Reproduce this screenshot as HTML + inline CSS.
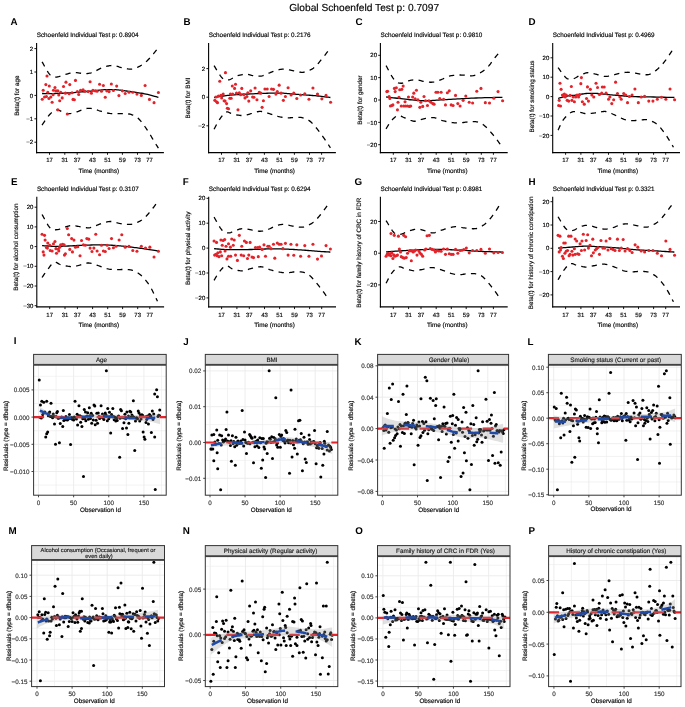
<!DOCTYPE html>
<html><head><meta charset="utf-8"><style>
html,body{margin:0;padding:0;background:#fff;}
svg{display:block;will-change:transform;}
text{font-family:"Liberation Sans", sans-serif;text-rendering:geometricPrecision;}
</style></head><body>
<svg width="685" height="707" viewBox="0 0 685 707">
<rect width="685" height="707" fill="#fff"/>
<text x="364.1" y="11" font-size="10.2" text-anchor="middle" stroke="#000" stroke-width="0.15">Global Schoenfeld Test p: 0.7097</text>
<text x="10.5" y="24.5" font-size="9.8" font-weight="bold">A</text>
<text x="183.5" y="24.5" font-size="9.8" font-weight="bold">B</text>
<text x="355.6" y="24.5" font-size="9.8" font-weight="bold">C</text>
<text x="528.5" y="24.5" font-size="9.8" font-weight="bold">D</text>
<text x="11" y="184.7" font-size="9.8" font-weight="bold">E</text>
<text x="182.8" y="184.7" font-size="9.8" font-weight="bold">F</text>
<text x="354.6" y="184.7" font-size="9.8" font-weight="bold">G</text>
<text x="528.5" y="184.7" font-size="9.8" font-weight="bold">H</text>
<text x="13.7" y="344.4" font-size="9.8" font-weight="bold">I</text>
<text x="183.2" y="344.5" font-size="9.8" font-weight="bold">J</text>
<text x="354.6" y="344.5" font-size="9.8" font-weight="bold">K</text>
<text x="527.6" y="344.5" font-size="9.8" font-weight="bold">L</text>
<text x="8.4" y="533.5" font-size="9.8" font-weight="bold">M</text>
<text x="182.8" y="533.5" font-size="9.8" font-weight="bold">N</text>
<text x="355.3" y="533.5" font-size="9.8" font-weight="bold">O</text>
<text x="528.6" y="533.5" font-size="9.8" font-weight="bold">P</text>
<text x="36.7" y="36.8" font-size="6.35" stroke="#000" stroke-width="0.15">Schoenfeld Individual Test p: 0.8904</text>
<path d="M42.07 61.82 L42.71 62.93 L43.57 64.48 L44.6 66.33 L45.74 68.35 L46.93 70.38 L48.11 72.28 L49.23 73.9 L50.23 75.11 L51.13 75.92 L51.98 76.48 L52.79 76.84 L53.59 77.03 L54.38 77.1 L55.18 77.09 L56.01 77.05 L56.88 77.01 L57.77 76.92 L58.66 76.73 L59.57 76.45 L60.49 76.12 L61.44 75.75 L62.41 75.38 L63.42 75.03 L64.47 74.73 L65.55 74.44 L66.66 74.12 L67.8 73.8 L68.97 73.48 L70.18 73.19 L71.41 72.95 L72.67 72.76 L73.96 72.64 L75.31 72.63 L76.76 72.72 L78.25 72.88 L79.77 73.07 L81.27 73.27 L82.72 73.44 L84.09 73.56 L85.34 73.59 L86.47 73.55 L87.51 73.48 L88.47 73.37 L89.38 73.22 L90.25 73.04 L91.13 72.82 L92.01 72.56 L92.93 72.26 L93.88 71.9 L94.83 71.46 L95.78 70.96 L96.73 70.44 L97.68 69.9 L98.63 69.38 L99.58 68.89 L100.53 68.47 L101.49 68.08 L102.47 67.71 L103.46 67.35 L104.44 67.02 L105.41 66.71 L106.35 66.44 L107.26 66.2 L108.12 66 L108.91 65.84 L109.63 65.7 L110.31 65.6 L110.96 65.54 L111.62 65.5 L112.3 65.51 L113.02 65.54 L113.81 65.62 L114.67 65.75 L115.57 65.94 L116.52 66.18 L117.49 66.45 L118.47 66.73 L119.46 67.02 L120.44 67.28 L121.4 67.52 L122.36 67.74 L123.34 67.97 L124.33 68.21 L125.32 68.43 L126.28 68.64 L127.23 68.81 L128.13 68.95 L128.99 69.04 L129.78 69.09 L130.51 69.12 L131.18 69.12 L131.84 69.08 L132.5 69.01 L133.17 68.89 L133.9 68.71 L134.69 68.47 L135.54 68.17 L136.45 67.81 L137.39 67.41 L138.36 66.95 L139.35 66.45 L140.34 65.9 L141.32 65.3 L142.28 64.67 L143.22 64 L144.15 63.3 L145.08 62.56 L146.01 61.77 L146.95 60.92 L147.9 60.02 L148.87 59.06 L149.87 58.03 L150.95 56.83 L152.14 55.44 L153.38 53.93 L154.61 52.4 L155.79 50.91 L156.85 49.56 L157.74 48.42 L158.41 47.59" fill="none" stroke="#000" stroke-width="1.3" stroke-dasharray="5.3 5.3"/>
<path d="M42.07 125.02 L42.63 124.21 L43.36 123.1 L44.23 121.77 L45.2 120.31 L46.24 118.82 L47.29 117.37 L48.32 116.05 L49.28 114.96 L50.2 114.03 L51.11 113.13 L52.02 112.29 L52.94 111.54 L53.87 110.89 L54.84 110.38 L55.83 110.02 L56.88 109.84 L57.97 109.92 L59.11 110.29 L60.3 110.84 L61.5 111.51 L62.72 112.21 L63.95 112.85 L65.17 113.35 L66.36 113.64 L67.55 113.71 L68.74 113.67 L69.92 113.54 L71.11 113.33 L72.3 113.06 L73.48 112.75 L74.67 112.43 L75.85 112.12 L77.05 111.76 L78.27 111.32 L79.5 110.82 L80.72 110.31 L81.92 109.81 L83.1 109.36 L84.25 108.98 L85.34 108.7 L86.38 108.52 L87.37 108.4 L88.33 108.34 L89.26 108.33 L90.17 108.37 L91.08 108.45 L92 108.56 L92.93 108.7 L93.87 108.89 L94.79 109.15 L95.7 109.45 L96.61 109.79 L97.54 110.15 L98.49 110.51 L99.49 110.85 L100.53 111.17 L101.62 111.48 L102.76 111.8 L103.94 112.13 L105.15 112.45 L106.37 112.75 L107.6 113.03 L108.82 113.26 L110.01 113.45 L111.21 113.57 L112.43 113.64 L113.66 113.68 L114.88 113.68 L116.08 113.67 L117.26 113.65 L118.41 113.63 L119.5 113.64 L120.54 113.63 L121.53 113.6 L122.49 113.55 L123.42 113.5 L124.33 113.48 L125.24 113.48 L126.16 113.53 L127.09 113.64 L128.06 113.79 L129.04 113.99 L130.03 114.21 L131.01 114.48 L131.98 114.78 L132.92 115.12 L133.83 115.49 L134.69 115.91 L135.48 116.35 L136.2 116.79 L136.88 117.26 L137.53 117.77 L138.19 118.35 L138.87 119.01 L139.59 119.77 L140.38 120.66 L141.25 121.7 L142.19 122.89 L143.17 124.2 L144.18 125.58 L145.18 127 L146.16 128.42 L147.1 129.8 L147.97 131.09 L148.78 132.34 L149.55 133.58 L150.29 134.81 L151 136.02 L151.68 137.21 L152.35 138.37 L153.01 139.5 L153.66 140.58 L154.34 141.68 L155.03 142.79 L155.72 143.9 L156.39 144.97 L157.02 145.97 L157.58 146.86 L158.05 147.6 L158.41 148.18" fill="none" stroke="#000" stroke-width="1.3" stroke-dasharray="5.3 5.3"/>
<path d="M42.07 93.52 L43.03 93.52 L44.25 93.54 L45.7 93.56 L47.34 93.58 L49.13 93.59 L51.02 93.58 L52.99 93.56 L54.98 93.52 L57.06 93.45 L59.3 93.37 L61.65 93.27 L64.09 93.15 L66.57 93.02 L69.07 92.88 L71.54 92.73 L73.96 92.57 L76.38 92.39 L78.88 92.18 L81.41 91.96 L83.92 91.73 L86.37 91.49 L88.72 91.27 L90.93 91.05 L92.93 90.86 L94.72 90.68 L96.31 90.51 L97.76 90.34 L99.1 90.19 L100.38 90.04 L101.65 89.91 L102.95 89.81 L104.32 89.72 L105.76 89.66 L107.21 89.62 L108.67 89.59 L110.13 89.58 L111.58 89.59 L112.99 89.62 L114.38 89.66 L115.71 89.72 L116.98 89.81 L118.21 89.92 L119.41 90.06 L120.57 90.21 L121.72 90.37 L122.87 90.54 L124.02 90.7 L125.2 90.86 L126.37 91.01 L127.52 91.17 L128.67 91.32 L129.82 91.48 L130.99 91.64 L132.18 91.81 L133.41 92 L134.69 92.19 L136.01 92.39 L137.38 92.59 L138.78 92.8 L140.2 93.02 L141.65 93.25 L143.12 93.51 L144.59 93.78 L146.07 94.09 L147.65 94.45 L149.38 94.88 L151.17 95.34 L152.95 95.82 L154.64 96.28 L156.17 96.7 L157.45 97.06 L158.41 97.31" fill="none" stroke="#000" stroke-width="1.3"/>
<circle cx="47.01" cy="76.06" r="1.55" fill="#E3232A"/>
<circle cx="75.47" cy="80.42" r="1.55" fill="#E3232A"/>
<circle cx="90.09" cy="81.75" r="1.55" fill="#E3232A"/>
<circle cx="65.99" cy="82.13" r="1.55" fill="#E3232A"/>
<circle cx="99.58" cy="84.22" r="1.55" fill="#E3232A"/>
<circle cx="103.37" cy="85.55" r="1.55" fill="#E3232A"/>
<circle cx="111.34" cy="84.03" r="1.55" fill="#E3232A"/>
<circle cx="116.66" cy="86.12" r="1.55" fill="#E3232A"/>
<circle cx="145.12" cy="85.55" r="1.55" fill="#E3232A"/>
<circle cx="45.87" cy="84.6" r="1.55" fill="#E3232A"/>
<circle cx="49.28" cy="85.93" r="1.55" fill="#E3232A"/>
<circle cx="54.98" cy="87.45" r="1.55" fill="#E3232A"/>
<circle cx="63.52" cy="86.5" r="1.55" fill="#E3232A"/>
<circle cx="69.78" cy="84.6" r="1.55" fill="#E3232A"/>
<circle cx="43.21" cy="90.29" r="1.55" fill="#E3232A"/>
<circle cx="47.77" cy="92.19" r="1.55" fill="#E3232A"/>
<circle cx="53.46" cy="90.29" r="1.55" fill="#E3232A"/>
<circle cx="55.93" cy="90.86" r="1.55" fill="#E3232A"/>
<circle cx="57.82" cy="90.86" r="1.55" fill="#E3232A"/>
<circle cx="60.67" cy="92.19" r="1.55" fill="#E3232A"/>
<circle cx="65.42" cy="93.14" r="1.55" fill="#E3232A"/>
<circle cx="69.21" cy="93.71" r="1.55" fill="#E3232A"/>
<circle cx="72.06" cy="92.76" r="1.55" fill="#E3232A"/>
<circle cx="77.37" cy="91.62" r="1.55" fill="#E3232A"/>
<circle cx="78.7" cy="94.47" r="1.55" fill="#E3232A"/>
<circle cx="80.6" cy="90.29" r="1.55" fill="#E3232A"/>
<circle cx="83.07" cy="89.72" r="1.55" fill="#E3232A"/>
<circle cx="84.96" cy="91.24" r="1.55" fill="#E3232A"/>
<circle cx="88.19" cy="91.62" r="1.55" fill="#E3232A"/>
<circle cx="91.42" cy="93.14" r="1.55" fill="#E3232A"/>
<circle cx="92.93" cy="90.29" r="1.55" fill="#E3232A"/>
<circle cx="95.21" cy="90.86" r="1.55" fill="#E3232A"/>
<circle cx="97.11" cy="91.24" r="1.55" fill="#E3232A"/>
<circle cx="101.47" cy="91.24" r="1.55" fill="#E3232A"/>
<circle cx="106.79" cy="90.86" r="1.55" fill="#E3232A"/>
<circle cx="109.07" cy="91.62" r="1.55" fill="#E3232A"/>
<circle cx="113.43" cy="90.48" r="1.55" fill="#E3232A"/>
<circle cx="122.35" cy="90.86" r="1.55" fill="#E3232A"/>
<circle cx="125.2" cy="93.52" r="1.55" fill="#E3232A"/>
<circle cx="128.99" cy="92.19" r="1.55" fill="#E3232A"/>
<circle cx="132.79" cy="92.19" r="1.55" fill="#E3232A"/>
<circle cx="136.96" cy="94.09" r="1.55" fill="#E3232A"/>
<circle cx="141.33" cy="95.42" r="1.55" fill="#E3232A"/>
<circle cx="158.41" cy="92.57" r="1.55" fill="#E3232A"/>
<circle cx="42.26" cy="99.21" r="1.55" fill="#E3232A"/>
<circle cx="44.54" cy="96.93" r="1.55" fill="#E3232A"/>
<circle cx="46.44" cy="96.55" r="1.55" fill="#E3232A"/>
<circle cx="48.91" cy="98.45" r="1.55" fill="#E3232A"/>
<circle cx="50.8" cy="96.93" r="1.55" fill="#E3232A"/>
<circle cx="52.13" cy="102.25" r="1.55" fill="#E3232A"/>
<circle cx="53.08" cy="94.66" r="1.55" fill="#E3232A"/>
<circle cx="59.72" cy="100.73" r="1.55" fill="#E3232A"/>
<circle cx="62.19" cy="97.88" r="1.55" fill="#E3232A"/>
<circle cx="58.77" cy="95.04" r="1.55" fill="#E3232A"/>
<circle cx="73.01" cy="99.4" r="1.55" fill="#E3232A"/>
<circle cx="74.34" cy="99.78" r="1.55" fill="#E3232A"/>
<circle cx="105.27" cy="97.31" r="1.55" fill="#E3232A"/>
<circle cx="118.93" cy="95.61" r="1.55" fill="#E3232A"/>
<circle cx="149.49" cy="99.4" r="1.55" fill="#E3232A"/>
<circle cx="154.04" cy="102.63" r="1.55" fill="#E3232A"/>
<circle cx="57.82" cy="109.84" r="1.55" fill="#E3232A"/>
<circle cx="67.31" cy="114.01" r="1.55" fill="#E3232A"/>
<line x1="36.6" y1="43" x2="36.6" y2="153.15" stroke="#000" stroke-width="1.1"/>
<line x1="36.05" y1="152.6" x2="163.9" y2="152.6" stroke="#000" stroke-width="1.1"/>
<line x1="49.5" y1="152.6" x2="49.5" y2="154.8" stroke="#000" stroke-width="0.9"/>
<text x="49.5" y="162.4" font-size="6" text-anchor="middle" stroke="#000" stroke-width="0.15">17</text>
<line x1="64.8" y1="152.6" x2="64.8" y2="154.8" stroke="#000" stroke-width="0.9"/>
<text x="64.8" y="162.4" font-size="6" text-anchor="middle" stroke="#000" stroke-width="0.15">31</text>
<line x1="77.2" y1="152.6" x2="77.2" y2="154.8" stroke="#000" stroke-width="0.9"/>
<text x="77.2" y="162.4" font-size="6" text-anchor="middle" stroke="#000" stroke-width="0.15">37</text>
<line x1="92.4" y1="152.6" x2="92.4" y2="154.8" stroke="#000" stroke-width="0.9"/>
<text x="92.4" y="162.4" font-size="6" text-anchor="middle" stroke="#000" stroke-width="0.15">43</text>
<line x1="107.5" y1="152.6" x2="107.5" y2="154.8" stroke="#000" stroke-width="0.9"/>
<text x="107.5" y="162.4" font-size="6" text-anchor="middle" stroke="#000" stroke-width="0.15">51</text>
<line x1="122.4" y1="152.6" x2="122.4" y2="154.8" stroke="#000" stroke-width="0.9"/>
<text x="122.4" y="162.4" font-size="6" text-anchor="middle" stroke="#000" stroke-width="0.15">59</text>
<line x1="137.5" y1="152.6" x2="137.5" y2="154.8" stroke="#000" stroke-width="0.9"/>
<text x="137.5" y="162.4" font-size="6" text-anchor="middle" stroke="#000" stroke-width="0.15">73</text>
<line x1="149.6" y1="152.6" x2="149.6" y2="154.8" stroke="#000" stroke-width="0.9"/>
<text x="149.6" y="162.4" font-size="6" text-anchor="middle" stroke="#000" stroke-width="0.15">77</text>
<text x="98.85" y="172.9" font-size="6.35" text-anchor="middle" stroke="#000" stroke-width="0.15">Time (months)</text>
<line x1="34.4" y1="142.2" x2="36.6" y2="142.2" stroke="#000" stroke-width="0.9"/>
<text x="33.2" y="144.35" font-size="6" text-anchor="end" stroke="#000" stroke-width="0.15">−2</text>
<line x1="34.4" y1="118.8" x2="36.6" y2="118.8" stroke="#000" stroke-width="0.9"/>
<text x="33.2" y="120.95" font-size="6" text-anchor="end" stroke="#000" stroke-width="0.15">−1</text>
<line x1="34.4" y1="95.4" x2="36.6" y2="95.4" stroke="#000" stroke-width="0.9"/>
<text x="33.2" y="97.55" font-size="6" text-anchor="end" stroke="#000" stroke-width="0.15">0</text>
<line x1="34.4" y1="72" x2="36.6" y2="72" stroke="#000" stroke-width="0.9"/>
<text x="33.2" y="74.15" font-size="6" text-anchor="end" stroke="#000" stroke-width="0.15">1</text>
<line x1="34.4" y1="48.6" x2="36.6" y2="48.6" stroke="#000" stroke-width="0.9"/>
<text x="33.2" y="50.75" font-size="6" text-anchor="end" stroke="#000" stroke-width="0.15">2</text>
<text x="18.6" y="95.7" font-size="6.3" text-anchor="middle" transform="rotate(-90 18.6 95.7)" stroke="#000" stroke-width="0.15">Beta(t) for age</text>
<text x="208.7" y="36.8" font-size="6.35" stroke="#000" stroke-width="0.15">Schoenfeld Individual Test p: 0.2176</text>
<path d="M214.07 65.62 L214.71 66.64 L215.57 68.08 L216.6 69.8 L217.74 71.67 L218.93 73.55 L220.11 75.32 L221.23 76.83 L222.23 77.96 L223.13 78.73 L223.98 79.3 L224.79 79.68 L225.59 79.91 L226.38 80.02 L227.18 80.02 L228.01 79.96 L228.88 79.85 L229.77 79.64 L230.66 79.26 L231.57 78.76 L232.49 78.19 L233.44 77.59 L234.41 77.01 L235.42 76.48 L236.47 76.06 L237.58 75.71 L238.75 75.37 L239.97 75.06 L241.21 74.78 L242.45 74.54 L243.67 74.35 L244.85 74.22 L245.96 74.16 L247 74.19 L247.99 74.33 L248.94 74.53 L249.87 74.78 L250.78 75.04 L251.69 75.3 L252.61 75.52 L253.55 75.68 L254.5 75.8 L255.45 75.93 L256.39 76.05 L257.34 76.14 L258.29 76.2 L259.24 76.22 L260.19 76.17 L261.14 76.06 L262.09 75.86 L263.04 75.57 L263.99 75.23 L264.93 74.84 L265.88 74.42 L266.83 74 L267.78 73.59 L268.73 73.21 L269.68 72.85 L270.63 72.46 L271.58 72.08 L272.53 71.69 L273.47 71.32 L274.42 70.97 L275.37 70.65 L276.32 70.36 L277.27 70.11 L278.22 69.86 L279.17 69.64 L280.12 69.44 L281.07 69.27 L282.01 69.15 L282.96 69.07 L283.91 69.04 L284.85 69.07 L285.77 69.17 L286.68 69.32 L287.59 69.5 L288.52 69.71 L289.47 69.93 L290.46 70.15 L291.5 70.36 L292.62 70.59 L293.83 70.87 L295.09 71.16 L296.37 71.46 L297.63 71.73 L298.84 71.98 L299.98 72.16 L300.99 72.26 L301.87 72.3 L302.64 72.29 L303.32 72.24 L303.96 72.14 L304.58 72 L305.22 71.82 L305.91 71.59 L306.69 71.31 L307.54 71.01 L308.45 70.68 L309.39 70.31 L310.36 69.89 L311.35 69.41 L312.34 68.87 L313.32 68.24 L314.28 67.52 L315.22 66.69 L316.15 65.77 L317.08 64.77 L318.01 63.7 L318.95 62.57 L319.9 61.4 L320.87 60.2 L321.87 58.98 L322.95 57.65 L324.14 56.14 L325.38 54.55 L326.61 52.94 L327.79 51.4 L328.85 50.01 L329.74 48.84 L330.41 47.97" fill="none" stroke="#000" stroke-width="1.3" stroke-dasharray="5.3 5.3"/>
<path d="M214.07 129.2 L214.47 128.45 L215 127.45 L215.62 126.25 L216.31 124.93 L217.06 123.54 L217.84 122.17 L218.62 120.87 L219.39 119.71 L220.15 118.6 L220.95 117.45 L221.78 116.31 L222.62 115.2 L223.48 114.19 L224.34 113.3 L225.19 112.6 L226.03 112.12 L226.84 111.9 L227.62 111.93 L228.39 112.15 L229.17 112.5 L229.97 112.91 L230.81 113.34 L231.71 113.73 L232.67 114.01 L233.73 114.24 L234.89 114.49 L236.1 114.75 L237.36 114.99 L238.62 115.2 L239.86 115.38 L241.05 115.49 L242.16 115.53 L243.2 115.49 L244.19 115.38 L245.15 115.22 L246.07 115.01 L246.99 114.77 L247.9 114.52 L248.82 114.26 L249.75 114.01 L250.71 113.75 L251.69 113.45 L252.68 113.12 L253.67 112.78 L254.64 112.46 L255.58 112.16 L256.48 111.92 L257.34 111.74 L258.13 111.61 L258.86 111.52 L259.53 111.47 L260.19 111.45 L260.85 111.47 L261.52 111.52 L262.25 111.61 L263.04 111.74 L263.88 111.91 L264.76 112.13 L265.66 112.4 L266.59 112.7 L267.56 113.02 L268.55 113.35 L269.58 113.69 L270.63 114.01 L271.74 114.36 L272.91 114.73 L274.13 115.12 L275.37 115.52 L276.61 115.91 L277.83 116.27 L279.01 116.59 L280.12 116.86 L281.16 117.08 L282.15 117.26 L283.1 117.41 L284.03 117.54 L284.94 117.64 L285.85 117.71 L286.77 117.77 L287.71 117.81 L288.66 117.82 L289.61 117.79 L290.55 117.73 L291.5 117.66 L292.45 117.58 L293.4 117.5 L294.35 117.45 L295.3 117.43 L296.25 117.42 L297.2 117.39 L298.15 117.37 L299.09 117.36 L300.04 117.38 L300.99 117.46 L301.94 117.59 L302.89 117.81 L303.84 118.09 L304.79 118.41 L305.74 118.77 L306.69 119.2 L307.64 119.68 L308.58 120.24 L309.53 120.88 L310.48 121.61 L311.43 122.43 L312.38 123.36 L313.33 124.38 L314.28 125.46 L315.23 126.6 L316.18 127.77 L317.12 128.96 L318.07 130.15 L319.04 131.38 L320.04 132.7 L321.04 134.06 L322.05 135.45 L323.03 136.82 L323.97 138.16 L324.85 139.42 L325.66 140.58 L326.43 141.69 L327.16 142.78 L327.86 143.84 L328.51 144.84 L329.1 145.76 L329.62 146.58 L330.06 147.26 L330.41 147.8" fill="none" stroke="#000" stroke-width="1.3" stroke-dasharray="5.3 5.3"/>
<path d="M214.07 97.5 L214.75 97.39 L215.61 97.23 L216.64 97.04 L217.8 96.83 L219.06 96.61 L220.4 96.39 L221.78 96.18 L223.18 95.99 L224.6 95.81 L226.08 95.63 L227.61 95.46 L229.21 95.29 L230.88 95.12 L232.65 94.96 L234.51 94.8 L236.47 94.66 L238.59 94.52 L240.9 94.38 L243.33 94.26 L245.84 94.14 L248.36 94.02 L250.83 93.91 L253.22 93.81 L255.45 93.71 L257.55 93.61 L259.6 93.53 L261.58 93.44 L263.51 93.36 L265.38 93.29 L267.19 93.23 L268.94 93.18 L270.63 93.14 L272.23 93.1 L273.74 93.08 L275.18 93.06 L276.56 93.04 L277.91 93.04 L279.26 93.06 L280.62 93.09 L282.01 93.14 L283.42 93.21 L284.82 93.31 L286.2 93.43 L287.59 93.55 L288.99 93.69 L290.42 93.83 L291.89 93.96 L293.4 94.09 L294.98 94.21 L296.63 94.32 L298.33 94.44 L300.04 94.56 L301.76 94.68 L303.45 94.8 L305.1 94.92 L306.69 95.04 L308.19 95.15 L309.64 95.26 L311.05 95.37 L312.44 95.48 L313.82 95.59 L315.2 95.71 L316.62 95.84 L318.07 95.99 L319.65 96.16 L321.38 96.36 L323.17 96.58 L324.95 96.8 L326.64 97.02 L328.17 97.22 L329.45 97.38 L330.41 97.5" fill="none" stroke="#000" stroke-width="1.3"/>
<circle cx="225.46" cy="72.64" r="1.55" fill="#E3232A"/>
<circle cx="219.77" cy="81.18" r="1.55" fill="#E3232A"/>
<circle cx="232.29" cy="85.93" r="1.55" fill="#E3232A"/>
<circle cx="235.52" cy="84.22" r="1.55" fill="#E3232A"/>
<circle cx="234.57" cy="88.39" r="1.55" fill="#E3232A"/>
<circle cx="241.78" cy="88.39" r="1.55" fill="#E3232A"/>
<circle cx="255.07" cy="88.01" r="1.55" fill="#E3232A"/>
<circle cx="264.93" cy="88.96" r="1.55" fill="#E3232A"/>
<circle cx="267.21" cy="88.96" r="1.55" fill="#E3232A"/>
<circle cx="271.58" cy="88.96" r="1.55" fill="#E3232A"/>
<circle cx="273.47" cy="89.34" r="1.55" fill="#E3232A"/>
<circle cx="279.17" cy="85.17" r="1.55" fill="#E3232A"/>
<circle cx="288.09" cy="87.82" r="1.55" fill="#E3232A"/>
<circle cx="312.95" cy="88.01" r="1.55" fill="#E3232A"/>
<circle cx="214.83" cy="100.35" r="1.55" fill="#E3232A"/>
<circle cx="216.54" cy="101.68" r="1.55" fill="#E3232A"/>
<circle cx="217.49" cy="102.63" r="1.55" fill="#E3232A"/>
<circle cx="215.97" cy="96.93" r="1.55" fill="#E3232A"/>
<circle cx="218.44" cy="95.99" r="1.55" fill="#E3232A"/>
<circle cx="220.91" cy="95.42" r="1.55" fill="#E3232A"/>
<circle cx="223.18" cy="94.09" r="1.55" fill="#E3232A"/>
<circle cx="221.66" cy="97.88" r="1.55" fill="#E3232A"/>
<circle cx="225.08" cy="101.11" r="1.55" fill="#E3232A"/>
<circle cx="226.6" cy="103.58" r="1.55" fill="#E3232A"/>
<circle cx="224.13" cy="100.73" r="1.55" fill="#E3232A"/>
<circle cx="227.36" cy="108.32" r="1.55" fill="#E3232A"/>
<circle cx="228.5" cy="108.7" r="1.55" fill="#E3232A"/>
<circle cx="229.82" cy="98.26" r="1.55" fill="#E3232A"/>
<circle cx="231.15" cy="98.26" r="1.55" fill="#E3232A"/>
<circle cx="230.39" cy="94.09" r="1.55" fill="#E3232A"/>
<circle cx="232.67" cy="94.09" r="1.55" fill="#E3232A"/>
<circle cx="236.47" cy="93.14" r="1.55" fill="#E3232A"/>
<circle cx="239.31" cy="92.76" r="1.55" fill="#E3232A"/>
<circle cx="240.64" cy="94.66" r="1.55" fill="#E3232A"/>
<circle cx="243.68" cy="94.66" r="1.55" fill="#E3232A"/>
<circle cx="245.01" cy="97.88" r="1.55" fill="#E3232A"/>
<circle cx="246.91" cy="96.55" r="1.55" fill="#E3232A"/>
<circle cx="247.85" cy="92.76" r="1.55" fill="#E3232A"/>
<circle cx="250.7" cy="90.86" r="1.55" fill="#E3232A"/>
<circle cx="252.6" cy="96.93" r="1.55" fill="#E3232A"/>
<circle cx="253.93" cy="97.31" r="1.55" fill="#E3232A"/>
<circle cx="256.96" cy="99.78" r="1.55" fill="#E3232A"/>
<circle cx="259.24" cy="92.19" r="1.55" fill="#E3232A"/>
<circle cx="260.76" cy="93.14" r="1.55" fill="#E3232A"/>
<circle cx="248.8" cy="101.11" r="1.55" fill="#E3232A"/>
<circle cx="263.42" cy="100.73" r="1.55" fill="#E3232A"/>
<circle cx="269.11" cy="96.55" r="1.55" fill="#E3232A"/>
<circle cx="275.94" cy="94.09" r="1.55" fill="#E3232A"/>
<circle cx="277.27" cy="91.62" r="1.55" fill="#E3232A"/>
<circle cx="281.07" cy="93.14" r="1.55" fill="#E3232A"/>
<circle cx="283.34" cy="100.35" r="1.55" fill="#E3232A"/>
<circle cx="285.43" cy="96.55" r="1.55" fill="#E3232A"/>
<circle cx="291.12" cy="95.04" r="1.55" fill="#E3232A"/>
<circle cx="293.78" cy="93.14" r="1.55" fill="#E3232A"/>
<circle cx="296.82" cy="98.45" r="1.55" fill="#E3232A"/>
<circle cx="300.61" cy="95.04" r="1.55" fill="#E3232A"/>
<circle cx="304.79" cy="93.71" r="1.55" fill="#E3232A"/>
<circle cx="308.96" cy="99.21" r="1.55" fill="#E3232A"/>
<circle cx="317.5" cy="94.09" r="1.55" fill="#E3232A"/>
<circle cx="321.87" cy="98.83" r="1.55" fill="#E3232A"/>
<circle cx="326.04" cy="95.42" r="1.55" fill="#E3232A"/>
<circle cx="330.6" cy="102.25" r="1.55" fill="#E3232A"/>
<circle cx="237.99" cy="109.84" r="1.55" fill="#E3232A"/>
<circle cx="262.09" cy="107.37" r="1.55" fill="#E3232A"/>
<line x1="208.6" y1="43" x2="208.6" y2="153.15" stroke="#000" stroke-width="1.1"/>
<line x1="208.05" y1="152.6" x2="335.9" y2="152.6" stroke="#000" stroke-width="1.1"/>
<line x1="221.5" y1="152.6" x2="221.5" y2="154.8" stroke="#000" stroke-width="0.9"/>
<text x="221.5" y="162.4" font-size="6" text-anchor="middle" stroke="#000" stroke-width="0.15">17</text>
<line x1="236.8" y1="152.6" x2="236.8" y2="154.8" stroke="#000" stroke-width="0.9"/>
<text x="236.8" y="162.4" font-size="6" text-anchor="middle" stroke="#000" stroke-width="0.15">31</text>
<line x1="249.2" y1="152.6" x2="249.2" y2="154.8" stroke="#000" stroke-width="0.9"/>
<text x="249.2" y="162.4" font-size="6" text-anchor="middle" stroke="#000" stroke-width="0.15">37</text>
<line x1="264.4" y1="152.6" x2="264.4" y2="154.8" stroke="#000" stroke-width="0.9"/>
<text x="264.4" y="162.4" font-size="6" text-anchor="middle" stroke="#000" stroke-width="0.15">43</text>
<line x1="279.5" y1="152.6" x2="279.5" y2="154.8" stroke="#000" stroke-width="0.9"/>
<text x="279.5" y="162.4" font-size="6" text-anchor="middle" stroke="#000" stroke-width="0.15">51</text>
<line x1="294.4" y1="152.6" x2="294.4" y2="154.8" stroke="#000" stroke-width="0.9"/>
<text x="294.4" y="162.4" font-size="6" text-anchor="middle" stroke="#000" stroke-width="0.15">59</text>
<line x1="309.5" y1="152.6" x2="309.5" y2="154.8" stroke="#000" stroke-width="0.9"/>
<text x="309.5" y="162.4" font-size="6" text-anchor="middle" stroke="#000" stroke-width="0.15">73</text>
<line x1="321.6" y1="152.6" x2="321.6" y2="154.8" stroke="#000" stroke-width="0.9"/>
<text x="321.6" y="162.4" font-size="6" text-anchor="middle" stroke="#000" stroke-width="0.15">77</text>
<text x="274.6" y="172.9" font-size="6.35" text-anchor="middle" stroke="#000" stroke-width="0.15">Time (months)</text>
<line x1="206.4" y1="125.8" x2="208.6" y2="125.8" stroke="#000" stroke-width="0.9"/>
<text x="205.2" y="127.95" font-size="6" text-anchor="end" stroke="#000" stroke-width="0.15">−2</text>
<line x1="206.4" y1="97.2" x2="208.6" y2="97.2" stroke="#000" stroke-width="0.9"/>
<text x="205.2" y="99.35" font-size="6" text-anchor="end" stroke="#000" stroke-width="0.15">0</text>
<line x1="206.4" y1="68.6" x2="208.6" y2="68.6" stroke="#000" stroke-width="0.9"/>
<text x="205.2" y="70.75" font-size="6" text-anchor="end" stroke="#000" stroke-width="0.15">2</text>
<text x="189.6" y="98.05" font-size="6.3" text-anchor="middle" transform="rotate(-90 189.6 98.05)" stroke="#000" stroke-width="0.15">Beta(t) for BMI</text>
<text x="380.5" y="36.8" font-size="6.35" stroke="#000" stroke-width="0.15">Schoenfeld Individual Test p: 0.9810</text>
<path d="M386.07 65.62 L386.71 66.79 L387.57 68.43 L388.6 70.39 L389.74 72.52 L390.93 74.68 L392.11 76.72 L393.23 78.5 L394.23 79.85 L395.13 80.84 L395.98 81.61 L396.79 82.19 L397.59 82.61 L398.38 82.9 L399.18 83.08 L400.01 83.2 L400.88 83.27 L401.78 83.23 L402.71 83.03 L403.65 82.71 L404.61 82.31 L405.58 81.88 L406.55 81.45 L407.51 81.08 L408.47 80.8 L409.4 80.59 L410.32 80.39 L411.23 80.21 L412.14 80.06 L413.07 79.93 L414.03 79.86 L415.02 79.83 L416.06 79.85 L417.17 79.97 L418.34 80.16 L419.56 80.42 L420.8 80.72 L422.04 81.03 L423.26 81.32 L424.44 81.57 L425.55 81.75 L426.59 81.89 L427.58 82.02 L428.53 82.12 L429.46 82.2 L430.38 82.25 L431.29 82.26 L432.2 82.22 L433.14 82.13 L434.09 81.98 L435.04 81.78 L435.99 81.52 L436.93 81.23 L437.88 80.91 L438.83 80.57 L439.78 80.21 L440.73 79.85 L441.68 79.47 L442.63 79.03 L443.58 78.56 L444.53 78.09 L445.47 77.62 L446.42 77.17 L447.37 76.77 L448.32 76.44 L449.27 76.16 L450.22 75.93 L451.17 75.73 L452.12 75.56 L453.07 75.42 L454.01 75.3 L454.96 75.2 L455.91 75.11 L456.85 75.04 L457.77 75 L458.68 74.99 L459.59 74.99 L460.52 75.01 L461.47 75.04 L462.46 75.07 L463.5 75.11 L464.61 75.18 L465.79 75.3 L467.01 75.44 L468.25 75.58 L469.49 75.7 L470.71 75.78 L471.88 75.78 L472.99 75.68 L474.03 75.49 L475.02 75.24 L475.98 74.94 L476.91 74.58 L477.82 74.16 L478.73 73.7 L479.65 73.19 L480.58 72.64 L481.55 72.04 L482.53 71.37 L483.51 70.65 L484.5 69.89 L485.47 69.09 L486.41 68.27 L487.32 67.42 L488.18 66.57 L488.98 65.69 L489.72 64.77 L490.43 63.82 L491.12 62.84 L491.79 61.86 L492.46 60.88 L493.15 59.92 L493.87 58.98 L494.65 58.01 L495.5 56.98 L496.39 55.93 L497.26 54.9 L498.09 53.93 L498.84 53.05 L499.47 52.32 L499.94 51.77" fill="none" stroke="#000" stroke-width="1.3" stroke-dasharray="5.3 5.3"/>
<path d="M386.07 128.82 L386.47 128.17 L387 127.28 L387.62 126.22 L388.31 125.06 L389.06 123.85 L389.84 122.67 L390.62 121.59 L391.39 120.66 L392.15 119.82 L392.95 118.99 L393.78 118.19 L394.62 117.44 L395.48 116.78 L396.34 116.22 L397.19 115.8 L398.03 115.53 L398.84 115.46 L399.62 115.56 L400.39 115.79 L401.17 116.14 L401.97 116.55 L402.81 116.99 L403.71 117.42 L404.67 117.81 L405.73 118.22 L406.89 118.71 L408.1 119.24 L409.36 119.78 L410.62 120.28 L411.86 120.72 L413.05 121.05 L414.16 121.23 L415.2 121.24 L416.19 121.12 L417.15 120.89 L418.07 120.59 L418.99 120.25 L419.9 119.9 L420.82 119.58 L421.75 119.33 L422.71 119.11 L423.69 118.89 L424.68 118.66 L425.67 118.45 L426.64 118.25 L427.58 118.07 L428.48 117.92 L429.34 117.81 L430.13 117.72 L430.86 117.64 L431.53 117.57 L432.19 117.54 L432.85 117.53 L433.52 117.57 L434.25 117.66 L435.04 117.81 L435.88 118.04 L436.76 118.34 L437.66 118.71 L438.59 119.11 L439.56 119.53 L440.55 119.95 L441.58 120.33 L442.63 120.66 L443.74 120.95 L444.91 121.23 L446.13 121.5 L447.37 121.76 L448.61 122 L449.83 122.21 L451.01 122.4 L452.12 122.55 L453.16 122.68 L454.15 122.79 L455.1 122.87 L456.03 122.92 L456.94 122.96 L457.85 122.97 L458.77 122.96 L459.71 122.93 L460.66 122.88 L461.61 122.78 L462.55 122.65 L463.5 122.51 L464.45 122.36 L465.4 122.21 L466.35 122.09 L467.3 121.99 L468.26 121.9 L469.24 121.81 L470.23 121.72 L471.21 121.64 L472.18 121.58 L473.13 121.55 L474.03 121.56 L474.89 121.61 L475.69 121.69 L476.45 121.79 L477.16 121.92 L477.86 122.08 L478.53 122.28 L479.21 122.51 L479.89 122.79 L480.58 123.12 L481.28 123.49 L481.96 123.88 L482.64 124.3 L483.31 124.77 L484 125.3 L484.72 125.89 L485.47 126.55 L486.28 127.3 L487.14 128.15 L488.04 129.09 L488.99 130.12 L489.95 131.2 L490.94 132.33 L491.93 133.5 L492.91 134.67 L493.87 135.84 L494.87 137.09 L495.94 138.48 L497.05 139.94 L498.14 141.4 L499.17 142.8 L500.1 144.05 L500.87 145.11 L501.46 145.9" fill="none" stroke="#000" stroke-width="1.3" stroke-dasharray="5.3 5.3"/>
<path d="M386.07 96.93 L387.04 97.05 L388.29 97.2 L389.78 97.38 L391.46 97.57 L393.27 97.79 L395.16 98.01 L397.08 98.23 L398.98 98.45 L400.95 98.68 L403.09 98.94 L405.33 99.2 L407.61 99.47 L409.89 99.73 L412.09 99.97 L414.17 100.18 L416.06 100.35 L417.73 100.48 L419.22 100.58 L420.58 100.66 L421.87 100.72 L423.15 100.75 L424.47 100.76 L425.88 100.76 L427.45 100.73 L429.15 100.67 L430.93 100.59 L432.78 100.47 L434.68 100.34 L436.63 100.2 L438.61 100.05 L440.61 99.91 L442.63 99.78 L444.66 99.66 L446.72 99.54 L448.81 99.43 L450.93 99.31 L453.08 99.19 L455.26 99.07 L457.47 98.95 L459.71 98.83 L461.96 98.71 L464.21 98.59 L466.48 98.46 L468.78 98.33 L471.14 98.21 L473.56 98.09 L476.07 97.98 L478.69 97.88 L481.59 97.79 L484.84 97.7 L488.28 97.62 L491.73 97.54 L495.04 97.47 L498.03 97.41 L500.55 97.36 L502.41 97.31" fill="none" stroke="#000" stroke-width="1.3"/>
<circle cx="386.83" cy="91.62" r="1.55" fill="#E3232A"/>
<circle cx="387.59" cy="91.24" r="1.55" fill="#E3232A"/>
<circle cx="389.11" cy="96.55" r="1.55" fill="#E3232A"/>
<circle cx="389.87" cy="98.45" r="1.55" fill="#E3232A"/>
<circle cx="394.42" cy="88.39" r="1.55" fill="#E3232A"/>
<circle cx="396.32" cy="87.82" r="1.55" fill="#E3232A"/>
<circle cx="395.18" cy="91.62" r="1.55" fill="#E3232A"/>
<circle cx="399.74" cy="89.72" r="1.55" fill="#E3232A"/>
<circle cx="401.82" cy="89.34" r="1.55" fill="#E3232A"/>
<circle cx="403.15" cy="86.12" r="1.55" fill="#E3232A"/>
<circle cx="398.98" cy="97.31" r="1.55" fill="#E3232A"/>
<circle cx="398.03" cy="102.25" r="1.55" fill="#E3232A"/>
<circle cx="390.44" cy="106.04" r="1.55" fill="#E3232A"/>
<circle cx="391.77" cy="105.47" r="1.55" fill="#E3232A"/>
<circle cx="392.91" cy="104.91" r="1.55" fill="#E3232A"/>
<circle cx="397.46" cy="109.84" r="1.55" fill="#E3232A"/>
<circle cx="401.26" cy="106.04" r="1.55" fill="#E3232A"/>
<circle cx="403.72" cy="106.04" r="1.55" fill="#E3232A"/>
<circle cx="405.62" cy="106.04" r="1.55" fill="#E3232A"/>
<circle cx="407.52" cy="106.04" r="1.55" fill="#E3232A"/>
<circle cx="409.42" cy="106.42" r="1.55" fill="#E3232A"/>
<circle cx="410.74" cy="106.04" r="1.55" fill="#E3232A"/>
<circle cx="405.05" cy="101.68" r="1.55" fill="#E3232A"/>
<circle cx="408.47" cy="96.93" r="1.55" fill="#E3232A"/>
<circle cx="412.64" cy="96.93" r="1.55" fill="#E3232A"/>
<circle cx="413.78" cy="93.14" r="1.55" fill="#E3232A"/>
<circle cx="416.44" cy="90.29" r="1.55" fill="#E3232A"/>
<circle cx="415.11" cy="98.83" r="1.55" fill="#E3232A"/>
<circle cx="417.96" cy="99.78" r="1.55" fill="#E3232A"/>
<circle cx="420.8" cy="102.25" r="1.55" fill="#E3232A"/>
<circle cx="419.85" cy="107.37" r="1.55" fill="#E3232A"/>
<circle cx="422.7" cy="106.42" r="1.55" fill="#E3232A"/>
<circle cx="424.03" cy="96.55" r="1.55" fill="#E3232A"/>
<circle cx="425.55" cy="100.73" r="1.55" fill="#E3232A"/>
<circle cx="427.45" cy="105.47" r="1.55" fill="#E3232A"/>
<circle cx="428.96" cy="100.73" r="1.55" fill="#E3232A"/>
<circle cx="430.86" cy="102.25" r="1.55" fill="#E3232A"/>
<circle cx="432.76" cy="103.58" r="1.55" fill="#E3232A"/>
<circle cx="434.09" cy="104.15" r="1.55" fill="#E3232A"/>
<circle cx="435.99" cy="92.19" r="1.55" fill="#E3232A"/>
<circle cx="437.88" cy="92.19" r="1.55" fill="#E3232A"/>
<circle cx="441.11" cy="92.19" r="1.55" fill="#E3232A"/>
<circle cx="439.78" cy="98.45" r="1.55" fill="#E3232A"/>
<circle cx="443.58" cy="99.21" r="1.55" fill="#E3232A"/>
<circle cx="447.37" cy="92.76" r="1.55" fill="#E3232A"/>
<circle cx="449.27" cy="90.86" r="1.55" fill="#E3232A"/>
<circle cx="445.47" cy="104.91" r="1.55" fill="#E3232A"/>
<circle cx="451.17" cy="104.91" r="1.55" fill="#E3232A"/>
<circle cx="453.07" cy="105.47" r="1.55" fill="#E3232A"/>
<circle cx="455.53" cy="95.42" r="1.55" fill="#E3232A"/>
<circle cx="457.81" cy="103.58" r="1.55" fill="#E3232A"/>
<circle cx="460.09" cy="106.04" r="1.55" fill="#E3232A"/>
<circle cx="463.12" cy="100.35" r="1.55" fill="#E3232A"/>
<circle cx="465.78" cy="95.99" r="1.55" fill="#E3232A"/>
<circle cx="469.2" cy="102.25" r="1.55" fill="#E3232A"/>
<circle cx="472.61" cy="103.01" r="1.55" fill="#E3232A"/>
<circle cx="476.79" cy="91.24" r="1.55" fill="#E3232A"/>
<circle cx="480.96" cy="88.39" r="1.55" fill="#E3232A"/>
<circle cx="485.33" cy="102.63" r="1.55" fill="#E3232A"/>
<circle cx="489.5" cy="103.01" r="1.55" fill="#E3232A"/>
<circle cx="493.87" cy="98.26" r="1.55" fill="#E3232A"/>
<circle cx="498.04" cy="91.62" r="1.55" fill="#E3232A"/>
<circle cx="502.6" cy="100.73" r="1.55" fill="#E3232A"/>
<line x1="380.4" y1="43" x2="380.4" y2="153.15" stroke="#000" stroke-width="1.1"/>
<line x1="379.85" y1="152.6" x2="507.7" y2="152.6" stroke="#000" stroke-width="1.1"/>
<line x1="393.3" y1="152.6" x2="393.3" y2="154.8" stroke="#000" stroke-width="0.9"/>
<text x="393.3" y="162.4" font-size="6" text-anchor="middle" stroke="#000" stroke-width="0.15">17</text>
<line x1="408.6" y1="152.6" x2="408.6" y2="154.8" stroke="#000" stroke-width="0.9"/>
<text x="408.6" y="162.4" font-size="6" text-anchor="middle" stroke="#000" stroke-width="0.15">31</text>
<line x1="421" y1="152.6" x2="421" y2="154.8" stroke="#000" stroke-width="0.9"/>
<text x="421" y="162.4" font-size="6" text-anchor="middle" stroke="#000" stroke-width="0.15">37</text>
<line x1="436.2" y1="152.6" x2="436.2" y2="154.8" stroke="#000" stroke-width="0.9"/>
<text x="436.2" y="162.4" font-size="6" text-anchor="middle" stroke="#000" stroke-width="0.15">43</text>
<line x1="451.3" y1="152.6" x2="451.3" y2="154.8" stroke="#000" stroke-width="0.9"/>
<text x="451.3" y="162.4" font-size="6" text-anchor="middle" stroke="#000" stroke-width="0.15">51</text>
<line x1="466.2" y1="152.6" x2="466.2" y2="154.8" stroke="#000" stroke-width="0.9"/>
<text x="466.2" y="162.4" font-size="6" text-anchor="middle" stroke="#000" stroke-width="0.15">59</text>
<line x1="481.3" y1="152.6" x2="481.3" y2="154.8" stroke="#000" stroke-width="0.9"/>
<text x="481.3" y="162.4" font-size="6" text-anchor="middle" stroke="#000" stroke-width="0.15">73</text>
<line x1="493.4" y1="152.6" x2="493.4" y2="154.8" stroke="#000" stroke-width="0.9"/>
<text x="493.4" y="162.4" font-size="6" text-anchor="middle" stroke="#000" stroke-width="0.15">77</text>
<text x="447.3" y="172.9" font-size="6.35" text-anchor="middle" stroke="#000" stroke-width="0.15">Time (months)</text>
<line x1="378.2" y1="144.7" x2="380.4" y2="144.7" stroke="#000" stroke-width="0.9"/>
<text x="377" y="146.85" font-size="6" text-anchor="end" stroke="#000" stroke-width="0.15">−20</text>
<line x1="378.2" y1="122.35" x2="380.4" y2="122.35" stroke="#000" stroke-width="0.9"/>
<text x="377" y="124.5" font-size="6" text-anchor="end" stroke="#000" stroke-width="0.15">−10</text>
<line x1="378.2" y1="100" x2="380.4" y2="100" stroke="#000" stroke-width="0.9"/>
<text x="377" y="102.15" font-size="6" text-anchor="end" stroke="#000" stroke-width="0.15">0</text>
<line x1="378.2" y1="77.65" x2="380.4" y2="77.65" stroke="#000" stroke-width="0.9"/>
<text x="377" y="79.8" font-size="6" text-anchor="end" stroke="#000" stroke-width="0.15">10</text>
<line x1="378.2" y1="55.3" x2="380.4" y2="55.3" stroke="#000" stroke-width="0.9"/>
<text x="377" y="57.45" font-size="6" text-anchor="end" stroke="#000" stroke-width="0.15">20</text>
<text x="362" y="100" font-size="6.3" text-anchor="middle" transform="rotate(-90 362 100)" stroke="#000" stroke-width="0.15">Beta(t) for gender</text>
<text x="552.8" y="36.8" font-size="6.35" stroke="#000" stroke-width="0.15">Schoenfeld Individual Test p: 0.4969</text>
<path d="M558.07 67.52 L558.71 68.39 L559.57 69.62 L560.6 71.08 L561.74 72.68 L562.93 74.28 L564.11 75.77 L565.23 77.03 L566.23 77.96 L567.13 78.56 L567.98 78.97 L568.79 79.22 L569.59 79.32 L570.38 79.31 L571.18 79.22 L572.01 79.08 L572.88 78.91 L573.78 78.65 L574.71 78.26 L575.65 77.77 L576.61 77.22 L577.58 76.64 L578.55 76.08 L579.51 75.55 L580.47 75.11 L581.42 74.71 L582.36 74.31 L583.31 73.91 L584.26 73.54 L585.21 73.22 L586.16 72.95 L587.11 72.75 L588.06 72.64 L588.99 72.64 L589.91 72.72 L590.82 72.89 L591.74 73.1 L592.66 73.36 L593.62 73.63 L594.61 73.91 L595.65 74.16 L596.76 74.43 L597.93 74.76 L599.15 75.12 L600.39 75.48 L601.64 75.81 L602.86 76.1 L604.03 76.32 L605.14 76.44 L606.18 76.45 L607.17 76.37 L608.12 76.23 L609.05 76.03 L609.97 75.81 L610.88 75.57 L611.79 75.33 L612.73 75.11 L613.68 74.89 L614.63 74.65 L615.58 74.4 L616.53 74.14 L617.47 73.88 L618.42 73.63 L619.37 73.41 L620.32 73.21 L621.27 73.03 L622.22 72.86 L623.17 72.7 L624.12 72.56 L625.07 72.44 L626.01 72.34 L626.96 72.28 L627.91 72.26 L628.85 72.29 L629.77 72.35 L630.68 72.45 L631.59 72.58 L632.52 72.73 L633.47 72.89 L634.46 73.05 L635.5 73.21 L636.62 73.39 L637.83 73.61 L639.09 73.85 L640.37 74.09 L641.63 74.32 L642.84 74.51 L643.98 74.65 L644.99 74.73 L645.87 74.76 L646.64 74.77 L647.32 74.75 L647.96 74.68 L648.58 74.56 L649.22 74.38 L649.91 74.13 L650.69 73.78 L651.54 73.35 L652.45 72.84 L653.39 72.25 L654.36 71.6 L655.35 70.89 L656.34 70.12 L657.32 69.32 L658.28 68.47 L659.23 67.57 L660.18 66.63 L661.12 65.63 L662.07 64.58 L663.02 63.48 L663.97 62.34 L664.92 61.15 L665.87 59.93 L666.87 58.56 L667.94 57.01 L669.05 55.37 L670.14 53.7 L671.17 52.1 L672.1 50.65 L672.87 49.44 L673.46 48.54" fill="none" stroke="#000" stroke-width="1.3" stroke-dasharray="5.3 5.3"/>
<path d="M558.07 130.15 L558.47 129.32 L558.97 128.19 L559.58 126.85 L560.26 125.38 L560.99 123.84 L561.77 122.34 L562.58 120.93 L563.39 119.71 L564.24 118.61 L565.17 117.53 L566.15 116.48 L567.16 115.5 L568.17 114.59 L569.16 113.77 L570.1 113.07 L570.98 112.5 L571.75 112.07 L572.45 111.79 L573.09 111.62 L573.71 111.55 L574.34 111.54 L575.03 111.59 L575.79 111.66 L576.67 111.74 L577.69 111.86 L578.82 112.08 L580.04 112.36 L581.3 112.67 L582.57 112.99 L583.83 113.27 L585.04 113.5 L586.16 113.64 L587.2 113.69 L588.19 113.68 L589.15 113.64 L590.07 113.55 L590.99 113.44 L591.9 113.32 L592.82 113.19 L593.75 113.07 L594.71 112.93 L595.69 112.76 L596.68 112.56 L597.67 112.37 L598.64 112.17 L599.58 111.99 L600.48 111.84 L601.34 111.74 L602.13 111.65 L602.86 111.57 L603.53 111.5 L604.19 111.45 L604.85 111.44 L605.52 111.48 L606.25 111.57 L607.04 111.74 L607.88 111.98 L608.76 112.29 L609.66 112.66 L610.59 113.08 L611.56 113.53 L612.55 114 L613.58 114.48 L614.63 114.96 L615.74 115.48 L616.91 116.05 L618.13 116.65 L619.37 117.26 L620.61 117.86 L621.83 118.42 L623.01 118.92 L624.12 119.33 L625.16 119.65 L626.15 119.92 L627.1 120.13 L628.03 120.3 L628.94 120.43 L629.85 120.53 L630.77 120.6 L631.71 120.66 L632.66 120.68 L633.61 120.64 L634.55 120.57 L635.5 120.48 L636.45 120.37 L637.4 120.26 L638.35 120.16 L639.3 120.09 L640.26 120.02 L641.24 119.93 L642.23 119.83 L643.21 119.74 L644.18 119.68 L645.13 119.64 L646.03 119.65 L646.89 119.71 L647.69 119.82 L648.45 119.98 L649.16 120.17 L649.86 120.4 L650.53 120.66 L651.21 120.94 L651.89 121.26 L652.58 121.61 L653.28 121.95 L653.96 122.29 L654.64 122.64 L655.31 123.03 L656 123.48 L656.72 124.01 L657.47 124.64 L658.28 125.4 L659.14 126.3 L660.04 127.31 L660.99 128.42 L661.95 129.61 L662.94 130.87 L663.93 132.18 L664.91 133.53 L665.87 134.89 L666.87 136.38 L667.94 138.06 L669.05 139.85 L670.14 141.65 L671.17 143.38 L672.1 144.94 L672.87 146.26 L673.46 147.23" fill="none" stroke="#000" stroke-width="1.3" stroke-dasharray="5.3 5.3"/>
<path d="M558.07 98.45 L558.77 98.25 L559.7 97.97 L560.81 97.64 L562.03 97.28 L563.34 96.91 L564.66 96.55 L565.96 96.24 L567.18 95.99 L568.35 95.8 L569.53 95.65 L570.71 95.54 L571.9 95.45 L573.1 95.37 L574.29 95.28 L575.48 95.17 L576.67 95.04 L577.84 94.86 L579 94.66 L580.15 94.44 L581.3 94.22 L582.46 94 L583.65 93.8 L584.88 93.64 L586.16 93.52 L587.49 93.44 L588.87 93.38 L590.29 93.36 L591.74 93.35 L593.19 93.37 L594.66 93.4 L596.11 93.45 L597.55 93.52 L598.97 93.61 L600.39 93.73 L601.82 93.87 L603.24 94.03 L604.66 94.19 L606.09 94.36 L607.51 94.52 L608.93 94.66 L610.36 94.78 L611.78 94.91 L613.2 95.03 L614.63 95.14 L616.05 95.26 L617.47 95.37 L618.9 95.49 L620.32 95.61 L621.69 95.73 L622.99 95.86 L624.26 95.99 L625.54 96.12 L626.88 96.24 L628.33 96.36 L629.92 96.46 L631.71 96.55 L633.68 96.63 L635.81 96.69 L638.06 96.73 L640.43 96.77 L642.89 96.8 L645.43 96.84 L648.03 96.88 L650.69 96.93 L653.59 97 L656.84 97.08 L660.28 97.16 L663.73 97.24 L667.04 97.32 L670.03 97.4 L672.55 97.46 L674.41 97.5" fill="none" stroke="#000" stroke-width="1.3"/>
<circle cx="559.97" cy="83.27" r="1.55" fill="#E3232A"/>
<circle cx="561.11" cy="89.34" r="1.55" fill="#E3232A"/>
<circle cx="571.36" cy="86.5" r="1.55" fill="#E3232A"/>
<circle cx="581.42" cy="77.58" r="1.55" fill="#E3232A"/>
<circle cx="580.85" cy="83.65" r="1.55" fill="#E3232A"/>
<circle cx="587.49" cy="86.88" r="1.55" fill="#E3232A"/>
<circle cx="590.34" cy="89.34" r="1.55" fill="#E3232A"/>
<circle cx="596.03" cy="83.27" r="1.55" fill="#E3232A"/>
<circle cx="597.55" cy="87.45" r="1.55" fill="#E3232A"/>
<circle cx="602.29" cy="87.07" r="1.55" fill="#E3232A"/>
<circle cx="604.19" cy="87.07" r="1.55" fill="#E3232A"/>
<circle cx="615.58" cy="82.13" r="1.55" fill="#E3232A"/>
<circle cx="634.93" cy="88.96" r="1.55" fill="#E3232A"/>
<circle cx="670.04" cy="88.96" r="1.55" fill="#E3232A"/>
<circle cx="562.44" cy="95.04" r="1.55" fill="#E3232A"/>
<circle cx="563.39" cy="95.99" r="1.55" fill="#E3232A"/>
<circle cx="564.34" cy="94.09" r="1.55" fill="#E3232A"/>
<circle cx="565.28" cy="96.93" r="1.55" fill="#E3232A"/>
<circle cx="566.23" cy="95.04" r="1.55" fill="#E3232A"/>
<circle cx="567.18" cy="100.35" r="1.55" fill="#E3232A"/>
<circle cx="568.7" cy="101.11" r="1.55" fill="#E3232A"/>
<circle cx="570.03" cy="95.42" r="1.55" fill="#E3232A"/>
<circle cx="571.93" cy="100.35" r="1.55" fill="#E3232A"/>
<circle cx="573.26" cy="96.93" r="1.55" fill="#E3232A"/>
<circle cx="574.39" cy="101.68" r="1.55" fill="#E3232A"/>
<circle cx="575.72" cy="96.93" r="1.55" fill="#E3232A"/>
<circle cx="577.05" cy="95.04" r="1.55" fill="#E3232A"/>
<circle cx="578.57" cy="96.93" r="1.55" fill="#E3232A"/>
<circle cx="579.52" cy="94.66" r="1.55" fill="#E3232A"/>
<circle cx="582.36" cy="101.68" r="1.55" fill="#E3232A"/>
<circle cx="584.26" cy="104.15" r="1.55" fill="#E3232A"/>
<circle cx="586.54" cy="98.45" r="1.55" fill="#E3232A"/>
<circle cx="588.44" cy="101.11" r="1.55" fill="#E3232A"/>
<circle cx="591.85" cy="95.04" r="1.55" fill="#E3232A"/>
<circle cx="593.75" cy="96.93" r="1.55" fill="#E3232A"/>
<circle cx="599.45" cy="94.47" r="1.55" fill="#E3232A"/>
<circle cx="601.72" cy="93.14" r="1.55" fill="#E3232A"/>
<circle cx="606.09" cy="93.14" r="1.55" fill="#E3232A"/>
<circle cx="608.55" cy="99.21" r="1.55" fill="#E3232A"/>
<circle cx="609.88" cy="96.93" r="1.55" fill="#E3232A"/>
<circle cx="611.78" cy="103.58" r="1.55" fill="#E3232A"/>
<circle cx="613.68" cy="99.78" r="1.55" fill="#E3232A"/>
<circle cx="617.47" cy="93.52" r="1.55" fill="#E3232A"/>
<circle cx="619.94" cy="96.93" r="1.55" fill="#E3232A"/>
<circle cx="621.27" cy="99.21" r="1.55" fill="#E3232A"/>
<circle cx="623.74" cy="93.52" r="1.55" fill="#E3232A"/>
<circle cx="625.64" cy="95.04" r="1.55" fill="#E3232A"/>
<circle cx="627.53" cy="102.63" r="1.55" fill="#E3232A"/>
<circle cx="629.43" cy="96.55" r="1.55" fill="#E3232A"/>
<circle cx="632.09" cy="95.04" r="1.55" fill="#E3232A"/>
<circle cx="638.35" cy="102.63" r="1.55" fill="#E3232A"/>
<circle cx="641.2" cy="96.93" r="1.55" fill="#E3232A"/>
<circle cx="644.61" cy="96.36" r="1.55" fill="#E3232A"/>
<circle cx="648.79" cy="101.11" r="1.55" fill="#E3232A"/>
<circle cx="652.96" cy="101.11" r="1.55" fill="#E3232A"/>
<circle cx="657.33" cy="99.21" r="1.55" fill="#E3232A"/>
<circle cx="661.5" cy="97.31" r="1.55" fill="#E3232A"/>
<circle cx="665.87" cy="99.21" r="1.55" fill="#E3232A"/>
<circle cx="674.6" cy="99.78" r="1.55" fill="#E3232A"/>
<circle cx="558.64" cy="105.47" r="1.55" fill="#E3232A"/>
<circle cx="560.54" cy="106.04" r="1.55" fill="#E3232A"/>
<circle cx="559.21" cy="100.35" r="1.55" fill="#E3232A"/>
<line x1="552.7" y1="43" x2="552.7" y2="153.15" stroke="#000" stroke-width="1.1"/>
<line x1="552.15" y1="152.6" x2="680" y2="152.6" stroke="#000" stroke-width="1.1"/>
<line x1="565.6" y1="152.6" x2="565.6" y2="154.8" stroke="#000" stroke-width="0.9"/>
<text x="565.6" y="162.4" font-size="6" text-anchor="middle" stroke="#000" stroke-width="0.15">17</text>
<line x1="580.9" y1="152.6" x2="580.9" y2="154.8" stroke="#000" stroke-width="0.9"/>
<text x="580.9" y="162.4" font-size="6" text-anchor="middle" stroke="#000" stroke-width="0.15">31</text>
<line x1="593.3" y1="152.6" x2="593.3" y2="154.8" stroke="#000" stroke-width="0.9"/>
<text x="593.3" y="162.4" font-size="6" text-anchor="middle" stroke="#000" stroke-width="0.15">37</text>
<line x1="608.5" y1="152.6" x2="608.5" y2="154.8" stroke="#000" stroke-width="0.9"/>
<text x="608.5" y="162.4" font-size="6" text-anchor="middle" stroke="#000" stroke-width="0.15">43</text>
<line x1="623.6" y1="152.6" x2="623.6" y2="154.8" stroke="#000" stroke-width="0.9"/>
<text x="623.6" y="162.4" font-size="6" text-anchor="middle" stroke="#000" stroke-width="0.15">51</text>
<line x1="638.5" y1="152.6" x2="638.5" y2="154.8" stroke="#000" stroke-width="0.9"/>
<text x="638.5" y="162.4" font-size="6" text-anchor="middle" stroke="#000" stroke-width="0.15">59</text>
<line x1="653.6" y1="152.6" x2="653.6" y2="154.8" stroke="#000" stroke-width="0.9"/>
<text x="653.6" y="162.4" font-size="6" text-anchor="middle" stroke="#000" stroke-width="0.15">73</text>
<line x1="665.7" y1="152.6" x2="665.7" y2="154.8" stroke="#000" stroke-width="0.9"/>
<text x="665.7" y="162.4" font-size="6" text-anchor="middle" stroke="#000" stroke-width="0.15">77</text>
<text x="617.75" y="172.9" font-size="6.35" text-anchor="middle" stroke="#000" stroke-width="0.15">Time (months)</text>
<line x1="550.5" y1="135.4" x2="552.7" y2="135.4" stroke="#000" stroke-width="0.9"/>
<text x="549.3" y="137.55" font-size="6" text-anchor="end" stroke="#000" stroke-width="0.15">−20</text>
<line x1="550.5" y1="116" x2="552.7" y2="116" stroke="#000" stroke-width="0.9"/>
<text x="549.3" y="118.15" font-size="6" text-anchor="end" stroke="#000" stroke-width="0.15">−10</text>
<line x1="550.5" y1="96.6" x2="552.7" y2="96.6" stroke="#000" stroke-width="0.9"/>
<text x="549.3" y="98.75" font-size="6" text-anchor="end" stroke="#000" stroke-width="0.15">0</text>
<line x1="550.5" y1="77.2" x2="552.7" y2="77.2" stroke="#000" stroke-width="0.9"/>
<text x="549.3" y="79.35" font-size="6" text-anchor="end" stroke="#000" stroke-width="0.15">10</text>
<line x1="550.5" y1="57.8" x2="552.7" y2="57.8" stroke="#000" stroke-width="0.9"/>
<text x="549.3" y="59.95" font-size="6" text-anchor="end" stroke="#000" stroke-width="0.15">20</text>
<text x="534.4" y="96.5" font-size="6.3" text-anchor="middle" transform="rotate(-90 534.4 96.5)" stroke="#000" stroke-width="0.15">Beta(t) for smoking status</text>
<text x="36.9" y="190.6" font-size="6.35" stroke="#000" stroke-width="0.15">Schoenfeld Individual Test p: 0.3107</text>
<path d="M42.07 214.5 L42.71 215.63 L43.57 217.24 L44.6 219.15 L45.74 221.23 L46.93 223.33 L48.11 225.28 L49.23 226.94 L50.23 228.16 L51.13 228.96 L51.98 229.49 L52.79 229.79 L53.59 229.93 L54.38 229.94 L55.18 229.86 L56.01 229.76 L56.88 229.68 L57.78 229.56 L58.71 229.33 L59.65 229.02 L60.61 228.66 L61.58 228.27 L62.55 227.88 L63.51 227.52 L64.47 227.21 L65.42 226.93 L66.36 226.62 L67.31 226.32 L68.26 226.03 L69.21 225.76 L70.16 225.55 L71.11 225.39 L72.06 225.31 L72.99 225.33 L73.91 225.42 L74.82 225.58 L75.74 225.79 L76.66 226.02 L77.62 226.25 L78.61 226.46 L79.65 226.64 L80.76 226.82 L81.93 227.02 L83.15 227.24 L84.39 227.45 L85.64 227.63 L86.86 227.75 L88.03 227.81 L89.14 227.78 L90.18 227.65 L91.17 227.43 L92.12 227.14 L93.05 226.8 L93.97 226.43 L94.88 226.04 L95.79 225.67 L96.73 225.31 L97.68 224.96 L98.63 224.58 L99.58 224.19 L100.53 223.8 L101.47 223.41 L102.42 223.05 L103.37 222.73 L104.32 222.47 L105.27 222.24 L106.22 222.03 L107.17 221.85 L108.12 221.7 L109.07 221.58 L110.01 221.51 L110.96 221.49 L111.91 221.52 L112.85 221.63 L113.77 221.81 L114.68 222.06 L115.59 222.35 L116.52 222.65 L117.47 222.94 L118.46 223.2 L119.5 223.42 L120.62 223.59 L121.83 223.76 L123.09 223.92 L124.37 224.07 L125.63 224.19 L126.84 224.28 L127.98 224.34 L128.99 224.36 L129.87 224.36 L130.64 224.33 L131.32 224.27 L131.96 224.19 L132.58 224.06 L133.22 223.9 L133.91 223.68 L134.69 223.42 L135.54 223.1 L136.45 222.76 L137.39 222.37 L138.36 221.93 L139.35 221.45 L140.34 220.9 L141.32 220.3 L142.28 219.62 L143.23 218.87 L144.18 218.05 L145.12 217.16 L146.07 216.22 L147.02 215.22 L147.97 214.19 L148.92 213.12 L149.87 212.03 L150.87 210.82 L151.94 209.45 L153.05 208 L154.14 206.53 L155.17 205.11 L156.1 203.84 L156.87 202.76 L157.46 201.97" fill="none" stroke="#000" stroke-width="1.3" stroke-dasharray="5.3 5.3"/>
<path d="M42.07 277.5 L42.47 276.92 L43 276.14 L43.62 275.21 L44.31 274.18 L45.06 273.09 L45.84 271.99 L46.62 270.91 L47.39 269.91 L48.15 268.9 L48.95 267.78 L49.78 266.63 L50.62 265.5 L51.48 264.45 L52.34 263.53 L53.19 262.8 L54.03 262.32 L54.84 262.14 L55.62 262.21 L56.39 262.47 L57.17 262.87 L57.97 263.34 L58.81 263.82 L59.71 264.26 L60.67 264.6 L61.73 264.87 L62.89 265.16 L64.1 265.45 L65.36 265.74 L66.62 266 L67.86 266.22 L69.05 266.39 L70.16 266.5 L71.2 266.54 L72.19 266.53 L73.15 266.48 L74.07 266.39 L74.99 266.26 L75.9 266.11 L76.82 265.93 L77.75 265.74 L78.71 265.49 L79.69 265.18 L80.68 264.83 L81.67 264.46 L82.64 264.09 L83.58 263.75 L84.48 263.47 L85.34 263.27 L86.13 263.14 L86.86 263.04 L87.53 262.98 L88.19 262.96 L88.85 262.98 L89.52 263.04 L90.25 263.14 L91.04 263.27 L91.88 263.46 L92.76 263.7 L93.66 263.98 L94.59 264.3 L95.56 264.65 L96.55 265.01 L97.58 265.38 L98.63 265.74 L99.74 266.12 L100.91 266.55 L102.13 267.01 L103.37 267.47 L104.61 267.91 L105.83 268.33 L107.01 268.68 L108.12 268.96 L109.16 269.17 L110.15 269.31 L111.1 269.4 L112.03 269.45 L112.94 269.48 L113.85 269.49 L114.77 269.51 L115.71 269.53 L116.66 269.56 L117.61 269.56 L118.55 269.56 L119.5 269.54 L120.45 269.53 L121.4 269.52 L122.35 269.52 L123.3 269.53 L124.26 269.55 L125.24 269.56 L126.23 269.56 L127.21 269.58 L128.18 269.61 L129.13 269.68 L130.03 269.77 L130.89 269.91 L131.69 270.09 L132.45 270.3 L133.16 270.54 L133.86 270.8 L134.53 271.1 L135.21 271.43 L135.89 271.79 L136.58 272.19 L137.28 272.6 L137.96 273.01 L138.64 273.45 L139.31 273.92 L140 274.45 L140.72 275.05 L141.47 275.75 L142.28 276.55 L143.14 277.46 L144.04 278.43 L144.99 279.49 L145.95 280.62 L146.94 281.84 L147.93 283.15 L148.91 284.55 L149.87 286.04 L150.87 287.77 L151.94 289.79 L153.05 291.99 L154.14 294.23 L155.17 296.39 L156.1 298.36 L156.87 300.02 L157.46 301.23" fill="none" stroke="#000" stroke-width="1.3" stroke-dasharray="5.3 5.3"/>
<path d="M42.07 245.62 L43.07 245.69 L44.38 245.78 L45.95 245.9 L47.7 246.02 L49.54 246.14 L51.42 246.25 L53.26 246.33 L54.98 246.38 L56.61 246.39 L58.23 246.37 L59.85 246.34 L61.48 246.28 L63.13 246.22 L64.8 246.15 L66.51 246.07 L68.26 246 L70.07 245.92 L71.92 245.83 L73.82 245.73 L75.74 245.62 L77.67 245.51 L79.61 245.41 L81.53 245.32 L83.45 245.24 L85.36 245.17 L87.29 245.1 L89.22 245.04 L91.16 244.98 L93.07 244.93 L94.97 244.89 L96.82 244.87 L98.63 244.86 L100.39 244.87 L102.13 244.89 L103.83 244.92 L105.51 244.97 L107.15 245.02 L108.77 245.09 L110.36 245.16 L111.91 245.24 L113.43 245.33 L114.89 245.43 L116.32 245.54 L117.72 245.66 L119.11 245.78 L120.5 245.91 L121.89 246.05 L123.3 246.19 L124.72 246.34 L126.15 246.49 L127.57 246.65 L128.99 246.82 L130.42 246.99 L131.84 247.16 L133.26 247.34 L134.69 247.52 L136.1 247.7 L137.51 247.88 L138.91 248.06 L140.32 248.24 L141.73 248.43 L143.16 248.63 L144.6 248.83 L146.07 249.04 L147.65 249.27 L149.38 249.53 L151.17 249.8 L152.95 250.08 L154.64 250.34 L156.17 250.58 L157.45 250.79 L158.41 250.93" fill="none" stroke="#000" stroke-width="1.3"/>
<circle cx="42.07" cy="234.23" r="1.55" fill="#E3232A"/>
<circle cx="44.54" cy="235.37" r="1.55" fill="#E3232A"/>
<circle cx="45.11" cy="240.12" r="1.55" fill="#E3232A"/>
<circle cx="47.77" cy="242.96" r="1.55" fill="#E3232A"/>
<circle cx="49.66" cy="245.24" r="1.55" fill="#E3232A"/>
<circle cx="46.44" cy="247.52" r="1.55" fill="#E3232A"/>
<circle cx="47.39" cy="248.09" r="1.55" fill="#E3232A"/>
<circle cx="43.21" cy="251.88" r="1.55" fill="#E3232A"/>
<circle cx="43.97" cy="255.11" r="1.55" fill="#E3232A"/>
<circle cx="50.23" cy="250.55" r="1.55" fill="#E3232A"/>
<circle cx="52.13" cy="250.93" r="1.55" fill="#E3232A"/>
<circle cx="53.46" cy="243.72" r="1.55" fill="#E3232A"/>
<circle cx="54.98" cy="241.45" r="1.55" fill="#E3232A"/>
<circle cx="55.93" cy="248.66" r="1.55" fill="#E3232A"/>
<circle cx="56.5" cy="253.21" r="1.55" fill="#E3232A"/>
<circle cx="58.39" cy="249.04" r="1.55" fill="#E3232A"/>
<circle cx="59.72" cy="247.14" r="1.55" fill="#E3232A"/>
<circle cx="60.67" cy="244.86" r="1.55" fill="#E3232A"/>
<circle cx="62.57" cy="244.29" r="1.55" fill="#E3232A"/>
<circle cx="64.09" cy="244.86" r="1.55" fill="#E3232A"/>
<circle cx="58.77" cy="250.93" r="1.55" fill="#E3232A"/>
<circle cx="64.47" cy="255.11" r="1.55" fill="#E3232A"/>
<circle cx="65.42" cy="253.78" r="1.55" fill="#E3232A"/>
<circle cx="67.31" cy="228.54" r="1.55" fill="#E3232A"/>
<circle cx="68.64" cy="234.8" r="1.55" fill="#E3232A"/>
<circle cx="71.68" cy="238.6" r="1.55" fill="#E3232A"/>
<circle cx="73.96" cy="240.12" r="1.55" fill="#E3232A"/>
<circle cx="69.78" cy="249.42" r="1.55" fill="#E3232A"/>
<circle cx="72.44" cy="251.88" r="1.55" fill="#E3232A"/>
<circle cx="75.47" cy="247.14" r="1.55" fill="#E3232A"/>
<circle cx="77.75" cy="246.76" r="1.55" fill="#E3232A"/>
<circle cx="80.03" cy="255.68" r="1.55" fill="#E3232A"/>
<circle cx="81.55" cy="240.5" r="1.55" fill="#E3232A"/>
<circle cx="83.45" cy="244.86" r="1.55" fill="#E3232A"/>
<circle cx="85.34" cy="245.24" r="1.55" fill="#E3232A"/>
<circle cx="86.86" cy="238.6" r="1.55" fill="#E3232A"/>
<circle cx="88.76" cy="239.17" r="1.55" fill="#E3232A"/>
<circle cx="90.09" cy="248.09" r="1.55" fill="#E3232A"/>
<circle cx="91.99" cy="251.5" r="1.55" fill="#E3232A"/>
<circle cx="93.88" cy="248.09" r="1.55" fill="#E3232A"/>
<circle cx="95.78" cy="234.23" r="1.55" fill="#E3232A"/>
<circle cx="97.11" cy="250.93" r="1.55" fill="#E3232A"/>
<circle cx="99.58" cy="254.73" r="1.55" fill="#E3232A"/>
<circle cx="101.47" cy="245.24" r="1.55" fill="#E3232A"/>
<circle cx="103.37" cy="250.93" r="1.55" fill="#E3232A"/>
<circle cx="105.27" cy="251.5" r="1.55" fill="#E3232A"/>
<circle cx="107.17" cy="245.24" r="1.55" fill="#E3232A"/>
<circle cx="109.07" cy="248.47" r="1.55" fill="#E3232A"/>
<circle cx="111.53" cy="238.6" r="1.55" fill="#E3232A"/>
<circle cx="113.43" cy="247.71" r="1.55" fill="#E3232A"/>
<circle cx="116.09" cy="246.19" r="1.55" fill="#E3232A"/>
<circle cx="119.12" cy="239.93" r="1.55" fill="#E3232A"/>
<circle cx="121.78" cy="234.8" r="1.55" fill="#E3232A"/>
<circle cx="125.2" cy="247.14" r="1.55" fill="#E3232A"/>
<circle cx="128.99" cy="246.19" r="1.55" fill="#E3232A"/>
<circle cx="132.79" cy="250.55" r="1.55" fill="#E3232A"/>
<circle cx="136.96" cy="251.31" r="1.55" fill="#E3232A"/>
<circle cx="141.33" cy="246.19" r="1.55" fill="#E3232A"/>
<circle cx="145.5" cy="248.09" r="1.55" fill="#E3232A"/>
<circle cx="149.87" cy="247.14" r="1.55" fill="#E3232A"/>
<circle cx="154.04" cy="257.01" r="1.55" fill="#E3232A"/>
<circle cx="158.41" cy="251.31" r="1.55" fill="#E3232A"/>
<line x1="36.8" y1="196.8" x2="36.8" y2="307.45" stroke="#000" stroke-width="1.1"/>
<line x1="36.25" y1="306.9" x2="164.1" y2="306.9" stroke="#000" stroke-width="1.1"/>
<line x1="49.7" y1="306.9" x2="49.7" y2="309.1" stroke="#000" stroke-width="0.9"/>
<text x="49.7" y="316.7" font-size="6" text-anchor="middle" stroke="#000" stroke-width="0.15">17</text>
<line x1="65" y1="306.9" x2="65" y2="309.1" stroke="#000" stroke-width="0.9"/>
<text x="65" y="316.7" font-size="6" text-anchor="middle" stroke="#000" stroke-width="0.15">31</text>
<line x1="77.4" y1="306.9" x2="77.4" y2="309.1" stroke="#000" stroke-width="0.9"/>
<text x="77.4" y="316.7" font-size="6" text-anchor="middle" stroke="#000" stroke-width="0.15">37</text>
<line x1="92.6" y1="306.9" x2="92.6" y2="309.1" stroke="#000" stroke-width="0.9"/>
<text x="92.6" y="316.7" font-size="6" text-anchor="middle" stroke="#000" stroke-width="0.15">43</text>
<line x1="107.7" y1="306.9" x2="107.7" y2="309.1" stroke="#000" stroke-width="0.9"/>
<text x="107.7" y="316.7" font-size="6" text-anchor="middle" stroke="#000" stroke-width="0.15">51</text>
<line x1="122.6" y1="306.9" x2="122.6" y2="309.1" stroke="#000" stroke-width="0.9"/>
<text x="122.6" y="316.7" font-size="6" text-anchor="middle" stroke="#000" stroke-width="0.15">59</text>
<line x1="137.7" y1="306.9" x2="137.7" y2="309.1" stroke="#000" stroke-width="0.9"/>
<text x="137.7" y="316.7" font-size="6" text-anchor="middle" stroke="#000" stroke-width="0.15">73</text>
<line x1="149.8" y1="306.9" x2="149.8" y2="309.1" stroke="#000" stroke-width="0.9"/>
<text x="149.8" y="316.7" font-size="6" text-anchor="middle" stroke="#000" stroke-width="0.15">77</text>
<text x="98.85" y="327.2" font-size="6.35" text-anchor="middle" stroke="#000" stroke-width="0.15">Time (months)</text>
<line x1="34.6" y1="305.7" x2="36.8" y2="305.7" stroke="#000" stroke-width="0.9"/>
<text x="33.4" y="307.85" font-size="6" text-anchor="end" stroke="#000" stroke-width="0.15">−30</text>
<line x1="34.6" y1="286" x2="36.8" y2="286" stroke="#000" stroke-width="0.9"/>
<text x="33.4" y="288.15" font-size="6" text-anchor="end" stroke="#000" stroke-width="0.15">−20</text>
<line x1="34.6" y1="266.3" x2="36.8" y2="266.3" stroke="#000" stroke-width="0.9"/>
<text x="33.4" y="268.45" font-size="6" text-anchor="end" stroke="#000" stroke-width="0.15">−10</text>
<line x1="34.6" y1="246.6" x2="36.8" y2="246.6" stroke="#000" stroke-width="0.9"/>
<text x="33.4" y="248.75" font-size="6" text-anchor="end" stroke="#000" stroke-width="0.15">0</text>
<line x1="34.6" y1="226.9" x2="36.8" y2="226.9" stroke="#000" stroke-width="0.9"/>
<text x="33.4" y="229.05" font-size="6" text-anchor="end" stroke="#000" stroke-width="0.15">10</text>
<line x1="34.6" y1="207.2" x2="36.8" y2="207.2" stroke="#000" stroke-width="0.9"/>
<text x="33.4" y="209.35" font-size="6" text-anchor="end" stroke="#000" stroke-width="0.15">20</text>
<text x="17.6" y="247.2" font-size="6.3" text-anchor="middle" transform="rotate(-90 17.6 247.2)" stroke="#000" stroke-width="0.15">Beta(t) for alcohol consumption</text>
<text x="208.8" y="190.6" font-size="6.35" stroke="#000" stroke-width="0.15">Schoenfeld Individual Test p: 0.6294</text>
<path d="M214.07 217.15 L214.71 218.25 L215.57 219.79 L216.6 221.64 L217.74 223.64 L218.93 225.66 L220.11 227.57 L221.23 229.2 L222.23 230.44 L223.13 231.3 L223.98 231.94 L224.79 232.39 L225.59 232.68 L226.38 232.84 L227.18 232.92 L228.01 232.92 L228.88 232.91 L229.78 232.79 L230.71 232.54 L231.65 232.17 L232.61 231.73 L233.58 231.26 L234.55 230.8 L235.51 230.39 L236.47 230.06 L237.4 229.78 L238.32 229.51 L239.23 229.24 L240.14 229 L241.07 228.8 L242.03 228.65 L243.02 228.56 L244.06 228.54 L245.17 228.62 L246.34 228.8 L247.56 229.05 L248.8 229.35 L250.04 229.66 L251.26 229.96 L252.44 230.23 L253.55 230.44 L254.59 230.61 L255.58 230.77 L256.53 230.93 L257.46 231.07 L258.38 231.17 L259.29 231.23 L260.2 231.25 L261.14 231.2 L262.09 231.08 L263.04 230.91 L263.99 230.68 L264.93 230.41 L265.88 230.11 L266.83 229.79 L267.78 229.45 L268.73 229.11 L269.68 228.73 L270.63 228.3 L271.58 227.83 L272.53 227.35 L273.47 226.88 L274.42 226.43 L275.37 226.03 L276.32 225.69 L277.27 225.41 L278.22 225.15 L279.17 224.92 L280.12 224.72 L281.07 224.56 L282.01 224.45 L282.96 224.38 L283.91 224.36 L284.85 224.42 L285.77 224.55 L286.68 224.73 L287.59 224.96 L288.52 225.2 L289.47 225.45 L290.46 225.68 L291.5 225.88 L292.62 226.08 L293.83 226.29 L295.09 226.51 L296.37 226.73 L297.63 226.92 L298.84 227.07 L299.98 227.17 L300.99 227.21 L301.87 227.19 L302.64 227.14 L303.32 227.04 L303.96 226.9 L304.58 226.72 L305.22 226.49 L305.91 226.21 L306.69 225.88 L307.54 225.51 L308.45 225.1 L309.39 224.65 L310.36 224.15 L311.35 223.59 L312.34 222.97 L313.32 222.28 L314.28 221.52 L315.23 220.65 L316.2 219.69 L317.17 218.65 L318.13 217.54 L319.09 216.41 L320.04 215.25 L320.97 214.1 L321.87 212.98 L322.79 211.8 L323.75 210.53 L324.72 209.2 L325.66 207.89 L326.55 206.64 L327.34 205.52 L328 204.58 L328.51 203.87" fill="none" stroke="#000" stroke-width="1.3" stroke-dasharray="5.3 5.3"/>
<path d="M214.07 280.35 L214.47 279.67 L215 278.76 L215.62 277.66 L216.31 276.46 L217.06 275.21 L217.84 273.97 L218.62 272.82 L219.39 271.81 L220.15 270.87 L220.95 269.9 L221.78 268.94 L222.62 268.04 L223.48 267.23 L224.34 266.54 L225.19 266.03 L226.03 265.74 L226.84 265.7 L227.62 265.92 L228.39 266.32 L229.17 266.85 L229.97 267.44 L230.81 268.03 L231.71 268.56 L232.67 268.96 L233.73 269.29 L234.89 269.62 L236.1 269.94 L237.36 270.23 L238.62 270.49 L239.86 270.68 L241.05 270.81 L242.16 270.86 L243.2 270.81 L244.19 270.65 L245.15 270.43 L246.07 270.15 L246.99 269.84 L247.9 269.53 L248.82 269.23 L249.75 268.96 L250.71 268.71 L251.69 268.44 L252.68 268.17 L253.67 267.9 L254.64 267.64 L255.58 267.41 L256.48 267.21 L257.34 267.07 L258.13 266.96 L258.86 266.87 L259.53 266.8 L260.19 266.77 L260.85 266.77 L261.52 266.82 L262.25 266.92 L263.04 267.07 L263.88 267.29 L264.76 267.59 L265.66 267.95 L266.59 268.35 L267.56 268.76 L268.55 269.17 L269.58 269.56 L270.63 269.91 L271.74 270.24 L272.91 270.56 L274.13 270.88 L275.37 271.19 L276.61 271.49 L277.83 271.75 L279.01 271.99 L280.12 272.19 L281.16 272.35 L282.15 272.49 L283.1 272.6 L284.03 272.68 L284.94 272.73 L285.85 272.76 L286.77 272.77 L287.71 272.76 L288.66 272.7 L289.61 272.6 L290.55 272.46 L291.5 272.3 L292.45 272.14 L293.4 271.99 L294.35 271.88 L295.3 271.81 L296.26 271.78 L297.24 271.76 L298.23 271.76 L299.21 271.79 L300.18 271.84 L301.13 271.92 L302.03 272.03 L302.89 272.19 L303.69 272.38 L304.45 272.58 L305.16 272.82 L305.86 273.09 L306.53 273.4 L307.21 273.76 L307.89 274.18 L308.58 274.66 L309.28 275.19 L309.96 275.76 L310.64 276.39 L311.31 277.06 L312 277.8 L312.72 278.58 L313.47 279.44 L314.28 280.35 L315.15 281.36 L316.08 282.48 L317.05 283.67 L318.05 284.92 L319.05 286.18 L320.03 287.44 L320.98 288.67 L321.87 289.84 L322.74 291.01 L323.64 292.24 L324.52 293.49 L325.38 294.7 L326.18 295.84 L326.89 296.87 L327.48 297.73 L327.94 298.38" fill="none" stroke="#000" stroke-width="1.3" stroke-dasharray="5.3 5.3"/>
<path d="M214.07 248.66 L215.07 248.74 L216.38 248.85 L217.95 248.98 L219.7 249.13 L221.54 249.28 L223.42 249.41 L225.26 249.53 L226.98 249.61 L228.61 249.65 L230.23 249.68 L231.85 249.68 L233.48 249.68 L235.13 249.66 L236.8 249.64 L238.51 249.62 L240.26 249.61 L242.07 249.59 L243.92 249.58 L245.82 249.57 L247.74 249.55 L249.67 249.52 L251.61 249.49 L253.53 249.46 L255.45 249.42 L257.36 249.36 L259.29 249.28 L261.22 249.2 L263.16 249.11 L265.07 249.02 L266.97 248.94 L268.82 248.88 L270.63 248.85 L272.39 248.83 L274.13 248.83 L275.83 248.85 L277.51 248.87 L279.15 248.9 L280.77 248.94 L282.36 248.99 L283.91 249.04 L285.43 249.09 L286.89 249.15 L288.32 249.21 L289.72 249.29 L291.11 249.36 L292.5 249.44 L293.89 249.52 L295.3 249.61 L296.72 249.69 L298.15 249.78 L299.57 249.87 L300.99 249.96 L302.42 250.06 L303.84 250.16 L305.26 250.26 L306.69 250.36 L308.1 250.48 L309.51 250.59 L310.91 250.72 L312.32 250.84 L313.73 250.96 L315.16 251.09 L316.6 251.2 L318.07 251.31 L319.65 251.42 L321.38 251.53 L323.17 251.65 L324.95 251.75 L326.64 251.85 L328.17 251.94 L329.45 252.02 L330.41 252.07" fill="none" stroke="#000" stroke-width="1.3"/>
<circle cx="214.07" cy="241.07" r="1.55" fill="#E3232A"/>
<circle cx="216.54" cy="242.39" r="1.55" fill="#E3232A"/>
<circle cx="220.91" cy="239.93" r="1.55" fill="#E3232A"/>
<circle cx="223.18" cy="240.5" r="1.55" fill="#E3232A"/>
<circle cx="224.7" cy="239.55" r="1.55" fill="#E3232A"/>
<circle cx="222.23" cy="245.24" r="1.55" fill="#E3232A"/>
<circle cx="226.03" cy="246.19" r="1.55" fill="#E3232A"/>
<circle cx="228.5" cy="243.72" r="1.55" fill="#E3232A"/>
<circle cx="230.39" cy="247.14" r="1.55" fill="#E3232A"/>
<circle cx="231.72" cy="238.98" r="1.55" fill="#E3232A"/>
<circle cx="234.19" cy="239.93" r="1.55" fill="#E3232A"/>
<circle cx="233.24" cy="245.24" r="1.55" fill="#E3232A"/>
<circle cx="239.31" cy="235.37" r="1.55" fill="#E3232A"/>
<circle cx="241.78" cy="246.19" r="1.55" fill="#E3232A"/>
<circle cx="244.44" cy="241.07" r="1.55" fill="#E3232A"/>
<circle cx="246.34" cy="242.39" r="1.55" fill="#E3232A"/>
<circle cx="250.13" cy="242.39" r="1.55" fill="#E3232A"/>
<circle cx="255.45" cy="247.52" r="1.55" fill="#E3232A"/>
<circle cx="257.72" cy="247.52" r="1.55" fill="#E3232A"/>
<circle cx="259.62" cy="247.14" r="1.55" fill="#E3232A"/>
<circle cx="262.09" cy="249.42" r="1.55" fill="#E3232A"/>
<circle cx="263.99" cy="244.86" r="1.55" fill="#E3232A"/>
<circle cx="267.78" cy="246.19" r="1.55" fill="#E3232A"/>
<circle cx="269.11" cy="246.19" r="1.55" fill="#E3232A"/>
<circle cx="271.01" cy="248.66" r="1.55" fill="#E3232A"/>
<circle cx="273.47" cy="244.29" r="1.55" fill="#E3232A"/>
<circle cx="277.27" cy="242.96" r="1.55" fill="#E3232A"/>
<circle cx="279.17" cy="244.29" r="1.55" fill="#E3232A"/>
<circle cx="281.07" cy="244.29" r="1.55" fill="#E3232A"/>
<circle cx="282.96" cy="248.66" r="1.55" fill="#E3232A"/>
<circle cx="285.43" cy="243.34" r="1.55" fill="#E3232A"/>
<circle cx="290.93" cy="244.29" r="1.55" fill="#E3232A"/>
<circle cx="296.82" cy="244.86" r="1.55" fill="#E3232A"/>
<circle cx="304.79" cy="245.62" r="1.55" fill="#E3232A"/>
<circle cx="312.95" cy="244.29" r="1.55" fill="#E3232A"/>
<circle cx="326.04" cy="245.62" r="1.55" fill="#E3232A"/>
<circle cx="330.41" cy="249.04" r="1.55" fill="#E3232A"/>
<circle cx="214.64" cy="255.11" r="1.55" fill="#E3232A"/>
<circle cx="215.97" cy="254.35" r="1.55" fill="#E3232A"/>
<circle cx="217.11" cy="255.68" r="1.55" fill="#E3232A"/>
<circle cx="217.87" cy="252.83" r="1.55" fill="#E3232A"/>
<circle cx="219.01" cy="256.63" r="1.55" fill="#E3232A"/>
<circle cx="220.34" cy="251.88" r="1.55" fill="#E3232A"/>
<circle cx="221.66" cy="255.68" r="1.55" fill="#E3232A"/>
<circle cx="225.08" cy="250.93" r="1.55" fill="#E3232A"/>
<circle cx="226.98" cy="258.91" r="1.55" fill="#E3232A"/>
<circle cx="228.5" cy="256.25" r="1.55" fill="#E3232A"/>
<circle cx="230.77" cy="256.25" r="1.55" fill="#E3232A"/>
<circle cx="235.52" cy="255.11" r="1.55" fill="#E3232A"/>
<circle cx="237.42" cy="260.42" r="1.55" fill="#E3232A"/>
<circle cx="241.21" cy="255.11" r="1.55" fill="#E3232A"/>
<circle cx="243.68" cy="255.68" r="1.55" fill="#E3232A"/>
<circle cx="247.47" cy="258.53" r="1.55" fill="#E3232A"/>
<circle cx="248.8" cy="255.11" r="1.55" fill="#E3232A"/>
<circle cx="252.03" cy="257.01" r="1.55" fill="#E3232A"/>
<circle cx="253.55" cy="257.58" r="1.55" fill="#E3232A"/>
<circle cx="258.29" cy="256.63" r="1.55" fill="#E3232A"/>
<circle cx="265.5" cy="256.25" r="1.55" fill="#E3232A"/>
<circle cx="274.8" cy="258.15" r="1.55" fill="#E3232A"/>
<circle cx="288.09" cy="255.11" r="1.55" fill="#E3232A"/>
<circle cx="293.78" cy="255.3" r="1.55" fill="#E3232A"/>
<circle cx="300.61" cy="256.25" r="1.55" fill="#E3232A"/>
<circle cx="308.96" cy="256.25" r="1.55" fill="#E3232A"/>
<circle cx="317.5" cy="259.09" r="1.55" fill="#E3232A"/>
<circle cx="321.49" cy="256.06" r="1.55" fill="#E3232A"/>
<line x1="208.7" y1="196.8" x2="208.7" y2="307.45" stroke="#000" stroke-width="1.1"/>
<line x1="208.15" y1="306.9" x2="336" y2="306.9" stroke="#000" stroke-width="1.1"/>
<line x1="221.6" y1="306.9" x2="221.6" y2="309.1" stroke="#000" stroke-width="0.9"/>
<text x="221.6" y="316.7" font-size="6" text-anchor="middle" stroke="#000" stroke-width="0.15">17</text>
<line x1="236.9" y1="306.9" x2="236.9" y2="309.1" stroke="#000" stroke-width="0.9"/>
<text x="236.9" y="316.7" font-size="6" text-anchor="middle" stroke="#000" stroke-width="0.15">31</text>
<line x1="249.3" y1="306.9" x2="249.3" y2="309.1" stroke="#000" stroke-width="0.9"/>
<text x="249.3" y="316.7" font-size="6" text-anchor="middle" stroke="#000" stroke-width="0.15">37</text>
<line x1="264.5" y1="306.9" x2="264.5" y2="309.1" stroke="#000" stroke-width="0.9"/>
<text x="264.5" y="316.7" font-size="6" text-anchor="middle" stroke="#000" stroke-width="0.15">43</text>
<line x1="279.6" y1="306.9" x2="279.6" y2="309.1" stroke="#000" stroke-width="0.9"/>
<text x="279.6" y="316.7" font-size="6" text-anchor="middle" stroke="#000" stroke-width="0.15">51</text>
<line x1="294.5" y1="306.9" x2="294.5" y2="309.1" stroke="#000" stroke-width="0.9"/>
<text x="294.5" y="316.7" font-size="6" text-anchor="middle" stroke="#000" stroke-width="0.15">59</text>
<line x1="309.6" y1="306.9" x2="309.6" y2="309.1" stroke="#000" stroke-width="0.9"/>
<text x="309.6" y="316.7" font-size="6" text-anchor="middle" stroke="#000" stroke-width="0.15">73</text>
<line x1="321.7" y1="306.9" x2="321.7" y2="309.1" stroke="#000" stroke-width="0.9"/>
<text x="321.7" y="316.7" font-size="6" text-anchor="middle" stroke="#000" stroke-width="0.15">77</text>
<text x="274.5" y="327.2" font-size="6.35" text-anchor="middle" stroke="#000" stroke-width="0.15">Time (months)</text>
<line x1="206.5" y1="297.9" x2="208.7" y2="297.9" stroke="#000" stroke-width="0.9"/>
<text x="205.3" y="300.05" font-size="6" text-anchor="end" stroke="#000" stroke-width="0.15">−20</text>
<line x1="206.5" y1="273" x2="208.7" y2="273" stroke="#000" stroke-width="0.9"/>
<text x="205.3" y="275.15" font-size="6" text-anchor="end" stroke="#000" stroke-width="0.15">−10</text>
<line x1="206.5" y1="248.1" x2="208.7" y2="248.1" stroke="#000" stroke-width="0.9"/>
<text x="205.3" y="250.25" font-size="6" text-anchor="end" stroke="#000" stroke-width="0.15">0</text>
<line x1="206.5" y1="223.2" x2="208.7" y2="223.2" stroke="#000" stroke-width="0.9"/>
<text x="205.3" y="225.35" font-size="6" text-anchor="end" stroke="#000" stroke-width="0.15">10</text>
<line x1="206.5" y1="198.3" x2="208.7" y2="198.3" stroke="#000" stroke-width="0.9"/>
<text x="205.3" y="200.45" font-size="6" text-anchor="end" stroke="#000" stroke-width="0.15">20</text>
<text x="190.4" y="248.3" font-size="6.3" text-anchor="middle" transform="rotate(-90 190.4 248.3)" stroke="#000" stroke-width="0.15">Beta(t) for physical activity</text>
<text x="380.5" y="190.6" font-size="6.35" stroke="#000" stroke-width="0.15">Schoenfeld Individual Test p: 0.8981</text>
<path d="M386.07 220.57 L386.71 221.6 L387.57 223.04 L388.6 224.78 L389.74 226.65 L390.93 228.54 L392.11 230.31 L393.23 231.81 L394.23 232.91 L395.13 233.63 L395.98 234.12 L396.79 234.41 L397.59 234.54 L398.38 234.55 L399.18 234.48 L400.01 234.36 L400.88 234.23 L401.77 234.04 L402.66 233.72 L403.57 233.3 L404.49 232.82 L405.44 232.32 L406.41 231.83 L407.42 231.38 L408.47 231.01 L409.58 230.68 L410.75 230.35 L411.97 230.03 L413.21 229.74 L414.45 229.48 L415.67 229.29 L416.85 229.16 L417.96 229.11 L419 229.17 L419.99 229.32 L420.94 229.54 L421.87 229.82 L422.78 230.13 L423.69 230.44 L424.61 230.74 L425.55 231.01 L426.5 231.27 L427.45 231.58 L428.39 231.91 L429.34 232.23 L430.29 232.51 L431.24 232.74 L432.19 232.88 L433.14 232.91 L434.09 232.8 L435.04 232.59 L435.99 232.29 L436.93 231.93 L437.88 231.54 L438.83 231.14 L439.78 230.77 L440.73 230.44 L441.68 230.14 L442.63 229.84 L443.58 229.54 L444.53 229.24 L445.47 228.95 L446.42 228.67 L447.37 228.41 L448.32 228.16 L449.27 227.92 L450.22 227.67 L451.17 227.42 L452.12 227.19 L453.07 226.98 L454.01 226.82 L454.96 226.7 L455.91 226.64 L456.85 226.66 L457.77 226.74 L458.68 226.88 L459.59 227.06 L460.52 227.25 L461.47 227.45 L462.46 227.63 L463.5 227.78 L464.62 227.92 L465.83 228.08 L467.09 228.23 L468.37 228.39 L469.63 228.52 L470.84 228.63 L471.98 228.7 L472.99 228.73 L473.87 228.73 L474.64 228.72 L475.32 228.69 L475.96 228.62 L476.58 228.51 L477.22 228.34 L477.91 228.1 L478.69 227.78 L479.54 227.38 L480.45 226.92 L481.39 226.4 L482.36 225.81 L483.35 225.16 L484.34 224.45 L485.32 223.68 L486.28 222.85 L487.23 221.93 L488.2 220.93 L489.17 219.86 L490.13 218.73 L491.09 217.56 L492.04 216.36 L492.97 215.14 L493.87 213.93 L494.79 212.62 L495.75 211.18 L496.72 209.67 L497.66 208.15 L498.55 206.71 L499.34 205.4 L500 204.3 L500.51 203.49" fill="none" stroke="#000" stroke-width="1.3" stroke-dasharray="5.3 5.3"/>
<path d="M386.07 283.2 L386.47 282.45 L387 281.43 L387.62 280.21 L388.31 278.87 L389.06 277.47 L389.84 276.1 L390.62 274.82 L391.39 273.71 L392.15 272.69 L392.95 271.66 L393.78 270.66 L394.62 269.71 L395.48 268.85 L396.34 268.1 L397.19 267.5 L398.03 267.07 L398.84 266.84 L399.62 266.81 L400.39 266.93 L401.17 267.16 L401.97 267.46 L402.81 267.8 L403.71 268.12 L404.67 268.39 L405.73 268.67 L406.89 269.02 L408.1 269.4 L409.36 269.79 L410.62 270.16 L411.86 270.48 L413.05 270.73 L414.16 270.86 L415.2 270.88 L416.19 270.81 L417.15 270.67 L418.07 270.47 L418.99 270.24 L419.9 269.99 L420.82 269.75 L421.75 269.53 L422.71 269.31 L423.69 269.05 L424.68 268.76 L425.67 268.48 L426.64 268.2 L427.58 267.96 L428.48 267.77 L429.34 267.64 L430.13 267.56 L430.86 267.53 L431.53 267.53 L432.19 267.56 L432.85 267.63 L433.52 267.73 L434.25 267.86 L435.04 268.01 L435.88 268.2 L436.76 268.42 L437.66 268.68 L438.59 268.96 L439.56 269.27 L440.55 269.6 L441.58 269.94 L442.63 270.29 L443.74 270.68 L444.91 271.12 L446.13 271.6 L447.37 272.08 L448.61 272.56 L449.83 273 L451.01 273.39 L452.12 273.71 L453.16 273.96 L454.15 274.16 L455.1 274.33 L456.03 274.46 L456.94 274.55 L457.85 274.61 L458.77 274.65 L459.71 274.66 L460.66 274.62 L461.61 274.53 L462.55 274.4 L463.5 274.24 L464.45 274.08 L465.4 273.92 L466.35 273.79 L467.3 273.71 L468.26 273.65 L469.24 273.61 L470.23 273.57 L471.21 273.55 L472.18 273.56 L473.13 273.58 L474.03 273.63 L474.89 273.71 L475.69 273.8 L476.45 273.9 L477.16 274.01 L477.86 274.15 L478.53 274.33 L479.21 274.56 L479.89 274.85 L480.58 275.23 L481.28 275.66 L481.96 276.15 L482.64 276.69 L483.31 277.29 L484 277.95 L484.72 278.68 L485.47 279.48 L486.28 280.35 L487.15 281.33 L488.08 282.44 L489.05 283.63 L490.05 284.88 L491.05 286.16 L492.03 287.43 L492.98 288.67 L493.87 289.84 L494.74 291.01 L495.64 292.24 L496.52 293.49 L497.38 294.7 L498.18 295.84 L498.89 296.87 L499.48 297.73 L499.94 298.38" fill="none" stroke="#000" stroke-width="1.3" stroke-dasharray="5.3 5.3"/>
<path d="M386.07 251.88 L387.07 251.81 L388.38 251.71 L389.95 251.59 L391.7 251.46 L393.54 251.32 L395.42 251.18 L397.26 251.05 L398.98 250.93 L400.61 250.83 L402.23 250.73 L403.85 250.64 L405.48 250.54 L407.13 250.45 L408.8 250.36 L410.51 250.27 L412.26 250.18 L414.07 250.08 L415.92 249.97 L417.82 249.86 L419.74 249.75 L421.67 249.65 L423.61 249.55 L425.53 249.47 L427.45 249.42 L429.36 249.38 L431.29 249.35 L433.22 249.34 L435.16 249.33 L437.07 249.34 L438.97 249.36 L440.82 249.38 L442.63 249.42 L444.39 249.46 L446.13 249.52 L447.83 249.59 L449.51 249.67 L451.15 249.75 L452.77 249.83 L454.36 249.91 L455.91 249.99 L457.43 250.06 L458.89 250.12 L460.32 250.19 L461.72 250.26 L463.11 250.33 L464.5 250.4 L465.89 250.47 L467.3 250.55 L468.72 250.64 L470.15 250.74 L471.57 250.84 L472.99 250.95 L474.42 251.05 L475.84 251.15 L477.26 251.24 L478.69 251.31 L480.1 251.38 L481.51 251.44 L482.91 251.48 L484.32 251.53 L485.73 251.57 L487.16 251.61 L488.6 251.65 L490.07 251.69 L491.65 251.74 L493.38 251.8 L495.17 251.85 L496.95 251.91 L498.64 251.96 L500.17 252 L501.45 252.04 L502.41 252.07" fill="none" stroke="#000" stroke-width="1.3"/>
<circle cx="391.01" cy="233.47" r="1.55" fill="#E3232A"/>
<circle cx="394.23" cy="235.37" r="1.55" fill="#E3232A"/>
<circle cx="398.41" cy="236.13" r="1.55" fill="#E3232A"/>
<circle cx="403.72" cy="235.37" r="1.55" fill="#E3232A"/>
<circle cx="405.62" cy="236.7" r="1.55" fill="#E3232A"/>
<circle cx="427.07" cy="235.75" r="1.55" fill="#E3232A"/>
<circle cx="429.34" cy="235.37" r="1.55" fill="#E3232A"/>
<circle cx="386.07" cy="256.25" r="1.55" fill="#E3232A"/>
<circle cx="387.21" cy="254.35" r="1.55" fill="#E3232A"/>
<circle cx="387.97" cy="253.21" r="1.55" fill="#E3232A"/>
<circle cx="389.11" cy="255.11" r="1.55" fill="#E3232A"/>
<circle cx="389.87" cy="253.78" r="1.55" fill="#E3232A"/>
<circle cx="391.01" cy="255.68" r="1.55" fill="#E3232A"/>
<circle cx="391.77" cy="252.83" r="1.55" fill="#E3232A"/>
<circle cx="392.91" cy="258.53" r="1.55" fill="#E3232A"/>
<circle cx="393.66" cy="254.73" r="1.55" fill="#E3232A"/>
<circle cx="394.8" cy="256.25" r="1.55" fill="#E3232A"/>
<circle cx="396.13" cy="255.68" r="1.55" fill="#E3232A"/>
<circle cx="397.46" cy="255.11" r="1.55" fill="#E3232A"/>
<circle cx="399.36" cy="249.04" r="1.55" fill="#E3232A"/>
<circle cx="400.5" cy="251.88" r="1.55" fill="#E3232A"/>
<circle cx="401.26" cy="256.63" r="1.55" fill="#E3232A"/>
<circle cx="402.77" cy="257.58" r="1.55" fill="#E3232A"/>
<circle cx="404.29" cy="258.15" r="1.55" fill="#E3232A"/>
<circle cx="406.19" cy="257.58" r="1.55" fill="#E3232A"/>
<circle cx="407.52" cy="253.21" r="1.55" fill="#E3232A"/>
<circle cx="409.42" cy="250.93" r="1.55" fill="#E3232A"/>
<circle cx="410.36" cy="250.55" r="1.55" fill="#E3232A"/>
<circle cx="411.88" cy="250.93" r="1.55" fill="#E3232A"/>
<circle cx="411.31" cy="260.8" r="1.55" fill="#E3232A"/>
<circle cx="413.21" cy="251.88" r="1.55" fill="#E3232A"/>
<circle cx="414.54" cy="250.93" r="1.55" fill="#E3232A"/>
<circle cx="415.68" cy="249.99" r="1.55" fill="#E3232A"/>
<circle cx="417.01" cy="255.11" r="1.55" fill="#E3232A"/>
<circle cx="418.91" cy="250.93" r="1.55" fill="#E3232A"/>
<circle cx="419.85" cy="252.83" r="1.55" fill="#E3232A"/>
<circle cx="421.37" cy="254.35" r="1.55" fill="#E3232A"/>
<circle cx="422.7" cy="256.25" r="1.55" fill="#E3232A"/>
<circle cx="424.6" cy="249.99" r="1.55" fill="#E3232A"/>
<circle cx="425.93" cy="249.04" r="1.55" fill="#E3232A"/>
<circle cx="430.29" cy="248.66" r="1.55" fill="#E3232A"/>
<circle cx="432.19" cy="249.42" r="1.55" fill="#E3232A"/>
<circle cx="434.09" cy="249.99" r="1.55" fill="#E3232A"/>
<circle cx="435.42" cy="251.88" r="1.55" fill="#E3232A"/>
<circle cx="436.93" cy="250.55" r="1.55" fill="#E3232A"/>
<circle cx="438.83" cy="250.93" r="1.55" fill="#E3232A"/>
<circle cx="441.11" cy="251.31" r="1.55" fill="#E3232A"/>
<circle cx="443.58" cy="249.04" r="1.55" fill="#E3232A"/>
<circle cx="445.47" cy="254.35" r="1.55" fill="#E3232A"/>
<circle cx="447.37" cy="249.04" r="1.55" fill="#E3232A"/>
<circle cx="449.27" cy="253.78" r="1.55" fill="#E3232A"/>
<circle cx="451.17" cy="254.35" r="1.55" fill="#E3232A"/>
<circle cx="453.07" cy="254.35" r="1.55" fill="#E3232A"/>
<circle cx="455.53" cy="249.42" r="1.55" fill="#E3232A"/>
<circle cx="457.81" cy="253.21" r="1.55" fill="#E3232A"/>
<circle cx="460.09" cy="250.55" r="1.55" fill="#E3232A"/>
<circle cx="461.99" cy="250.18" r="1.55" fill="#E3232A"/>
<circle cx="463.88" cy="249.61" r="1.55" fill="#E3232A"/>
<circle cx="466.35" cy="248.09" r="1.55" fill="#E3232A"/>
<circle cx="469.2" cy="252.83" r="1.55" fill="#E3232A"/>
<circle cx="472.61" cy="250.55" r="1.55" fill="#E3232A"/>
<circle cx="476.79" cy="250.55" r="1.55" fill="#E3232A"/>
<circle cx="480.96" cy="249.42" r="1.55" fill="#E3232A"/>
<circle cx="485.33" cy="253.21" r="1.55" fill="#E3232A"/>
<circle cx="489.5" cy="249.04" r="1.55" fill="#E3232A"/>
<circle cx="493.87" cy="252.83" r="1.55" fill="#E3232A"/>
<circle cx="498.04" cy="252.45" r="1.55" fill="#E3232A"/>
<circle cx="502.41" cy="252.45" r="1.55" fill="#E3232A"/>
<line x1="380.4" y1="196.8" x2="380.4" y2="307.45" stroke="#000" stroke-width="1.1"/>
<line x1="379.85" y1="306.9" x2="507.7" y2="306.9" stroke="#000" stroke-width="1.1"/>
<line x1="393.3" y1="306.9" x2="393.3" y2="309.1" stroke="#000" stroke-width="0.9"/>
<text x="393.3" y="316.7" font-size="6" text-anchor="middle" stroke="#000" stroke-width="0.15">17</text>
<line x1="408.6" y1="306.9" x2="408.6" y2="309.1" stroke="#000" stroke-width="0.9"/>
<text x="408.6" y="316.7" font-size="6" text-anchor="middle" stroke="#000" stroke-width="0.15">31</text>
<line x1="421" y1="306.9" x2="421" y2="309.1" stroke="#000" stroke-width="0.9"/>
<text x="421" y="316.7" font-size="6" text-anchor="middle" stroke="#000" stroke-width="0.15">37</text>
<line x1="436.2" y1="306.9" x2="436.2" y2="309.1" stroke="#000" stroke-width="0.9"/>
<text x="436.2" y="316.7" font-size="6" text-anchor="middle" stroke="#000" stroke-width="0.15">43</text>
<line x1="451.3" y1="306.9" x2="451.3" y2="309.1" stroke="#000" stroke-width="0.9"/>
<text x="451.3" y="316.7" font-size="6" text-anchor="middle" stroke="#000" stroke-width="0.15">51</text>
<line x1="466.2" y1="306.9" x2="466.2" y2="309.1" stroke="#000" stroke-width="0.9"/>
<text x="466.2" y="316.7" font-size="6" text-anchor="middle" stroke="#000" stroke-width="0.15">59</text>
<line x1="481.3" y1="306.9" x2="481.3" y2="309.1" stroke="#000" stroke-width="0.9"/>
<text x="481.3" y="316.7" font-size="6" text-anchor="middle" stroke="#000" stroke-width="0.15">73</text>
<line x1="493.4" y1="306.9" x2="493.4" y2="309.1" stroke="#000" stroke-width="0.9"/>
<text x="493.4" y="316.7" font-size="6" text-anchor="middle" stroke="#000" stroke-width="0.15">77</text>
<text x="447.3" y="327.2" font-size="6.35" text-anchor="middle" stroke="#000" stroke-width="0.15">Time (months)</text>
<line x1="378.2" y1="284.9" x2="380.4" y2="284.9" stroke="#000" stroke-width="0.9"/>
<text x="377" y="287.05" font-size="6" text-anchor="end" stroke="#000" stroke-width="0.15">−20</text>
<line x1="378.2" y1="253.2" x2="380.4" y2="253.2" stroke="#000" stroke-width="0.9"/>
<text x="377" y="255.35" font-size="6" text-anchor="end" stroke="#000" stroke-width="0.15">0</text>
<line x1="378.2" y1="221.5" x2="380.4" y2="221.5" stroke="#000" stroke-width="0.9"/>
<text x="377" y="223.65" font-size="6" text-anchor="end" stroke="#000" stroke-width="0.15">20</text>
<text x="361.5" y="252.7" font-size="6.3" text-anchor="middle" transform="rotate(-90 361.5 252.7)" stroke="#000" stroke-width="0.15">Beta(t) for family history of CRC in FDR</text>
<text x="552.8" y="190.6" font-size="6.35" stroke="#000" stroke-width="0.15">Schoenfeld Individual Test p: 0.3321</text>
<path d="M558.07 216.77 L558.71 217.8 L559.57 219.25 L560.6 220.98 L561.74 222.86 L562.93 224.75 L564.11 226.51 L565.23 228.01 L566.23 229.11 L567.13 229.84 L567.98 230.34 L568.79 230.64 L569.59 230.78 L570.38 230.8 L571.18 230.72 L572.01 230.59 L572.88 230.44 L573.78 230.19 L574.71 229.79 L575.65 229.28 L576.61 228.71 L577.58 228.11 L578.55 227.54 L579.51 227.03 L580.47 226.64 L581.4 226.33 L582.32 226.05 L583.23 225.8 L584.14 225.59 L585.07 225.43 L586.03 225.32 L587.02 225.28 L588.06 225.31 L589.17 225.45 L590.34 225.69 L591.56 226.01 L592.8 226.38 L594.04 226.77 L595.26 227.16 L596.44 227.5 L597.55 227.78 L598.59 228.02 L599.58 228.26 L600.53 228.48 L601.46 228.68 L602.38 228.86 L603.29 228.99 L604.2 229.08 L605.14 229.11 L606.09 229.08 L607.04 229 L607.99 228.88 L608.93 228.72 L609.88 228.52 L610.83 228.3 L611.78 228.05 L612.73 227.78 L613.68 227.47 L614.63 227.09 L615.58 226.68 L616.53 226.24 L617.47 225.81 L618.42 225.4 L619.37 225.04 L620.32 224.74 L621.27 224.51 L622.22 224.3 L623.17 224.13 L624.12 223.99 L625.07 223.88 L626.01 223.81 L626.96 223.78 L627.91 223.8 L628.85 223.86 L629.77 223.99 L630.68 224.17 L631.59 224.38 L632.52 224.61 L633.47 224.85 L634.46 225.09 L635.5 225.31 L636.62 225.55 L637.83 225.84 L639.09 226.14 L640.37 226.44 L641.63 226.72 L642.84 226.96 L643.98 227.13 L644.99 227.21 L645.87 227.22 L646.64 227.18 L647.32 227.08 L647.96 226.94 L648.58 226.75 L649.22 226.5 L649.91 226.22 L650.69 225.88 L651.54 225.51 L652.45 225.1 L653.39 224.65 L654.36 224.15 L655.35 223.59 L656.34 222.97 L657.32 222.28 L658.28 221.52 L659.23 220.66 L660.18 219.72 L661.12 218.7 L662.07 217.63 L663.02 216.5 L663.97 215.34 L664.92 214.16 L665.87 212.98 L666.87 211.69 L667.94 210.26 L669.05 208.74 L670.14 207.23 L671.17 205.77 L672.1 204.46 L672.87 203.36 L673.46 202.54" fill="none" stroke="#000" stroke-width="1.3" stroke-dasharray="5.3 5.3"/>
<path d="M558.07 279.78 L558.47 279.08 L559 278.13 L559.62 277.01 L560.31 275.76 L561.06 274.46 L561.84 273.17 L562.62 271.95 L563.39 270.86 L564.15 269.84 L564.95 268.78 L565.78 267.72 L566.62 266.71 L567.48 265.78 L568.34 264.96 L569.19 264.3 L570.03 263.84 L570.84 263.6 L571.62 263.57 L572.39 263.7 L573.17 263.95 L573.97 264.26 L574.81 264.6 L575.71 264.92 L576.67 265.17 L577.73 265.4 L578.89 265.68 L580.1 265.98 L581.36 266.28 L582.62 266.57 L583.86 266.8 L585.05 266.98 L586.16 267.07 L587.2 267.06 L588.19 266.96 L589.15 266.81 L590.07 266.61 L590.99 266.39 L591.9 266.16 L592.82 265.93 L593.75 265.74 L594.71 265.54 L595.69 265.33 L596.68 265.1 L597.67 264.87 L598.64 264.66 L599.58 264.47 L600.48 264.32 L601.34 264.22 L602.13 264.16 L602.86 264.13 L603.53 264.13 L604.19 264.16 L604.85 264.22 L605.52 264.31 L606.25 264.44 L607.04 264.6 L607.88 264.8 L608.76 265.04 L609.66 265.31 L610.59 265.62 L611.56 265.95 L612.55 266.31 L613.58 266.68 L614.63 267.07 L615.74 267.5 L616.91 267.99 L618.13 268.52 L619.37 269.06 L620.61 269.59 L621.83 270.08 L623.01 270.51 L624.12 270.86 L625.16 271.13 L626.15 271.33 L627.1 271.48 L628.03 271.6 L628.94 271.68 L629.85 271.73 L630.77 271.77 L631.71 271.81 L632.66 271.82 L633.61 271.79 L634.55 271.73 L635.5 271.66 L636.45 271.58 L637.4 271.5 L638.35 271.45 L639.3 271.43 L640.26 271.43 L641.24 271.43 L642.23 271.43 L643.21 271.45 L644.18 271.5 L645.13 271.56 L646.03 271.67 L646.89 271.81 L647.69 271.99 L648.45 272.2 L649.16 272.43 L649.86 272.7 L650.53 273 L651.21 273.33 L651.89 273.69 L652.58 274.09 L653.28 274.5 L653.96 274.91 L654.64 275.35 L655.31 275.82 L656 276.35 L656.72 276.95 L657.47 277.65 L658.28 278.45 L659.14 279.36 L660.04 280.36 L660.99 281.44 L661.95 282.6 L662.94 283.84 L663.93 285.14 L664.91 286.51 L665.87 287.94 L666.87 289.56 L667.94 291.42 L669.05 293.43 L670.14 295.46 L671.17 297.42 L672.1 299.2 L672.87 300.7 L673.46 301.8" fill="none" stroke="#000" stroke-width="1.3" stroke-dasharray="5.3 5.3"/>
<path d="M558.07 248.09 L559.07 248.01 L560.38 247.92 L561.95 247.8 L563.7 247.67 L565.54 247.54 L567.42 247.4 L569.26 247.26 L570.98 247.14 L572.61 247.01 L574.23 246.87 L575.85 246.72 L577.48 246.57 L579.13 246.43 L580.8 246.32 L582.51 246.24 L584.26 246.19 L586.07 246.19 L587.92 246.22 L589.82 246.28 L591.74 246.36 L593.67 246.45 L595.61 246.55 L597.53 246.66 L599.45 246.76 L601.36 246.86 L603.29 246.96 L605.22 247.07 L607.16 247.19 L609.07 247.31 L610.97 247.44 L612.82 247.57 L614.63 247.71 L616.39 247.86 L618.13 248.02 L619.83 248.2 L621.51 248.37 L623.15 248.55 L624.77 248.72 L626.36 248.89 L627.91 249.04 L629.43 249.18 L630.89 249.31 L632.32 249.44 L633.72 249.56 L635.11 249.67 L636.5 249.78 L637.89 249.89 L639.3 249.99 L640.72 250.07 L642.15 250.15 L643.57 250.22 L644.99 250.28 L646.42 250.34 L647.84 250.41 L649.26 250.48 L650.69 250.55 L652.1 250.64 L653.51 250.73 L654.91 250.83 L656.32 250.92 L657.73 251.02 L659.16 251.12 L660.6 251.22 L662.07 251.31 L663.65 251.41 L665.38 251.52 L667.17 251.63 L668.95 251.74 L670.64 251.84 L672.17 251.94 L673.45 252.01 L674.41 252.07" fill="none" stroke="#000" stroke-width="1.3"/>
<circle cx="558.07" cy="235.37" r="1.55" fill="#E3232A"/>
<circle cx="559.97" cy="236.13" r="1.55" fill="#E3232A"/>
<circle cx="568.7" cy="236.13" r="1.55" fill="#E3232A"/>
<circle cx="570.98" cy="236.13" r="1.55" fill="#E3232A"/>
<circle cx="583.31" cy="234.23" r="1.55" fill="#E3232A"/>
<circle cx="587.68" cy="234.8" r="1.55" fill="#E3232A"/>
<circle cx="575.15" cy="238.98" r="1.55" fill="#E3232A"/>
<circle cx="576.67" cy="241.07" r="1.55" fill="#E3232A"/>
<circle cx="580.09" cy="243.72" r="1.55" fill="#E3232A"/>
<circle cx="581.99" cy="241.07" r="1.55" fill="#E3232A"/>
<circle cx="586.16" cy="240.5" r="1.55" fill="#E3232A"/>
<circle cx="592.8" cy="239.17" r="1.55" fill="#E3232A"/>
<circle cx="600.96" cy="240.5" r="1.55" fill="#E3232A"/>
<circle cx="606.09" cy="241.07" r="1.55" fill="#E3232A"/>
<circle cx="609.88" cy="238.6" r="1.55" fill="#E3232A"/>
<circle cx="617.47" cy="239.17" r="1.55" fill="#E3232A"/>
<circle cx="623.17" cy="239.55" r="1.55" fill="#E3232A"/>
<circle cx="635.12" cy="244.86" r="1.55" fill="#E3232A"/>
<circle cx="637.78" cy="247.14" r="1.55" fill="#E3232A"/>
<circle cx="665.87" cy="241.07" r="1.55" fill="#E3232A"/>
<circle cx="563.77" cy="242.96" r="1.55" fill="#E3232A"/>
<circle cx="565.28" cy="242.96" r="1.55" fill="#E3232A"/>
<circle cx="561.11" cy="247.52" r="1.55" fill="#E3232A"/>
<circle cx="559.21" cy="251.88" r="1.55" fill="#E3232A"/>
<circle cx="560.54" cy="249.99" r="1.55" fill="#E3232A"/>
<circle cx="562.44" cy="256.25" r="1.55" fill="#E3232A"/>
<circle cx="563.39" cy="258.53" r="1.55" fill="#E3232A"/>
<circle cx="564.91" cy="253.21" r="1.55" fill="#E3232A"/>
<circle cx="566.23" cy="251.31" r="1.55" fill="#E3232A"/>
<circle cx="567.56" cy="250.55" r="1.55" fill="#E3232A"/>
<circle cx="569.08" cy="255.68" r="1.55" fill="#E3232A"/>
<circle cx="570.03" cy="254.35" r="1.55" fill="#E3232A"/>
<circle cx="571.93" cy="251.31" r="1.55" fill="#E3232A"/>
<circle cx="572.88" cy="255.11" r="1.55" fill="#E3232A"/>
<circle cx="574.39" cy="248.66" r="1.55" fill="#E3232A"/>
<circle cx="575.15" cy="254.35" r="1.55" fill="#E3232A"/>
<circle cx="577.62" cy="253.78" r="1.55" fill="#E3232A"/>
<circle cx="578.95" cy="254.35" r="1.55" fill="#E3232A"/>
<circle cx="581.42" cy="250.55" r="1.55" fill="#E3232A"/>
<circle cx="584.64" cy="249.99" r="1.55" fill="#E3232A"/>
<circle cx="588.44" cy="248.09" r="1.55" fill="#E3232A"/>
<circle cx="589.96" cy="245.24" r="1.55" fill="#E3232A"/>
<circle cx="591.47" cy="255.68" r="1.55" fill="#E3232A"/>
<circle cx="593.37" cy="252.83" r="1.55" fill="#E3232A"/>
<circle cx="595.27" cy="249.99" r="1.55" fill="#E3232A"/>
<circle cx="596.6" cy="248.66" r="1.55" fill="#E3232A"/>
<circle cx="597.93" cy="247.52" r="1.55" fill="#E3232A"/>
<circle cx="599.45" cy="254.35" r="1.55" fill="#E3232A"/>
<circle cx="602.86" cy="248.09" r="1.55" fill="#E3232A"/>
<circle cx="604.76" cy="248.09" r="1.55" fill="#E3232A"/>
<circle cx="607.99" cy="249.99" r="1.55" fill="#E3232A"/>
<circle cx="611.21" cy="248.66" r="1.55" fill="#E3232A"/>
<circle cx="613.11" cy="249.42" r="1.55" fill="#E3232A"/>
<circle cx="615.01" cy="250.55" r="1.55" fill="#E3232A"/>
<circle cx="619.37" cy="250.55" r="1.55" fill="#E3232A"/>
<circle cx="621.27" cy="248.09" r="1.55" fill="#E3232A"/>
<circle cx="625.07" cy="250.93" r="1.55" fill="#E3232A"/>
<circle cx="627.53" cy="248.66" r="1.55" fill="#E3232A"/>
<circle cx="629.81" cy="250.55" r="1.55" fill="#E3232A"/>
<circle cx="632.09" cy="252.45" r="1.55" fill="#E3232A"/>
<circle cx="641.2" cy="250.93" r="1.55" fill="#E3232A"/>
<circle cx="644.61" cy="251.88" r="1.55" fill="#E3232A"/>
<circle cx="648.79" cy="250.55" r="1.55" fill="#E3232A"/>
<circle cx="652.96" cy="250.55" r="1.55" fill="#E3232A"/>
<circle cx="657.33" cy="253.21" r="1.55" fill="#E3232A"/>
<circle cx="661.5" cy="255.68" r="1.55" fill="#E3232A"/>
<circle cx="670.04" cy="249.42" r="1.55" fill="#E3232A"/>
<circle cx="674.6" cy="255.3" r="1.55" fill="#E3232A"/>
<line x1="552.7" y1="196.8" x2="552.7" y2="307.45" stroke="#000" stroke-width="1.1"/>
<line x1="552.15" y1="306.9" x2="680" y2="306.9" stroke="#000" stroke-width="1.1"/>
<line x1="565.6" y1="306.9" x2="565.6" y2="309.1" stroke="#000" stroke-width="0.9"/>
<text x="565.6" y="316.7" font-size="6" text-anchor="middle" stroke="#000" stroke-width="0.15">17</text>
<line x1="580.9" y1="306.9" x2="580.9" y2="309.1" stroke="#000" stroke-width="0.9"/>
<text x="580.9" y="316.7" font-size="6" text-anchor="middle" stroke="#000" stroke-width="0.15">31</text>
<line x1="593.3" y1="306.9" x2="593.3" y2="309.1" stroke="#000" stroke-width="0.9"/>
<text x="593.3" y="316.7" font-size="6" text-anchor="middle" stroke="#000" stroke-width="0.15">37</text>
<line x1="608.5" y1="306.9" x2="608.5" y2="309.1" stroke="#000" stroke-width="0.9"/>
<text x="608.5" y="316.7" font-size="6" text-anchor="middle" stroke="#000" stroke-width="0.15">43</text>
<line x1="623.6" y1="306.9" x2="623.6" y2="309.1" stroke="#000" stroke-width="0.9"/>
<text x="623.6" y="316.7" font-size="6" text-anchor="middle" stroke="#000" stroke-width="0.15">51</text>
<line x1="638.5" y1="306.9" x2="638.5" y2="309.1" stroke="#000" stroke-width="0.9"/>
<text x="638.5" y="316.7" font-size="6" text-anchor="middle" stroke="#000" stroke-width="0.15">59</text>
<line x1="653.6" y1="306.9" x2="653.6" y2="309.1" stroke="#000" stroke-width="0.9"/>
<text x="653.6" y="316.7" font-size="6" text-anchor="middle" stroke="#000" stroke-width="0.15">73</text>
<line x1="665.7" y1="306.9" x2="665.7" y2="309.1" stroke="#000" stroke-width="0.9"/>
<text x="665.7" y="316.7" font-size="6" text-anchor="middle" stroke="#000" stroke-width="0.15">77</text>
<text x="617.75" y="327.2" font-size="6.35" text-anchor="middle" stroke="#000" stroke-width="0.15">Time (months)</text>
<line x1="550.5" y1="294.9" x2="552.7" y2="294.9" stroke="#000" stroke-width="0.9"/>
<text x="549.3" y="297.05" font-size="6" text-anchor="end" stroke="#000" stroke-width="0.15">−20</text>
<line x1="550.5" y1="271.6" x2="552.7" y2="271.6" stroke="#000" stroke-width="0.9"/>
<text x="549.3" y="273.75" font-size="6" text-anchor="end" stroke="#000" stroke-width="0.15">−10</text>
<line x1="550.5" y1="248.3" x2="552.7" y2="248.3" stroke="#000" stroke-width="0.9"/>
<text x="549.3" y="250.45" font-size="6" text-anchor="end" stroke="#000" stroke-width="0.15">0</text>
<line x1="550.5" y1="225" x2="552.7" y2="225" stroke="#000" stroke-width="0.9"/>
<text x="549.3" y="227.15" font-size="6" text-anchor="end" stroke="#000" stroke-width="0.15">10</text>
<line x1="550.5" y1="201.7" x2="552.7" y2="201.7" stroke="#000" stroke-width="0.9"/>
<text x="549.3" y="203.85" font-size="6" text-anchor="end" stroke="#000" stroke-width="0.15">20</text>
<text x="533.5" y="252.9" font-size="6.3" text-anchor="middle" transform="rotate(-90 533.5 252.9)" stroke="#000" stroke-width="0.15">Beta(t) for history of chronic constipation</text>
<rect x="33.6" y="365.2" width="132.6" height="130" fill="#fff" stroke="none" stroke-width="1"/>
<line x1="38.5" y1="365.2" x2="38.5" y2="495.2" stroke="#EBEBEB" stroke-width="0.9"/>
<line x1="56.07" y1="365.2" x2="56.07" y2="495.2" stroke="#EBEBEB" stroke-width="0.6"/>
<line x1="73.63" y1="365.2" x2="73.63" y2="495.2" stroke="#EBEBEB" stroke-width="0.9"/>
<line x1="91.2" y1="365.2" x2="91.2" y2="495.2" stroke="#EBEBEB" stroke-width="0.6"/>
<line x1="108.77" y1="365.2" x2="108.77" y2="495.2" stroke="#EBEBEB" stroke-width="0.9"/>
<line x1="126.34" y1="365.2" x2="126.34" y2="495.2" stroke="#EBEBEB" stroke-width="0.6"/>
<line x1="143.91" y1="365.2" x2="143.91" y2="495.2" stroke="#EBEBEB" stroke-width="0.9"/>
<line x1="161.47" y1="365.2" x2="161.47" y2="495.2" stroke="#EBEBEB" stroke-width="0.6"/>
<line x1="33.6" y1="485.1" x2="166.2" y2="485.1" stroke="#EBEBEB" stroke-width="0.6"/>
<line x1="33.6" y1="471.5" x2="166.2" y2="471.5" stroke="#EBEBEB" stroke-width="0.9"/>
<line x1="33.6" y1="457.9" x2="166.2" y2="457.9" stroke="#EBEBEB" stroke-width="0.6"/>
<line x1="33.6" y1="444.3" x2="166.2" y2="444.3" stroke="#EBEBEB" stroke-width="0.9"/>
<line x1="33.6" y1="430.7" x2="166.2" y2="430.7" stroke="#EBEBEB" stroke-width="0.6"/>
<line x1="33.6" y1="417.1" x2="166.2" y2="417.1" stroke="#EBEBEB" stroke-width="0.9"/>
<line x1="33.6" y1="403.5" x2="166.2" y2="403.5" stroke="#EBEBEB" stroke-width="0.6"/>
<line x1="33.6" y1="389.9" x2="166.2" y2="389.9" stroke="#EBEBEB" stroke-width="0.9"/>
<line x1="33.6" y1="376.3" x2="166.2" y2="376.3" stroke="#EBEBEB" stroke-width="0.6"/>
<circle cx="39.91" cy="417.2" r="1.5" fill="#000"/>
<circle cx="41.31" cy="417.92" r="1.5" fill="#000"/>
<circle cx="42.72" cy="414.62" r="1.5" fill="#000"/>
<circle cx="44.12" cy="412.75" r="1.5" fill="#000"/>
<circle cx="44.82" cy="412.05" r="1.5" fill="#000"/>
<circle cx="48.34" cy="415.71" r="1.5" fill="#000"/>
<circle cx="49.04" cy="413.09" r="1.5" fill="#000"/>
<circle cx="49.74" cy="412.11" r="1.5" fill="#000"/>
<circle cx="50.45" cy="416.46" r="1.5" fill="#000"/>
<circle cx="51.85" cy="416.47" r="1.5" fill="#000"/>
<circle cx="52.55" cy="417.64" r="1.5" fill="#000"/>
<circle cx="53.26" cy="413.94" r="1.5" fill="#000"/>
<circle cx="53.96" cy="416.42" r="1.5" fill="#000"/>
<circle cx="56.07" cy="416.52" r="1.5" fill="#000"/>
<circle cx="56.77" cy="412.87" r="1.5" fill="#000"/>
<circle cx="58.18" cy="418.37" r="1.5" fill="#000"/>
<circle cx="58.88" cy="417.9" r="1.5" fill="#000"/>
<circle cx="60.28" cy="423.46" r="1.5" fill="#000"/>
<circle cx="60.99" cy="417.81" r="1.5" fill="#000"/>
<circle cx="61.69" cy="416.92" r="1.5" fill="#000"/>
<circle cx="63.8" cy="420.55" r="1.5" fill="#000"/>
<circle cx="64.5" cy="417.88" r="1.5" fill="#000"/>
<circle cx="65.2" cy="419.75" r="1.5" fill="#000"/>
<circle cx="65.91" cy="416.45" r="1.5" fill="#000"/>
<circle cx="66.61" cy="417.99" r="1.5" fill="#000"/>
<circle cx="67.31" cy="420.1" r="1.5" fill="#000"/>
<circle cx="68.01" cy="419.26" r="1.5" fill="#000"/>
<circle cx="68.72" cy="417.77" r="1.5" fill="#000"/>
<circle cx="69.42" cy="414.6" r="1.5" fill="#000"/>
<circle cx="70.12" cy="418.55" r="1.5" fill="#000"/>
<circle cx="71.53" cy="417.54" r="1.5" fill="#000"/>
<circle cx="72.23" cy="419.19" r="1.5" fill="#000"/>
<circle cx="72.93" cy="417.85" r="1.5" fill="#000"/>
<circle cx="73.63" cy="420.09" r="1.5" fill="#000"/>
<circle cx="74.34" cy="417.11" r="1.5" fill="#000"/>
<circle cx="75.74" cy="417.71" r="1.5" fill="#000"/>
<circle cx="76.45" cy="418.9" r="1.5" fill="#000"/>
<circle cx="77.15" cy="414.31" r="1.5" fill="#000"/>
<circle cx="78.55" cy="416.05" r="1.5" fill="#000"/>
<circle cx="79.96" cy="415.74" r="1.5" fill="#000"/>
<circle cx="80.66" cy="422.16" r="1.5" fill="#000"/>
<circle cx="81.36" cy="416.75" r="1.5" fill="#000"/>
<circle cx="82.77" cy="418.64" r="1.5" fill="#000"/>
<circle cx="84.88" cy="418.49" r="1.5" fill="#000"/>
<circle cx="86.99" cy="416.09" r="1.5" fill="#000"/>
<circle cx="87.69" cy="412.76" r="1.5" fill="#000"/>
<circle cx="88.39" cy="419.28" r="1.5" fill="#000"/>
<circle cx="89.8" cy="415.67" r="1.5" fill="#000"/>
<circle cx="90.5" cy="418.58" r="1.5" fill="#000"/>
<circle cx="91.2" cy="413.3" r="1.5" fill="#000"/>
<circle cx="92.61" cy="415.52" r="1.5" fill="#000"/>
<circle cx="93.31" cy="419.91" r="1.5" fill="#000"/>
<circle cx="96.12" cy="420.31" r="1.5" fill="#000"/>
<circle cx="96.82" cy="413.19" r="1.5" fill="#000"/>
<circle cx="98.23" cy="413.08" r="1.5" fill="#000"/>
<circle cx="98.93" cy="416.42" r="1.5" fill="#000"/>
<circle cx="99.63" cy="418.41" r="1.5" fill="#000"/>
<circle cx="100.34" cy="416.92" r="1.5" fill="#000"/>
<circle cx="101.74" cy="417.28" r="1.5" fill="#000"/>
<circle cx="102.45" cy="413.96" r="1.5" fill="#000"/>
<circle cx="103.15" cy="418.09" r="1.5" fill="#000"/>
<circle cx="103.85" cy="419.5" r="1.5" fill="#000"/>
<circle cx="104.55" cy="415.5" r="1.5" fill="#000"/>
<circle cx="105.26" cy="412.94" r="1.5" fill="#000"/>
<circle cx="105.96" cy="414.73" r="1.5" fill="#000"/>
<circle cx="108.77" cy="418.83" r="1.5" fill="#000"/>
<circle cx="109.47" cy="412.37" r="1.5" fill="#000"/>
<circle cx="110.18" cy="416.68" r="1.5" fill="#000"/>
<circle cx="111.58" cy="414.4" r="1.5" fill="#000"/>
<circle cx="112.28" cy="416.66" r="1.5" fill="#000"/>
<circle cx="113.69" cy="416.41" r="1.5" fill="#000"/>
<circle cx="115.09" cy="417.13" r="1.5" fill="#000"/>
<circle cx="115.8" cy="421.01" r="1.5" fill="#000"/>
<circle cx="116.5" cy="418.22" r="1.5" fill="#000"/>
<circle cx="117.2" cy="420.62" r="1.5" fill="#000"/>
<circle cx="117.91" cy="416.8" r="1.5" fill="#000"/>
<circle cx="118.61" cy="415.94" r="1.5" fill="#000"/>
<circle cx="120.01" cy="418.22" r="1.5" fill="#000"/>
<circle cx="121.42" cy="410.78" r="1.5" fill="#000"/>
<circle cx="122.12" cy="417.2" r="1.5" fill="#000"/>
<circle cx="123.53" cy="417.78" r="1.5" fill="#000"/>
<circle cx="124.93" cy="414.21" r="1.5" fill="#000"/>
<circle cx="125.63" cy="418.65" r="1.5" fill="#000"/>
<circle cx="128.45" cy="416.11" r="1.5" fill="#000"/>
<circle cx="129.85" cy="411.22" r="1.5" fill="#000"/>
<circle cx="131.26" cy="417.1" r="1.5" fill="#000"/>
<circle cx="131.96" cy="415.12" r="1.5" fill="#000"/>
<circle cx="132.66" cy="416.32" r="1.5" fill="#000"/>
<circle cx="134.07" cy="417.29" r="1.5" fill="#000"/>
<circle cx="135.47" cy="420.95" r="1.5" fill="#000"/>
<circle cx="136.18" cy="417.97" r="1.5" fill="#000"/>
<circle cx="136.88" cy="417.63" r="1.5" fill="#000"/>
<circle cx="137.58" cy="418.72" r="1.5" fill="#000"/>
<circle cx="138.99" cy="413.01" r="1.5" fill="#000"/>
<circle cx="139.69" cy="420.95" r="1.5" fill="#000"/>
<circle cx="140.39" cy="414.93" r="1.5" fill="#000"/>
<circle cx="141.09" cy="418.88" r="1.5" fill="#000"/>
<circle cx="141.8" cy="414.82" r="1.5" fill="#000"/>
<circle cx="142.5" cy="415.21" r="1.5" fill="#000"/>
<circle cx="145.31" cy="416.66" r="1.5" fill="#000"/>
<circle cx="146.01" cy="422.6" r="1.5" fill="#000"/>
<circle cx="146.72" cy="419.47" r="1.5" fill="#000"/>
<circle cx="147.42" cy="416.07" r="1.5" fill="#000"/>
<circle cx="148.82" cy="416.87" r="1.5" fill="#000"/>
<circle cx="149.53" cy="414.6" r="1.5" fill="#000"/>
<circle cx="150.23" cy="417.49" r="1.5" fill="#000"/>
<circle cx="150.93" cy="416.07" r="1.5" fill="#000"/>
<circle cx="153.04" cy="419.39" r="1.5" fill="#000"/>
<circle cx="153.74" cy="413.97" r="1.5" fill="#000"/>
<circle cx="157.96" cy="416.59" r="1.5" fill="#000"/>
<circle cx="158.66" cy="415.27" r="1.5" fill="#000"/>
<circle cx="159.36" cy="415.59" r="1.5" fill="#000"/>
<circle cx="39.26" cy="380.06" r="1.5" fill="#000"/>
<circle cx="106.36" cy="370.87" r="1.5" fill="#000"/>
<circle cx="156.63" cy="389.84" r="1.5" fill="#000"/>
<circle cx="154.68" cy="393.95" r="1.5" fill="#000"/>
<circle cx="157.41" cy="396.69" r="1.5" fill="#000"/>
<circle cx="133.35" cy="400.8" r="1.5" fill="#000"/>
<circle cx="75.06" cy="401.19" r="1.5" fill="#000"/>
<circle cx="41.8" cy="401.19" r="1.5" fill="#000"/>
<circle cx="46.69" cy="401.19" r="1.5" fill="#000"/>
<circle cx="43.76" cy="402.17" r="1.5" fill="#000"/>
<circle cx="51" cy="403.15" r="1.5" fill="#000"/>
<circle cx="40.43" cy="405.1" r="1.5" fill="#000"/>
<circle cx="78.97" cy="405.69" r="1.5" fill="#000"/>
<circle cx="94.03" cy="405.1" r="1.5" fill="#000"/>
<circle cx="94.82" cy="406.08" r="1.5" fill="#000"/>
<circle cx="101.08" cy="405.69" r="1.5" fill="#000"/>
<circle cx="89.34" cy="407.65" r="1.5" fill="#000"/>
<circle cx="112.81" cy="408.43" r="1.5" fill="#000"/>
<circle cx="120.64" cy="409.6" r="1.5" fill="#000"/>
<circle cx="107.73" cy="408.43" r="1.5" fill="#000"/>
<circle cx="57.45" cy="411.56" r="1.5" fill="#000"/>
<circle cx="63.32" cy="410.38" r="1.5" fill="#000"/>
<circle cx="84.25" cy="409.6" r="1.5" fill="#000"/>
<circle cx="85.43" cy="411.95" r="1.5" fill="#000"/>
<circle cx="138.24" cy="410.97" r="1.5" fill="#000"/>
<circle cx="126.9" cy="411.95" r="1.5" fill="#000"/>
<circle cx="130.81" cy="411.95" r="1.5" fill="#000"/>
<circle cx="159.76" cy="409.99" r="1.5" fill="#000"/>
<circle cx="152.33" cy="410.97" r="1.5" fill="#000"/>
<circle cx="54.52" cy="424.08" r="1.5" fill="#000"/>
<circle cx="62.73" cy="426.62" r="1.5" fill="#000"/>
<circle cx="77.6" cy="425.06" r="1.5" fill="#000"/>
<circle cx="81.91" cy="426.62" r="1.5" fill="#000"/>
<circle cx="91.69" cy="423.29" r="1.5" fill="#000"/>
<circle cx="95.21" cy="424.66" r="1.5" fill="#000"/>
<circle cx="97.55" cy="423.29" r="1.5" fill="#000"/>
<circle cx="47.67" cy="431.9" r="1.5" fill="#000"/>
<circle cx="46.69" cy="433.86" r="1.5" fill="#000"/>
<circle cx="45.72" cy="436.99" r="1.5" fill="#000"/>
<circle cx="55.5" cy="444.23" r="1.5" fill="#000"/>
<circle cx="59.41" cy="442.86" r="1.5" fill="#000"/>
<circle cx="70.56" cy="444.62" r="1.5" fill="#000"/>
<circle cx="110.66" cy="433.08" r="1.5" fill="#000"/>
<circle cx="122.59" cy="428.58" r="1.5" fill="#000"/>
<circle cx="126.51" cy="427.99" r="1.5" fill="#000"/>
<circle cx="127.88" cy="434.45" r="1.5" fill="#000"/>
<circle cx="123.96" cy="422.71" r="1.5" fill="#000"/>
<circle cx="128.85" cy="423.29" r="1.5" fill="#000"/>
<circle cx="143.13" cy="432.1" r="1.5" fill="#000"/>
<circle cx="144.11" cy="436.99" r="1.5" fill="#000"/>
<circle cx="144.89" cy="439.34" r="1.5" fill="#000"/>
<circle cx="151.35" cy="432.49" r="1.5" fill="#000"/>
<circle cx="154.68" cy="436.99" r="1.5" fill="#000"/>
<circle cx="148.42" cy="424.08" r="1.5" fill="#000"/>
<circle cx="134.72" cy="450.49" r="1.5" fill="#000"/>
<circle cx="119.66" cy="457.33" r="1.5" fill="#000"/>
<circle cx="83.47" cy="476.5" r="1.5" fill="#000"/>
<circle cx="155.26" cy="489.61" r="1.5" fill="#000"/>
<circle cx="85.82" cy="420.75" r="1.5" fill="#000"/>
<circle cx="107.34" cy="420.75" r="1.5" fill="#000"/>
<circle cx="114.18" cy="419.77" r="1.5" fill="#000"/>
<line x1="33.6" y1="417.1" x2="166.2" y2="417.1" stroke="#E4232A" stroke-width="2.2" stroke-dasharray="10.5 10.5"/>
<path d="M39.85 407.06 L40.49 407.45 L41.31 407.97 L42.29 408.59 L43.39 409.28 L44.6 410 L45.9 410.71 L47.26 411.37 L48.65 411.95 L50.09 412.48 L51.59 413.02 L53.17 413.55 L54.82 414.05 L56.56 414.51 L58.39 414.91 L60.32 415.24 L62.34 415.47 L64.51 415.59 L66.82 415.61 L69.25 415.55 L71.76 415.43 L74.31 415.28 L76.88 415.13 L79.42 414.98 L81.91 414.88 L84.35 414.8 L86.8 414.71 L89.24 414.61 L91.69 414.52 L94.13 414.43 L96.58 414.36 L99.02 414.31 L101.47 414.3 L103.91 414.32 L106.36 414.37 L108.8 414.46 L111.25 414.55 L113.69 414.65 L116.14 414.75 L118.58 414.83 L121.03 414.88 L123.54 414.91 L126.15 414.92 L128.79 414.93 L131.42 414.92 L133.97 414.91 L136.39 414.9 L138.61 414.89 L140.59 414.88 L142.28 414.89 L143.72 414.92 L144.98 414.94 L146.09 414.97 L147.13 414.98 L148.16 414.98 L149.22 414.95 L150.37 414.88 L151.66 414.77 L153.05 414.61 L154.47 414.41 L155.87 414.2 L157.2 413.99 L158.4 413.79 L159.4 413.63 L160.15 413.51 L160.15 424.27 L159.4 424.07 L158.4 423.78 L157.2 423.44 L155.87 423.06 L154.47 422.68 L153.05 422.32 L151.66 421.99 L150.37 421.73 L149.22 421.53 L148.16 421.38 L147.13 421.25 L146.09 421.14 L144.98 421.05 L143.72 420.96 L142.28 420.86 L140.59 420.75 L138.61 420.63 L136.39 420.52 L133.97 420.41 L131.42 420.3 L128.79 420.18 L126.15 420.06 L123.54 419.92 L121.03 419.77 L118.58 419.59 L116.14 419.37 L113.69 419.14 L111.25 418.89 L108.8 418.66 L106.36 418.46 L103.91 418.31 L101.47 418.21 L99.02 418.18 L96.58 418.2 L94.13 418.25 L91.69 418.34 L89.24 418.45 L86.8 418.57 L84.35 418.69 L81.91 418.8 L79.42 418.93 L76.88 419.1 L74.31 419.31 L71.76 419.5 L69.25 419.68 L66.82 419.8 L64.51 419.84 L62.34 419.77 L60.32 419.59 L58.39 419.32 L56.56 418.96 L54.82 418.55 L53.17 418.11 L51.59 417.66 L50.09 417.23 L48.65 416.84 L47.26 416.45 L45.9 416.04 L44.6 415.61 L43.39 415.19 L42.29 414.79 L41.31 414.43 L40.49 414.13 L39.85 413.91 Z" fill="#999" fill-opacity="0.3"/>
<path d="M39.85 410.58 L40.51 410.87 L41.36 411.26 L42.37 411.73 L43.51 412.24 L44.75 412.78 L46.04 413.32 L47.35 413.83 L48.65 414.3 L50 414.73 L51.47 415.18 L53.01 415.63 L54.58 416.07 L56.14 416.48 L57.66 416.85 L59.09 417.17 L60.39 417.43 L61.51 417.62 L62.48 417.75 L63.35 417.83 L64.18 417.88 L65.02 417.89 L65.93 417.88 L66.98 417.85 L68.21 417.82 L69.67 417.76 L71.31 417.66 L73.09 417.53 L74.94 417.39 L76.8 417.24 L78.62 417.09 L80.34 416.95 L81.91 416.84 L83.31 416.75 L84.63 416.66 L85.86 416.58 L87.04 416.51 L88.19 416.44 L89.33 416.38 L90.49 416.31 L91.69 416.25 L92.91 416.18 L94.13 416.11 L95.35 416.03 L96.58 415.96 L97.8 415.9 L99.02 415.86 L100.24 415.84 L101.47 415.86 L102.69 415.92 L103.91 416.02 L105.14 416.15 L106.36 416.29 L107.58 416.44 L108.8 416.59 L110.03 416.73 L111.25 416.84 L112.47 416.93 L113.69 417.01 L114.92 417.08 L116.14 417.15 L117.36 417.21 L118.58 417.27 L119.81 417.35 L121.03 417.43 L122.24 417.52 L123.43 417.62 L124.61 417.73 L125.8 417.84 L127 417.95 L128.23 418.05 L129.49 418.14 L130.81 418.21 L132.18 418.27 L133.58 418.32 L135.03 418.36 L136.5 418.39 L137.99 418.41 L139.5 418.42 L141.02 418.42 L142.55 418.4 L144.18 418.36 L145.96 418.3 L147.8 418.22 L149.64 418.12 L151.38 418.03 L152.96 417.94 L154.28 417.87 L155.26 417.82" fill="none" stroke="#1F4AA8" stroke-width="2.5" stroke-dasharray="11 10.5"/>
<rect x="33.6" y="365.2" width="132.6" height="130" fill="none" stroke="#333" stroke-width="1"/>
<rect x="33.6" y="354.4" width="132.6" height="10" fill="#D9D9D9" stroke="#333" stroke-width="1"/>
<text x="101.5" y="361.5" font-size="6.3" text-anchor="middle" fill="#1A1A1A" stroke="#1A1A1A" stroke-width="0.15">Age</text>
<line x1="38.5" y1="495.2" x2="38.5" y2="497.3" stroke="#333" stroke-width="0.9"/>
<text x="38.5" y="504.8" font-size="6.3" text-anchor="middle" fill="#333" stroke="#333" stroke-width="0.15">0</text>
<line x1="73.63" y1="495.2" x2="73.63" y2="497.3" stroke="#333" stroke-width="0.9"/>
<text x="73.63" y="504.8" font-size="6.3" text-anchor="middle" fill="#333" stroke="#333" stroke-width="0.15">50</text>
<line x1="108.77" y1="495.2" x2="108.77" y2="497.3" stroke="#333" stroke-width="0.9"/>
<text x="108.77" y="504.8" font-size="6.3" text-anchor="middle" fill="#333" stroke="#333" stroke-width="0.15">100</text>
<line x1="143.91" y1="495.2" x2="143.91" y2="497.3" stroke="#333" stroke-width="0.9"/>
<text x="143.91" y="504.8" font-size="6.3" text-anchor="middle" fill="#333" stroke="#333" stroke-width="0.15">150</text>
<line x1="31.5" y1="389.9" x2="33.6" y2="389.9" stroke="#333" stroke-width="0.9"/>
<text x="29.5" y="392.4" font-size="6.3" text-anchor="end" fill="#333" stroke="#333" stroke-width="0.15">0.005</text>
<line x1="31.5" y1="417.1" x2="33.6" y2="417.1" stroke="#333" stroke-width="0.9"/>
<text x="29.5" y="419.6" font-size="6.3" text-anchor="end" fill="#333" stroke="#333" stroke-width="0.15">0.000</text>
<line x1="31.5" y1="444.3" x2="33.6" y2="444.3" stroke="#333" stroke-width="0.9"/>
<text x="29.5" y="446.8" font-size="6.3" text-anchor="end" fill="#333" stroke="#333" stroke-width="0.15">−0.005</text>
<line x1="31.5" y1="471.5" x2="33.6" y2="471.5" stroke="#333" stroke-width="0.9"/>
<text x="29.5" y="474" font-size="6.3" text-anchor="end" fill="#333" stroke="#333" stroke-width="0.15">−0.010</text>
<text x="100.5" y="511.9" font-size="6.3" text-anchor="middle" stroke="#000" stroke-width="0.15">Observation Id</text>
<text x="8.1" y="436" font-size="6.3" text-anchor="middle" transform="rotate(-90 8.1 436)" stroke="#000" stroke-width="0.15">Residuals (type = dfbeta)</text>
<rect x="205.3" y="365.2" width="132.5" height="130" fill="#fff" stroke="none" stroke-width="1"/>
<line x1="210" y1="365.2" x2="210" y2="495.2" stroke="#EBEBEB" stroke-width="0.9"/>
<line x1="227.53" y1="365.2" x2="227.53" y2="495.2" stroke="#EBEBEB" stroke-width="0.6"/>
<line x1="245.06" y1="365.2" x2="245.06" y2="495.2" stroke="#EBEBEB" stroke-width="0.9"/>
<line x1="262.6" y1="365.2" x2="262.6" y2="495.2" stroke="#EBEBEB" stroke-width="0.6"/>
<line x1="280.13" y1="365.2" x2="280.13" y2="495.2" stroke="#EBEBEB" stroke-width="0.9"/>
<line x1="297.66" y1="365.2" x2="297.66" y2="495.2" stroke="#EBEBEB" stroke-width="0.6"/>
<line x1="315.19" y1="365.2" x2="315.19" y2="495.2" stroke="#EBEBEB" stroke-width="0.9"/>
<line x1="332.73" y1="365.2" x2="332.73" y2="495.2" stroke="#EBEBEB" stroke-width="0.6"/>
<line x1="205.3" y1="478.3" x2="337.8" y2="478.3" stroke="#EBEBEB" stroke-width="0.9"/>
<line x1="205.3" y1="460.4" x2="337.8" y2="460.4" stroke="#EBEBEB" stroke-width="0.6"/>
<line x1="205.3" y1="442.5" x2="337.8" y2="442.5" stroke="#EBEBEB" stroke-width="0.9"/>
<line x1="205.3" y1="424.6" x2="337.8" y2="424.6" stroke="#EBEBEB" stroke-width="0.6"/>
<line x1="205.3" y1="406.7" x2="337.8" y2="406.7" stroke="#EBEBEB" stroke-width="0.9"/>
<line x1="205.3" y1="388.8" x2="337.8" y2="388.8" stroke="#EBEBEB" stroke-width="0.6"/>
<line x1="205.3" y1="370.9" x2="337.8" y2="370.9" stroke="#EBEBEB" stroke-width="0.9"/>
<circle cx="211.4" cy="448.95" r="1.5" fill="#000"/>
<circle cx="214.91" cy="442.07" r="1.5" fill="#000"/>
<circle cx="215.61" cy="444.34" r="1.5" fill="#000"/>
<circle cx="219.12" cy="443.51" r="1.5" fill="#000"/>
<circle cx="221.22" cy="444.89" r="1.5" fill="#000"/>
<circle cx="222.62" cy="439.93" r="1.5" fill="#000"/>
<circle cx="223.32" cy="442.08" r="1.5" fill="#000"/>
<circle cx="224.03" cy="441.32" r="1.5" fill="#000"/>
<circle cx="224.73" cy="440.59" r="1.5" fill="#000"/>
<circle cx="227.53" cy="441.02" r="1.5" fill="#000"/>
<circle cx="228.94" cy="441.71" r="1.5" fill="#000"/>
<circle cx="229.64" cy="442.18" r="1.5" fill="#000"/>
<circle cx="231.04" cy="440.78" r="1.5" fill="#000"/>
<circle cx="233.14" cy="443.64" r="1.5" fill="#000"/>
<circle cx="233.84" cy="441.49" r="1.5" fill="#000"/>
<circle cx="235.95" cy="437.2" r="1.5" fill="#000"/>
<circle cx="236.65" cy="445.33" r="1.5" fill="#000"/>
<circle cx="237.35" cy="441.86" r="1.5" fill="#000"/>
<circle cx="238.05" cy="441.1" r="1.5" fill="#000"/>
<circle cx="238.75" cy="443.33" r="1.5" fill="#000"/>
<circle cx="239.45" cy="443.26" r="1.5" fill="#000"/>
<circle cx="240.16" cy="442.88" r="1.5" fill="#000"/>
<circle cx="240.86" cy="440.89" r="1.5" fill="#000"/>
<circle cx="241.56" cy="443.2" r="1.5" fill="#000"/>
<circle cx="242.96" cy="439.42" r="1.5" fill="#000"/>
<circle cx="243.66" cy="445.99" r="1.5" fill="#000"/>
<circle cx="245.06" cy="440.05" r="1.5" fill="#000"/>
<circle cx="245.77" cy="442.39" r="1.5" fill="#000"/>
<circle cx="247.17" cy="442.9" r="1.5" fill="#000"/>
<circle cx="247.87" cy="443.35" r="1.5" fill="#000"/>
<circle cx="248.57" cy="442.31" r="1.5" fill="#000"/>
<circle cx="249.97" cy="443.87" r="1.5" fill="#000"/>
<circle cx="251.38" cy="437.26" r="1.5" fill="#000"/>
<circle cx="252.78" cy="442.2" r="1.5" fill="#000"/>
<circle cx="254.18" cy="442.03" r="1.5" fill="#000"/>
<circle cx="256.29" cy="441.36" r="1.5" fill="#000"/>
<circle cx="256.99" cy="445.66" r="1.5" fill="#000"/>
<circle cx="257.69" cy="440.12" r="1.5" fill="#000"/>
<circle cx="258.39" cy="442.06" r="1.5" fill="#000"/>
<circle cx="259.79" cy="437.71" r="1.5" fill="#000"/>
<circle cx="260.49" cy="442.75" r="1.5" fill="#000"/>
<circle cx="261.9" cy="438.47" r="1.5" fill="#000"/>
<circle cx="263.3" cy="438.49" r="1.5" fill="#000"/>
<circle cx="264" cy="447.12" r="1.5" fill="#000"/>
<circle cx="266.1" cy="443.33" r="1.5" fill="#000"/>
<circle cx="266.81" cy="441.7" r="1.5" fill="#000"/>
<circle cx="268.21" cy="442.01" r="1.5" fill="#000"/>
<circle cx="269.61" cy="438.34" r="1.5" fill="#000"/>
<circle cx="270.31" cy="439.15" r="1.5" fill="#000"/>
<circle cx="271.01" cy="442.38" r="1.5" fill="#000"/>
<circle cx="271.71" cy="436.69" r="1.5" fill="#000"/>
<circle cx="273.12" cy="441.91" r="1.5" fill="#000"/>
<circle cx="273.82" cy="437.39" r="1.5" fill="#000"/>
<circle cx="274.52" cy="441.48" r="1.5" fill="#000"/>
<circle cx="275.22" cy="438.69" r="1.5" fill="#000"/>
<circle cx="276.62" cy="444.98" r="1.5" fill="#000"/>
<circle cx="277.32" cy="443.29" r="1.5" fill="#000"/>
<circle cx="278.73" cy="439.78" r="1.5" fill="#000"/>
<circle cx="280.83" cy="436.57" r="1.5" fill="#000"/>
<circle cx="282.23" cy="438.94" r="1.5" fill="#000"/>
<circle cx="282.94" cy="440.52" r="1.5" fill="#000"/>
<circle cx="283.64" cy="438.43" r="1.5" fill="#000"/>
<circle cx="284.34" cy="441.32" r="1.5" fill="#000"/>
<circle cx="285.04" cy="442.93" r="1.5" fill="#000"/>
<circle cx="287.14" cy="440.7" r="1.5" fill="#000"/>
<circle cx="287.84" cy="439.89" r="1.5" fill="#000"/>
<circle cx="288.55" cy="442.64" r="1.5" fill="#000"/>
<circle cx="289.95" cy="440.3" r="1.5" fill="#000"/>
<circle cx="290.65" cy="442.9" r="1.5" fill="#000"/>
<circle cx="292.75" cy="440.39" r="1.5" fill="#000"/>
<circle cx="293.45" cy="444.77" r="1.5" fill="#000"/>
<circle cx="295.56" cy="440.75" r="1.5" fill="#000"/>
<circle cx="296.26" cy="439.07" r="1.5" fill="#000"/>
<circle cx="296.96" cy="441.73" r="1.5" fill="#000"/>
<circle cx="299.07" cy="440.31" r="1.5" fill="#000"/>
<circle cx="300.47" cy="439.77" r="1.5" fill="#000"/>
<circle cx="301.87" cy="441.72" r="1.5" fill="#000"/>
<circle cx="303.27" cy="443.8" r="1.5" fill="#000"/>
<circle cx="303.97" cy="437.34" r="1.5" fill="#000"/>
<circle cx="304.68" cy="442.11" r="1.5" fill="#000"/>
<circle cx="306.78" cy="441.99" r="1.5" fill="#000"/>
<circle cx="307.48" cy="442.05" r="1.5" fill="#000"/>
<circle cx="308.18" cy="444.21" r="1.5" fill="#000"/>
<circle cx="309.58" cy="439.58" r="1.5" fill="#000"/>
<circle cx="310.29" cy="444.02" r="1.5" fill="#000"/>
<circle cx="310.99" cy="442.08" r="1.5" fill="#000"/>
<circle cx="311.69" cy="442.88" r="1.5" fill="#000"/>
<circle cx="312.39" cy="442.18" r="1.5" fill="#000"/>
<circle cx="313.09" cy="441.98" r="1.5" fill="#000"/>
<circle cx="313.79" cy="441.59" r="1.5" fill="#000"/>
<circle cx="315.19" cy="443.81" r="1.5" fill="#000"/>
<circle cx="316.6" cy="447.76" r="1.5" fill="#000"/>
<circle cx="317.3" cy="445.51" r="1.5" fill="#000"/>
<circle cx="318" cy="445.15" r="1.5" fill="#000"/>
<circle cx="319.4" cy="444.67" r="1.5" fill="#000"/>
<circle cx="320.1" cy="442.44" r="1.5" fill="#000"/>
<circle cx="321.51" cy="445.04" r="1.5" fill="#000"/>
<circle cx="322.21" cy="448.41" r="1.5" fill="#000"/>
<circle cx="324.31" cy="441.18" r="1.5" fill="#000"/>
<circle cx="325.71" cy="446.07" r="1.5" fill="#000"/>
<circle cx="326.42" cy="446.58" r="1.5" fill="#000"/>
<circle cx="328.52" cy="445.05" r="1.5" fill="#000"/>
<circle cx="329.92" cy="446.18" r="1.5" fill="#000"/>
<circle cx="330.62" cy="447.53" r="1.5" fill="#000"/>
<circle cx="331.32" cy="449.38" r="1.5" fill="#000"/>
<circle cx="269.16" cy="370.87" r="1.5" fill="#000"/>
<circle cx="291.07" cy="390.04" r="1.5" fill="#000"/>
<circle cx="275.81" cy="397.67" r="1.5" fill="#000"/>
<circle cx="226.91" cy="411.95" r="1.5" fill="#000"/>
<circle cx="242.17" cy="410.38" r="1.5" fill="#000"/>
<circle cx="298.51" cy="420.75" r="1.5" fill="#000"/>
<circle cx="299.88" cy="420.16" r="1.5" fill="#000"/>
<circle cx="216.74" cy="429.95" r="1.5" fill="#000"/>
<circle cx="226.13" cy="429.55" r="1.5" fill="#000"/>
<circle cx="294.99" cy="429.16" r="1.5" fill="#000"/>
<circle cx="314.55" cy="430.53" r="1.5" fill="#000"/>
<circle cx="327.26" cy="431.51" r="1.5" fill="#000"/>
<circle cx="244.52" cy="431.9" r="1.5" fill="#000"/>
<circle cx="285.79" cy="430.53" r="1.5" fill="#000"/>
<circle cx="286.77" cy="432.49" r="1.5" fill="#000"/>
<circle cx="211.85" cy="435.03" r="1.5" fill="#000"/>
<circle cx="213.8" cy="434.45" r="1.5" fill="#000"/>
<circle cx="219.67" cy="435.03" r="1.5" fill="#000"/>
<circle cx="221.63" cy="435.81" r="1.5" fill="#000"/>
<circle cx="228.47" cy="435.03" r="1.5" fill="#000"/>
<circle cx="232.39" cy="435.81" r="1.5" fill="#000"/>
<circle cx="249.6" cy="434.45" r="1.5" fill="#000"/>
<circle cx="250.38" cy="435.81" r="1.5" fill="#000"/>
<circle cx="254.88" cy="436.99" r="1.5" fill="#000"/>
<circle cx="279.34" cy="434.45" r="1.5" fill="#000"/>
<circle cx="281.68" cy="435.03" r="1.5" fill="#000"/>
<circle cx="301.25" cy="433.47" r="1.5" fill="#000"/>
<circle cx="309.07" cy="435.03" r="1.5" fill="#000"/>
<circle cx="251.95" cy="438.36" r="1.5" fill="#000"/>
<circle cx="217.72" cy="440.31" r="1.5" fill="#000"/>
<circle cx="225.54" cy="438.94" r="1.5" fill="#000"/>
<circle cx="210.87" cy="449.12" r="1.5" fill="#000"/>
<circle cx="212.82" cy="449.12" r="1.5" fill="#000"/>
<circle cx="217.13" cy="452.64" r="1.5" fill="#000"/>
<circle cx="213.8" cy="460.85" r="1.5" fill="#000"/>
<circle cx="217.72" cy="468.68" r="1.5" fill="#000"/>
<circle cx="220.65" cy="489.81" r="1.5" fill="#000"/>
<circle cx="231.41" cy="461.25" r="1.5" fill="#000"/>
<circle cx="235.32" cy="465.16" r="1.5" fill="#000"/>
<circle cx="246.47" cy="453.42" r="1.5" fill="#000"/>
<circle cx="253.51" cy="462.81" r="1.5" fill="#000"/>
<circle cx="261.34" cy="468.29" r="1.5" fill="#000"/>
<circle cx="262.71" cy="459.88" r="1.5" fill="#000"/>
<circle cx="265.64" cy="477.48" r="1.5" fill="#000"/>
<circle cx="264.66" cy="449.12" r="1.5" fill="#000"/>
<circle cx="267.21" cy="453.42" r="1.5" fill="#000"/>
<circle cx="272.49" cy="458.51" r="1.5" fill="#000"/>
<circle cx="277.77" cy="447.16" r="1.5" fill="#000"/>
<circle cx="280.31" cy="447.16" r="1.5" fill="#000"/>
<circle cx="289.51" cy="473.18" r="1.5" fill="#000"/>
<circle cx="292.05" cy="456.94" r="1.5" fill="#000"/>
<circle cx="294.59" cy="448.14" r="1.5" fill="#000"/>
<circle cx="297.33" cy="454.01" r="1.5" fill="#000"/>
<circle cx="302.42" cy="470.64" r="1.5" fill="#000"/>
<circle cx="305.16" cy="458.9" r="1.5" fill="#000"/>
<circle cx="306.33" cy="462.42" r="1.5" fill="#000"/>
<circle cx="316.11" cy="463.79" r="1.5" fill="#000"/>
<circle cx="318.85" cy="448.14" r="1.5" fill="#000"/>
<circle cx="320.81" cy="477.09" r="1.5" fill="#000"/>
<circle cx="322.76" cy="465.16" r="1.5" fill="#000"/>
<circle cx="323.94" cy="454.01" r="1.5" fill="#000"/>
<circle cx="324.72" cy="443.25" r="1.5" fill="#000"/>
<circle cx="327.26" cy="450.09" r="1.5" fill="#000"/>
<circle cx="329.41" cy="451.07" r="1.5" fill="#000"/>
<circle cx="234.73" cy="446.77" r="1.5" fill="#000"/>
<circle cx="230.43" cy="445.6" r="1.5" fill="#000"/>
<circle cx="258.8" cy="447.55" r="1.5" fill="#000"/>
<circle cx="254.88" cy="446.77" r="1.5" fill="#000"/>
<line x1="205.3" y1="442.5" x2="337.8" y2="442.5" stroke="#E4232A" stroke-width="2.2" stroke-dasharray="10.5 10.5"/>
<path d="M210.87 442.86 L211.88 442.76 L213.19 442.63 L214.74 442.47 L216.49 442.29 L218.4 442.12 L220.41 441.95 L222.48 441.8 L224.56 441.68 L226.73 441.6 L229.04 441.54 L231.47 441.5 L233.98 441.48 L236.53 441.45 L239.1 441.41 L241.64 441.36 L244.12 441.29 L246.6 441.21 L249.11 441.14 L251.63 441.07 L254.15 440.99 L256.64 440.88 L259.07 440.74 L261.43 440.55 L263.69 440.31 L265.84 439.98 L267.92 439.55 L269.93 439.06 L271.88 438.54 L273.78 438.04 L275.65 437.59 L277.5 437.22 L279.34 436.99 L281.1 436.87 L282.76 436.84 L284.36 436.88 L285.94 436.98 L287.55 437.12 L289.24 437.31 L291.05 437.53 L293.03 437.77 L295.21 438.06 L297.55 438.43 L300.02 438.85 L302.57 439.3 L305.14 439.75 L307.7 440.19 L310.2 440.58 L312.59 440.9 L315.01 441.17 L317.54 441.4 L320.11 441.6 L322.62 441.78 L324.97 441.93 L327.08 442.07 L328.85 442.18 L330.2 442.27 L332.15 454.01 L330.64 453.42 L328.64 452.61 L326.25 451.64 L323.59 450.58 L320.79 449.5 L317.94 448.46 L315.17 447.53 L312.59 446.77 L310.11 446.17 L307.56 445.64 L305 445.19 L302.44 444.8 L299.94 444.46 L297.51 444.16 L295.19 443.89 L293.03 443.64 L291.05 443.41 L289.24 443.21 L287.55 443.04 L285.94 442.91 L284.36 442.82 L282.76 442.78 L281.1 442.79 L279.34 442.86 L277.5 443.02 L275.65 443.28 L273.78 443.61 L271.88 443.98 L269.93 444.36 L267.92 444.71 L265.84 445 L263.69 445.2 L261.43 445.31 L259.07 445.36 L256.64 445.36 L254.15 445.33 L251.63 445.28 L249.11 445.23 L246.6 445.2 L244.12 445.2 L241.64 445.22 L239.1 445.22 L236.53 445.23 L233.98 445.24 L231.47 445.27 L229.04 445.34 L226.73 445.44 L224.56 445.6 L222.48 445.83 L220.41 446.14 L218.4 446.5 L216.49 446.89 L214.74 447.28 L213.19 447.63 L211.88 447.93 L210.87 448.14 Z" fill="#999" fill-opacity="0.3"/>
<path d="M210.87 445.2 L211.6 445.08 L212.53 444.9 L213.65 444.7 L214.9 444.47 L216.27 444.24 L217.7 444.01 L219.17 443.81 L220.65 443.64 L222.17 443.5 L223.8 443.36 L225.5 443.24 L227.25 443.13 L229.04 443.03 L230.83 442.95 L232.6 442.89 L234.34 442.86 L236.07 442.86 L237.81 442.9 L239.56 442.97 L241.31 443.05 L243.04 443.14 L244.75 443.21 L246.42 443.25 L248.04 443.25 L249.6 443.21 L251.11 443.15 L252.58 443.08 L254.03 442.98 L255.46 442.87 L256.89 442.74 L258.32 442.61 L259.77 442.47 L261.24 442.31 L262.71 442.13 L264.18 441.94 L265.64 441.73 L267.11 441.52 L268.58 441.31 L270.04 441.1 L271.51 440.9 L272.99 440.69 L274.49 440.45 L276 440.2 L277.5 439.96 L278.99 439.74 L280.45 439.55 L281.87 439.41 L283.25 439.34 L284.56 439.33 L285.83 439.38 L287.06 439.47 L288.26 439.6 L289.45 439.76 L290.63 439.94 L291.82 440.13 L293.03 440.31 L294.24 440.52 L295.43 440.75 L296.61 441 L297.8 441.27 L299 441.54 L300.23 441.8 L301.49 442.05 L302.81 442.27 L304.18 442.46 L305.58 442.61 L307.03 442.75 L308.5 442.88 L309.99 443.02 L311.5 443.19 L313.02 443.39 L314.55 443.64 L316.18 443.97 L317.96 444.37 L319.8 444.82 L321.64 445.29 L323.38 445.75 L324.96 446.17 L326.28 446.52 L327.26 446.77" fill="none" stroke="#1F4AA8" stroke-width="2.5" stroke-dasharray="11 10.5"/>
<rect x="205.3" y="365.2" width="132.5" height="130" fill="none" stroke="#333" stroke-width="1"/>
<rect x="205.3" y="354.4" width="132.5" height="10" fill="#D9D9D9" stroke="#333" stroke-width="1"/>
<text x="272" y="361.5" font-size="6.3" text-anchor="middle" fill="#1A1A1A" stroke="#1A1A1A" stroke-width="0.15">BMI</text>
<line x1="210" y1="495.2" x2="210" y2="497.3" stroke="#333" stroke-width="0.9"/>
<text x="210" y="504.8" font-size="6.3" text-anchor="middle" fill="#333" stroke="#333" stroke-width="0.15">0</text>
<line x1="245.06" y1="495.2" x2="245.06" y2="497.3" stroke="#333" stroke-width="0.9"/>
<text x="245.06" y="504.8" font-size="6.3" text-anchor="middle" fill="#333" stroke="#333" stroke-width="0.15">50</text>
<line x1="280.13" y1="495.2" x2="280.13" y2="497.3" stroke="#333" stroke-width="0.9"/>
<text x="280.13" y="504.8" font-size="6.3" text-anchor="middle" fill="#333" stroke="#333" stroke-width="0.15">100</text>
<line x1="315.19" y1="495.2" x2="315.19" y2="497.3" stroke="#333" stroke-width="0.9"/>
<text x="315.19" y="504.8" font-size="6.3" text-anchor="middle" fill="#333" stroke="#333" stroke-width="0.15">150</text>
<line x1="203.2" y1="370.9" x2="205.3" y2="370.9" stroke="#333" stroke-width="0.9"/>
<text x="201.2" y="373.4" font-size="6.3" text-anchor="end" fill="#333" stroke="#333" stroke-width="0.15">0.02</text>
<line x1="203.2" y1="406.7" x2="205.3" y2="406.7" stroke="#333" stroke-width="0.9"/>
<text x="201.2" y="409.2" font-size="6.3" text-anchor="end" fill="#333" stroke="#333" stroke-width="0.15">0.01</text>
<line x1="203.2" y1="442.5" x2="205.3" y2="442.5" stroke="#333" stroke-width="0.9"/>
<text x="201.2" y="445" font-size="6.3" text-anchor="end" fill="#333" stroke="#333" stroke-width="0.15">0.00</text>
<line x1="203.2" y1="478.3" x2="205.3" y2="478.3" stroke="#333" stroke-width="0.9"/>
<text x="201.2" y="480.8" font-size="6.3" text-anchor="end" fill="#333" stroke="#333" stroke-width="0.15">−0.01</text>
<text x="271.3" y="511.9" font-size="6.3" text-anchor="middle" stroke="#000" stroke-width="0.15">Observation Id</text>
<text x="181.3" y="435.7" font-size="6.3" text-anchor="middle" transform="rotate(-90 181.3 435.7)" stroke="#000" stroke-width="0.15">Residuals (type = dfbeta)</text>
<rect x="377.6" y="365.2" width="131" height="130" fill="#fff" stroke="none" stroke-width="1"/>
<line x1="382.4" y1="365.2" x2="382.4" y2="495.2" stroke="#EBEBEB" stroke-width="0.9"/>
<line x1="399.97" y1="365.2" x2="399.97" y2="495.2" stroke="#EBEBEB" stroke-width="0.6"/>
<line x1="417.53" y1="365.2" x2="417.53" y2="495.2" stroke="#EBEBEB" stroke-width="0.9"/>
<line x1="435.1" y1="365.2" x2="435.1" y2="495.2" stroke="#EBEBEB" stroke-width="0.6"/>
<line x1="452.67" y1="365.2" x2="452.67" y2="495.2" stroke="#EBEBEB" stroke-width="0.9"/>
<line x1="470.24" y1="365.2" x2="470.24" y2="495.2" stroke="#EBEBEB" stroke-width="0.6"/>
<line x1="487.8" y1="365.2" x2="487.8" y2="495.2" stroke="#EBEBEB" stroke-width="0.9"/>
<line x1="505.37" y1="365.2" x2="505.37" y2="495.2" stroke="#EBEBEB" stroke-width="0.6"/>
<line x1="377.6" y1="491.4" x2="508.6" y2="491.4" stroke="#EBEBEB" stroke-width="0.9"/>
<line x1="377.6" y1="475.7" x2="508.6" y2="475.7" stroke="#EBEBEB" stroke-width="0.6"/>
<line x1="377.6" y1="460" x2="508.6" y2="460" stroke="#EBEBEB" stroke-width="0.9"/>
<line x1="377.6" y1="444.3" x2="508.6" y2="444.3" stroke="#EBEBEB" stroke-width="0.6"/>
<line x1="377.6" y1="428.6" x2="508.6" y2="428.6" stroke="#EBEBEB" stroke-width="0.9"/>
<line x1="377.6" y1="412.9" x2="508.6" y2="412.9" stroke="#EBEBEB" stroke-width="0.6"/>
<line x1="377.6" y1="397.2" x2="508.6" y2="397.2" stroke="#EBEBEB" stroke-width="0.9"/>
<line x1="377.6" y1="381.5" x2="508.6" y2="381.5" stroke="#EBEBEB" stroke-width="0.6"/>
<line x1="377.6" y1="365.8" x2="508.6" y2="365.8" stroke="#EBEBEB" stroke-width="0.9"/>
<circle cx="383.1" cy="427.56" r="1.5" fill="#000"/>
<circle cx="383.81" cy="430.57" r="1.5" fill="#000"/>
<circle cx="385.21" cy="424.9" r="1.5" fill="#000"/>
<circle cx="385.91" cy="429.9" r="1.5" fill="#000"/>
<circle cx="386.62" cy="426.64" r="1.5" fill="#000"/>
<circle cx="388.02" cy="426.64" r="1.5" fill="#000"/>
<circle cx="388.72" cy="432.26" r="1.5" fill="#000"/>
<circle cx="390.83" cy="427.73" r="1.5" fill="#000"/>
<circle cx="392.24" cy="427.19" r="1.5" fill="#000"/>
<circle cx="395.05" cy="429.12" r="1.5" fill="#000"/>
<circle cx="396.45" cy="430.11" r="1.5" fill="#000"/>
<circle cx="397.86" cy="427.06" r="1.5" fill="#000"/>
<circle cx="399.26" cy="428.63" r="1.5" fill="#000"/>
<circle cx="399.97" cy="424.55" r="1.5" fill="#000"/>
<circle cx="401.37" cy="426.09" r="1.5" fill="#000"/>
<circle cx="403.48" cy="425.84" r="1.5" fill="#000"/>
<circle cx="404.89" cy="423.47" r="1.5" fill="#000"/>
<circle cx="405.59" cy="423.01" r="1.5" fill="#000"/>
<circle cx="407.7" cy="422.74" r="1.5" fill="#000"/>
<circle cx="409.1" cy="426.38" r="1.5" fill="#000"/>
<circle cx="409.81" cy="426.57" r="1.5" fill="#000"/>
<circle cx="410.51" cy="426.2" r="1.5" fill="#000"/>
<circle cx="411.91" cy="427.24" r="1.5" fill="#000"/>
<circle cx="412.62" cy="423.6" r="1.5" fill="#000"/>
<circle cx="414.72" cy="426.91" r="1.5" fill="#000"/>
<circle cx="415.43" cy="427.75" r="1.5" fill="#000"/>
<circle cx="416.13" cy="429.09" r="1.5" fill="#000"/>
<circle cx="416.83" cy="424.96" r="1.5" fill="#000"/>
<circle cx="417.53" cy="426.13" r="1.5" fill="#000"/>
<circle cx="418.94" cy="421.96" r="1.5" fill="#000"/>
<circle cx="419.64" cy="425.9" r="1.5" fill="#000"/>
<circle cx="422.45" cy="421.56" r="1.5" fill="#000"/>
<circle cx="423.86" cy="423.61" r="1.5" fill="#000"/>
<circle cx="424.56" cy="430.17" r="1.5" fill="#000"/>
<circle cx="425.97" cy="421.66" r="1.5" fill="#000"/>
<circle cx="428.78" cy="429.63" r="1.5" fill="#000"/>
<circle cx="429.48" cy="428.44" r="1.5" fill="#000"/>
<circle cx="430.89" cy="426.86" r="1.5" fill="#000"/>
<circle cx="431.59" cy="428.91" r="1.5" fill="#000"/>
<circle cx="432.29" cy="429.13" r="1.5" fill="#000"/>
<circle cx="433.7" cy="430.56" r="1.5" fill="#000"/>
<circle cx="435.1" cy="427.35" r="1.5" fill="#000"/>
<circle cx="437.21" cy="426.62" r="1.5" fill="#000"/>
<circle cx="437.91" cy="426.65" r="1.5" fill="#000"/>
<circle cx="439.32" cy="425.8" r="1.5" fill="#000"/>
<circle cx="440.02" cy="428.32" r="1.5" fill="#000"/>
<circle cx="441.43" cy="426.53" r="1.5" fill="#000"/>
<circle cx="442.13" cy="431.43" r="1.5" fill="#000"/>
<circle cx="442.83" cy="423.86" r="1.5" fill="#000"/>
<circle cx="443.53" cy="425.94" r="1.5" fill="#000"/>
<circle cx="444.94" cy="426.47" r="1.5" fill="#000"/>
<circle cx="445.64" cy="423.6" r="1.5" fill="#000"/>
<circle cx="446.35" cy="434.09" r="1.5" fill="#000"/>
<circle cx="447.05" cy="422.98" r="1.5" fill="#000"/>
<circle cx="448.45" cy="428.7" r="1.5" fill="#000"/>
<circle cx="449.86" cy="428.27" r="1.5" fill="#000"/>
<circle cx="453.37" cy="434.43" r="1.5" fill="#000"/>
<circle cx="455.48" cy="425.13" r="1.5" fill="#000"/>
<circle cx="456.18" cy="433.1" r="1.5" fill="#000"/>
<circle cx="458.99" cy="428.49" r="1.5" fill="#000"/>
<circle cx="459.7" cy="430.01" r="1.5" fill="#000"/>
<circle cx="460.4" cy="428.69" r="1.5" fill="#000"/>
<circle cx="462.51" cy="432.16" r="1.5" fill="#000"/>
<circle cx="467.43" cy="427.65" r="1.5" fill="#000"/>
<circle cx="468.83" cy="430.44" r="1.5" fill="#000"/>
<circle cx="469.53" cy="431.57" r="1.5" fill="#000"/>
<circle cx="472.35" cy="435.5" r="1.5" fill="#000"/>
<circle cx="473.75" cy="424.49" r="1.5" fill="#000"/>
<circle cx="475.16" cy="434.68" r="1.5" fill="#000"/>
<circle cx="478.67" cy="433.12" r="1.5" fill="#000"/>
<circle cx="479.37" cy="429.39" r="1.5" fill="#000"/>
<circle cx="480.08" cy="431.43" r="1.5" fill="#000"/>
<circle cx="480.78" cy="429.41" r="1.5" fill="#000"/>
<circle cx="481.48" cy="434.89" r="1.5" fill="#000"/>
<circle cx="483.59" cy="431.12" r="1.5" fill="#000"/>
<circle cx="484.29" cy="430.01" r="1.5" fill="#000"/>
<circle cx="486.4" cy="429.98" r="1.5" fill="#000"/>
<circle cx="487.8" cy="430.11" r="1.5" fill="#000"/>
<circle cx="489.91" cy="430.25" r="1.5" fill="#000"/>
<circle cx="492.02" cy="428.51" r="1.5" fill="#000"/>
<circle cx="493.43" cy="436.2" r="1.5" fill="#000"/>
<circle cx="495.53" cy="425.96" r="1.5" fill="#000"/>
<circle cx="496.24" cy="424.46" r="1.5" fill="#000"/>
<circle cx="496.94" cy="430.66" r="1.5" fill="#000"/>
<circle cx="497.64" cy="430.63" r="1.5" fill="#000"/>
<circle cx="499.05" cy="432" r="1.5" fill="#000"/>
<circle cx="499.75" cy="430.5" r="1.5" fill="#000"/>
<circle cx="501.86" cy="430.65" r="1.5" fill="#000"/>
<circle cx="502.56" cy="431.9" r="1.5" fill="#000"/>
<circle cx="503.26" cy="433.55" r="1.5" fill="#000"/>
<circle cx="503.97" cy="429.87" r="1.5" fill="#000"/>
<circle cx="478.11" cy="370.87" r="1.5" fill="#000"/>
<circle cx="425.3" cy="377.13" r="1.5" fill="#000"/>
<circle cx="426.86" cy="380.65" r="1.5" fill="#000"/>
<circle cx="392.63" cy="383.98" r="1.5" fill="#000"/>
<circle cx="389.3" cy="387.89" r="1.5" fill="#000"/>
<circle cx="406.91" cy="385.93" r="1.5" fill="#000"/>
<circle cx="403" cy="394.34" r="1.5" fill="#000"/>
<circle cx="494.35" cy="392.39" r="1.5" fill="#000"/>
<circle cx="453.86" cy="394.34" r="1.5" fill="#000"/>
<circle cx="391.26" cy="399.62" r="1.5" fill="#000"/>
<circle cx="398.5" cy="401.58" r="1.5" fill="#000"/>
<circle cx="420.99" cy="398.65" r="1.5" fill="#000"/>
<circle cx="430.38" cy="398.26" r="1.5" fill="#000"/>
<circle cx="433.12" cy="400.6" r="1.5" fill="#000"/>
<circle cx="436.25" cy="398.65" r="1.5" fill="#000"/>
<circle cx="435.66" cy="405.49" r="1.5" fill="#000"/>
<circle cx="444.08" cy="407.06" r="1.5" fill="#000"/>
<circle cx="463.64" cy="407.45" r="1.5" fill="#000"/>
<circle cx="472.83" cy="405.49" r="1.5" fill="#000"/>
<circle cx="485.94" cy="399.23" r="1.5" fill="#000"/>
<circle cx="387.35" cy="413.51" r="1.5" fill="#000"/>
<circle cx="406.32" cy="414.49" r="1.5" fill="#000"/>
<circle cx="465.99" cy="412.34" r="1.5" fill="#000"/>
<circle cx="450.34" cy="416.25" r="1.5" fill="#000"/>
<circle cx="452.68" cy="415.47" r="1.5" fill="#000"/>
<circle cx="456.6" cy="417.43" r="1.5" fill="#000"/>
<circle cx="458.16" cy="419.38" r="1.5" fill="#000"/>
<circle cx="476.16" cy="417.82" r="1.5" fill="#000"/>
<circle cx="491.42" cy="414.88" r="1.5" fill="#000"/>
<circle cx="489.46" cy="419.38" r="1.5" fill="#000"/>
<circle cx="487.11" cy="421.14" r="1.5" fill="#000"/>
<circle cx="482.61" cy="421.73" r="1.5" fill="#000"/>
<circle cx="434.29" cy="418.8" r="1.5" fill="#000"/>
<circle cx="462.07" cy="422.12" r="1.5" fill="#000"/>
<circle cx="470.88" cy="423.69" r="1.5" fill="#000"/>
<circle cx="452.29" cy="423.69" r="1.5" fill="#000"/>
<circle cx="413.56" cy="420.16" r="1.5" fill="#000"/>
<circle cx="408.28" cy="422.71" r="1.5" fill="#000"/>
<circle cx="491.02" cy="423.29" r="1.5" fill="#000"/>
<circle cx="384.22" cy="448.14" r="1.5" fill="#000"/>
<circle cx="390.08" cy="443.25" r="1.5" fill="#000"/>
<circle cx="393.21" cy="440.31" r="1.5" fill="#000"/>
<circle cx="394.58" cy="437.77" r="1.5" fill="#000"/>
<circle cx="395.56" cy="435.42" r="1.5" fill="#000"/>
<circle cx="397.13" cy="433.86" r="1.5" fill="#000"/>
<circle cx="400.45" cy="446.18" r="1.5" fill="#000"/>
<circle cx="402.41" cy="432.49" r="1.5" fill="#000"/>
<circle cx="404.36" cy="433.47" r="1.5" fill="#000"/>
<circle cx="411.21" cy="433.86" r="1.5" fill="#000"/>
<circle cx="414.15" cy="464.77" r="1.5" fill="#000"/>
<circle cx="418.06" cy="445.2" r="1.5" fill="#000"/>
<circle cx="420.01" cy="437.38" r="1.5" fill="#000"/>
<circle cx="420.99" cy="435.81" r="1.5" fill="#000"/>
<circle cx="427.25" cy="480.42" r="1.5" fill="#000"/>
<circle cx="427.84" cy="433.86" r="1.5" fill="#000"/>
<circle cx="438.6" cy="439.73" r="1.5" fill="#000"/>
<circle cx="440.55" cy="477.48" r="1.5" fill="#000"/>
<circle cx="447.99" cy="461.44" r="1.5" fill="#000"/>
<circle cx="449.36" cy="457.33" r="1.5" fill="#000"/>
<circle cx="451.31" cy="442.27" r="1.5" fill="#000"/>
<circle cx="454.64" cy="448.14" r="1.5" fill="#000"/>
<circle cx="458.16" cy="440.9" r="1.5" fill="#000"/>
<circle cx="461.09" cy="476.5" r="1.5" fill="#000"/>
<circle cx="463.05" cy="472.98" r="1.5" fill="#000"/>
<circle cx="464.42" cy="452.64" r="1.5" fill="#000"/>
<circle cx="466.38" cy="460.85" r="1.5" fill="#000"/>
<circle cx="467.94" cy="438.36" r="1.5" fill="#000"/>
<circle cx="469.9" cy="489.81" r="1.5" fill="#000"/>
<circle cx="471.46" cy="464.38" r="1.5" fill="#000"/>
<circle cx="474.2" cy="445.2" r="1.5" fill="#000"/>
<circle cx="476.74" cy="441.68" r="1.5" fill="#000"/>
<circle cx="477.72" cy="439.34" r="1.5" fill="#000"/>
<circle cx="482.03" cy="442.27" r="1.5" fill="#000"/>
<circle cx="488.48" cy="460.46" r="1.5" fill="#000"/>
<circle cx="492.59" cy="455.38" r="1.5" fill="#000"/>
<circle cx="494.94" cy="463.2" r="1.5" fill="#000"/>
<circle cx="498.26" cy="462.81" r="1.5" fill="#000"/>
<circle cx="500.22" cy="465.16" r="1.5" fill="#000"/>
<circle cx="501.2" cy="452.05" r="1.5" fill="#000"/>
<circle cx="485.55" cy="437.38" r="1.5" fill="#000"/>
<circle cx="465.01" cy="436.4" r="1.5" fill="#000"/>
<circle cx="422.95" cy="432.49" r="1.5" fill="#000"/>
<line x1="377.6" y1="428.6" x2="508.6" y2="428.6" stroke="#E4232A" stroke-width="2.2" stroke-dasharray="10.5 10.5"/>
<path d="M381.87 416.25 L382.6 416.53 L383.53 416.92 L384.65 417.38 L385.9 417.89 L387.27 418.41 L388.7 418.92 L390.17 419.38 L391.65 419.77 L393.13 420.1 L394.66 420.4 L396.24 420.66 L397.89 420.91 L399.61 421.14 L401.42 421.35 L403.32 421.54 L405.34 421.73 L407.51 421.89 L409.82 422.01 L412.25 422.1 L414.76 422.18 L417.31 422.27 L419.88 422.38 L422.42 422.52 L424.91 422.71 L427.35 422.95 L429.8 423.24 L432.24 423.56 L434.69 423.89 L437.13 424.24 L439.58 424.59 L442.02 424.93 L444.47 425.25 L446.91 425.57 L449.36 425.9 L451.8 426.23 L454.25 426.56 L456.69 426.87 L459.14 427.15 L461.58 427.4 L464.03 427.6 L466.47 427.77 L468.92 427.94 L471.36 428.09 L473.81 428.21 L476.26 428.27 L478.7 428.27 L481.15 428.18 L483.59 427.99 L486.17 427.65 L488.94 427.14 L491.79 426.53 L494.59 425.86 L497.25 425.19 L499.64 424.57 L501.64 424.05 L503.15 423.69 L503.15 442.86 L501.64 442.48 L499.64 441.96 L497.25 441.33 L494.59 440.64 L491.79 439.96 L488.94 439.31 L486.17 438.76 L483.59 438.36 L481.15 438.12 L478.7 438.02 L476.26 438.01 L473.81 438.05 L471.36 438.09 L468.92 438.09 L466.47 438 L464.03 437.77 L461.58 437.4 L459.14 436.92 L456.69 436.37 L454.25 435.77 L451.8 435.14 L449.36 434.53 L446.91 433.96 L444.47 433.47 L442.02 433.01 L439.58 432.57 L437.13 432.14 L434.69 431.73 L432.24 431.36 L429.8 431.03 L427.35 430.75 L424.91 430.53 L422.42 430.38 L419.88 430.28 L417.31 430.23 L414.76 430.23 L412.25 430.26 L409.82 430.33 L407.51 430.42 L405.34 430.53 L403.32 430.68 L401.42 430.86 L399.61 431.08 L397.89 431.33 L396.24 431.6 L394.66 431.89 L393.13 432.18 L391.65 432.49 L390.17 432.83 L388.7 433.22 L387.27 433.65 L385.9 434.08 L384.65 434.49 L383.53 434.87 L382.6 435.19 L381.87 435.42 Z" fill="#999" fill-opacity="0.3"/>
<path d="M382.85 426.03 L383.49 426.04 L384.31 426.05 L385.29 426.07 L386.39 426.08 L387.6 426.09 L388.9 426.09 L390.26 426.07 L391.65 426.03 L393.15 425.97 L394.82 425.87 L396.6 425.75 L398.44 425.62 L400.28 425.49 L402.08 425.38 L403.79 425.3 L405.34 425.25 L406.75 425.24 L408.06 425.27 L409.3 425.31 L410.48 425.37 L411.63 425.44 L412.77 425.52 L413.93 425.59 L415.12 425.64 L416.35 425.69 L417.57 425.72 L418.79 425.75 L420.01 425.79 L421.24 425.83 L422.46 425.88 L423.68 425.95 L424.91 426.03 L426.13 426.14 L427.35 426.25 L428.57 426.38 L429.8 426.52 L431.02 426.68 L432.24 426.84 L433.46 427.02 L434.69 427.21 L435.91 427.41 L437.13 427.62 L438.35 427.85 L439.58 428.09 L440.8 428.34 L442.02 428.6 L443.24 428.88 L444.47 429.16 L445.69 429.48 L446.91 429.84 L448.14 430.23 L449.36 430.62 L450.58 431 L451.8 431.35 L453.03 431.66 L454.25 431.9 L455.47 432.08 L456.69 432.2 L457.92 432.29 L459.14 432.34 L460.36 432.38 L461.58 432.41 L462.81 432.44 L464.03 432.49 L465.24 432.55 L466.43 432.62 L467.61 432.68 L468.8 432.75 L470 432.8 L471.23 432.84 L472.49 432.87 L473.81 432.88 L475.18 432.86 L476.58 432.81 L478.03 432.73 L479.5 432.65 L480.99 432.57 L482.5 432.51 L484.02 432.48 L485.55 432.49 L487.18 432.55 L488.96 432.66 L490.8 432.8 L492.64 432.95 L494.38 433.11 L495.96 433.26 L497.28 433.38 L498.26 433.47" fill="none" stroke="#1F4AA8" stroke-width="2.5" stroke-dasharray="11 10.5"/>
<rect x="377.6" y="365.2" width="131" height="130" fill="none" stroke="#333" stroke-width="1"/>
<rect x="377.6" y="354.4" width="131" height="10" fill="#D9D9D9" stroke="#333" stroke-width="1"/>
<text x="449" y="361.5" font-size="6.3" text-anchor="middle" fill="#1A1A1A" stroke="#1A1A1A" stroke-width="0.15">Gender (Male)</text>
<line x1="382.4" y1="495.2" x2="382.4" y2="497.3" stroke="#333" stroke-width="0.9"/>
<text x="382.4" y="504.8" font-size="6.3" text-anchor="middle" fill="#333" stroke="#333" stroke-width="0.15">0</text>
<line x1="417.53" y1="495.2" x2="417.53" y2="497.3" stroke="#333" stroke-width="0.9"/>
<text x="417.53" y="504.8" font-size="6.3" text-anchor="middle" fill="#333" stroke="#333" stroke-width="0.15">50</text>
<line x1="452.67" y1="495.2" x2="452.67" y2="497.3" stroke="#333" stroke-width="0.9"/>
<text x="452.67" y="504.8" font-size="6.3" text-anchor="middle" fill="#333" stroke="#333" stroke-width="0.15">100</text>
<line x1="487.8" y1="495.2" x2="487.8" y2="497.3" stroke="#333" stroke-width="0.9"/>
<text x="487.8" y="504.8" font-size="6.3" text-anchor="middle" fill="#333" stroke="#333" stroke-width="0.15">150</text>
<line x1="375.5" y1="365.8" x2="377.6" y2="365.8" stroke="#333" stroke-width="0.9"/>
<text x="373.5" y="368.3" font-size="6.3" text-anchor="end" fill="#333" stroke="#333" stroke-width="0.15">0.08</text>
<line x1="375.5" y1="397.2" x2="377.6" y2="397.2" stroke="#333" stroke-width="0.9"/>
<text x="373.5" y="399.7" font-size="6.3" text-anchor="end" fill="#333" stroke="#333" stroke-width="0.15">0.04</text>
<line x1="375.5" y1="428.6" x2="377.6" y2="428.6" stroke="#333" stroke-width="0.9"/>
<text x="373.5" y="431.1" font-size="6.3" text-anchor="end" fill="#333" stroke="#333" stroke-width="0.15">0.00</text>
<line x1="375.5" y1="460" x2="377.6" y2="460" stroke="#333" stroke-width="0.9"/>
<text x="373.5" y="462.5" font-size="6.3" text-anchor="end" fill="#333" stroke="#333" stroke-width="0.15">−0.04</text>
<line x1="375.5" y1="491.4" x2="377.6" y2="491.4" stroke="#333" stroke-width="0.9"/>
<text x="373.5" y="493.9" font-size="6.3" text-anchor="end" fill="#333" stroke="#333" stroke-width="0.15">−0.08</text>
<text x="438.8" y="511.9" font-size="6.3" text-anchor="middle" stroke="#000" stroke-width="0.15">Observation Id</text>
<text x="352.6" y="435.7" font-size="6.3" text-anchor="middle" transform="rotate(-90 352.6 435.7)" stroke="#000" stroke-width="0.15">Residuals (type = dfbeta)</text>
<rect x="548.4" y="365.2" width="132.9" height="130" fill="#fff" stroke="none" stroke-width="1"/>
<line x1="553.7" y1="365.2" x2="553.7" y2="495.2" stroke="#EBEBEB" stroke-width="0.9"/>
<line x1="571.27" y1="365.2" x2="571.27" y2="495.2" stroke="#EBEBEB" stroke-width="0.6"/>
<line x1="588.84" y1="365.2" x2="588.84" y2="495.2" stroke="#EBEBEB" stroke-width="0.9"/>
<line x1="606.4" y1="365.2" x2="606.4" y2="495.2" stroke="#EBEBEB" stroke-width="0.6"/>
<line x1="623.97" y1="365.2" x2="623.97" y2="495.2" stroke="#EBEBEB" stroke-width="0.9"/>
<line x1="641.54" y1="365.2" x2="641.54" y2="495.2" stroke="#EBEBEB" stroke-width="0.6"/>
<line x1="659.11" y1="365.2" x2="659.11" y2="495.2" stroke="#EBEBEB" stroke-width="0.9"/>
<line x1="676.67" y1="365.2" x2="676.67" y2="495.2" stroke="#EBEBEB" stroke-width="0.6"/>
<line x1="548.4" y1="481.95" x2="681.3" y2="481.95" stroke="#EBEBEB" stroke-width="0.6"/>
<line x1="548.4" y1="469.2" x2="681.3" y2="469.2" stroke="#EBEBEB" stroke-width="0.9"/>
<line x1="548.4" y1="456.45" x2="681.3" y2="456.45" stroke="#EBEBEB" stroke-width="0.6"/>
<line x1="548.4" y1="443.7" x2="681.3" y2="443.7" stroke="#EBEBEB" stroke-width="0.9"/>
<line x1="548.4" y1="430.95" x2="681.3" y2="430.95" stroke="#EBEBEB" stroke-width="0.6"/>
<line x1="548.4" y1="418.2" x2="681.3" y2="418.2" stroke="#EBEBEB" stroke-width="0.9"/>
<line x1="548.4" y1="405.45" x2="681.3" y2="405.45" stroke="#EBEBEB" stroke-width="0.6"/>
<line x1="548.4" y1="392.7" x2="681.3" y2="392.7" stroke="#EBEBEB" stroke-width="0.9"/>
<line x1="548.4" y1="379.95" x2="681.3" y2="379.95" stroke="#EBEBEB" stroke-width="0.6"/>
<line x1="548.4" y1="367.2" x2="681.3" y2="367.2" stroke="#EBEBEB" stroke-width="0.9"/>
<circle cx="555.11" cy="419.86" r="1.5" fill="#000"/>
<circle cx="555.81" cy="420.72" r="1.5" fill="#000"/>
<circle cx="557.92" cy="418.9" r="1.5" fill="#000"/>
<circle cx="558.62" cy="420.54" r="1.5" fill="#000"/>
<circle cx="560.02" cy="421.72" r="1.5" fill="#000"/>
<circle cx="562.13" cy="420.72" r="1.5" fill="#000"/>
<circle cx="562.84" cy="423.04" r="1.5" fill="#000"/>
<circle cx="563.54" cy="418.16" r="1.5" fill="#000"/>
<circle cx="565.65" cy="420.1" r="1.5" fill="#000"/>
<circle cx="567.75" cy="418.5" r="1.5" fill="#000"/>
<circle cx="568.46" cy="418.33" r="1.5" fill="#000"/>
<circle cx="569.16" cy="419.51" r="1.5" fill="#000"/>
<circle cx="571.27" cy="420.27" r="1.5" fill="#000"/>
<circle cx="572.67" cy="420.63" r="1.5" fill="#000"/>
<circle cx="576.89" cy="420.7" r="1.5" fill="#000"/>
<circle cx="577.59" cy="424.13" r="1.5" fill="#000"/>
<circle cx="578.29" cy="421.35" r="1.5" fill="#000"/>
<circle cx="580.4" cy="416.33" r="1.5" fill="#000"/>
<circle cx="581.11" cy="419.89" r="1.5" fill="#000"/>
<circle cx="581.81" cy="418.2" r="1.5" fill="#000"/>
<circle cx="582.51" cy="418.38" r="1.5" fill="#000"/>
<circle cx="583.21" cy="421.99" r="1.5" fill="#000"/>
<circle cx="583.92" cy="418.9" r="1.5" fill="#000"/>
<circle cx="584.62" cy="415.41" r="1.5" fill="#000"/>
<circle cx="585.32" cy="419.89" r="1.5" fill="#000"/>
<circle cx="586.73" cy="418.62" r="1.5" fill="#000"/>
<circle cx="587.43" cy="416.82" r="1.5" fill="#000"/>
<circle cx="588.84" cy="417.27" r="1.5" fill="#000"/>
<circle cx="589.54" cy="417.84" r="1.5" fill="#000"/>
<circle cx="591.65" cy="418.95" r="1.5" fill="#000"/>
<circle cx="593.05" cy="418.09" r="1.5" fill="#000"/>
<circle cx="594.46" cy="419.03" r="1.5" fill="#000"/>
<circle cx="595.16" cy="422.53" r="1.5" fill="#000"/>
<circle cx="595.86" cy="417.23" r="1.5" fill="#000"/>
<circle cx="600.08" cy="417.08" r="1.5" fill="#000"/>
<circle cx="600.78" cy="418.18" r="1.5" fill="#000"/>
<circle cx="602.19" cy="420.82" r="1.5" fill="#000"/>
<circle cx="602.89" cy="417.2" r="1.5" fill="#000"/>
<circle cx="603.59" cy="421.46" r="1.5" fill="#000"/>
<circle cx="604.29" cy="415.95" r="1.5" fill="#000"/>
<circle cx="605.7" cy="416.46" r="1.5" fill="#000"/>
<circle cx="607.11" cy="418.37" r="1.5" fill="#000"/>
<circle cx="607.81" cy="416.71" r="1.5" fill="#000"/>
<circle cx="608.51" cy="417.17" r="1.5" fill="#000"/>
<circle cx="609.92" cy="419.24" r="1.5" fill="#000"/>
<circle cx="612.02" cy="419.68" r="1.5" fill="#000"/>
<circle cx="612.73" cy="418.42" r="1.5" fill="#000"/>
<circle cx="613.43" cy="417.61" r="1.5" fill="#000"/>
<circle cx="614.13" cy="420.81" r="1.5" fill="#000"/>
<circle cx="614.83" cy="418.9" r="1.5" fill="#000"/>
<circle cx="615.54" cy="417.59" r="1.5" fill="#000"/>
<circle cx="616.94" cy="420.42" r="1.5" fill="#000"/>
<circle cx="617.65" cy="416.17" r="1.5" fill="#000"/>
<circle cx="618.35" cy="418.28" r="1.5" fill="#000"/>
<circle cx="619.05" cy="419.25" r="1.5" fill="#000"/>
<circle cx="619.75" cy="417.89" r="1.5" fill="#000"/>
<circle cx="620.46" cy="416.74" r="1.5" fill="#000"/>
<circle cx="621.86" cy="418.55" r="1.5" fill="#000"/>
<circle cx="623.27" cy="416.72" r="1.5" fill="#000"/>
<circle cx="623.97" cy="416.59" r="1.5" fill="#000"/>
<circle cx="624.67" cy="415.72" r="1.5" fill="#000"/>
<circle cx="626.78" cy="420.31" r="1.5" fill="#000"/>
<circle cx="627.48" cy="416.59" r="1.5" fill="#000"/>
<circle cx="628.89" cy="419.97" r="1.5" fill="#000"/>
<circle cx="629.59" cy="418.41" r="1.5" fill="#000"/>
<circle cx="631" cy="417.1" r="1.5" fill="#000"/>
<circle cx="631.7" cy="418.94" r="1.5" fill="#000"/>
<circle cx="632.4" cy="418.14" r="1.5" fill="#000"/>
<circle cx="634.51" cy="417.81" r="1.5" fill="#000"/>
<circle cx="638.73" cy="414.77" r="1.5" fill="#000"/>
<circle cx="639.43" cy="417.66" r="1.5" fill="#000"/>
<circle cx="640.83" cy="419.31" r="1.5" fill="#000"/>
<circle cx="641.54" cy="418.49" r="1.5" fill="#000"/>
<circle cx="644.35" cy="419.51" r="1.5" fill="#000"/>
<circle cx="645.75" cy="420.5" r="1.5" fill="#000"/>
<circle cx="647.16" cy="418.31" r="1.5" fill="#000"/>
<circle cx="647.86" cy="421.42" r="1.5" fill="#000"/>
<circle cx="649.27" cy="414.41" r="1.5" fill="#000"/>
<circle cx="650.67" cy="416.92" r="1.5" fill="#000"/>
<circle cx="651.38" cy="412.38" r="1.5" fill="#000"/>
<circle cx="652.08" cy="419" r="1.5" fill="#000"/>
<circle cx="654.19" cy="417.5" r="1.5" fill="#000"/>
<circle cx="654.89" cy="420.67" r="1.5" fill="#000"/>
<circle cx="655.59" cy="416.54" r="1.5" fill="#000"/>
<circle cx="656.29" cy="413.2" r="1.5" fill="#000"/>
<circle cx="659.11" cy="419.74" r="1.5" fill="#000"/>
<circle cx="661.21" cy="414.44" r="1.5" fill="#000"/>
<circle cx="661.92" cy="414.57" r="1.5" fill="#000"/>
<circle cx="662.62" cy="416.73" r="1.5" fill="#000"/>
<circle cx="663.32" cy="418.32" r="1.5" fill="#000"/>
<circle cx="664.02" cy="416.02" r="1.5" fill="#000"/>
<circle cx="665.43" cy="417.37" r="1.5" fill="#000"/>
<circle cx="667.54" cy="413.18" r="1.5" fill="#000"/>
<circle cx="668.24" cy="420.38" r="1.5" fill="#000"/>
<circle cx="668.94" cy="416.77" r="1.5" fill="#000"/>
<circle cx="671.05" cy="417.08" r="1.5" fill="#000"/>
<circle cx="671.75" cy="418.01" r="1.5" fill="#000"/>
<circle cx="672.46" cy="417.17" r="1.5" fill="#000"/>
<circle cx="673.16" cy="417.23" r="1.5" fill="#000"/>
<circle cx="673.86" cy="414.98" r="1.5" fill="#000"/>
<circle cx="674.56" cy="416.61" r="1.5" fill="#000"/>
<circle cx="675.27" cy="417.71" r="1.5" fill="#000"/>
<circle cx="610.6" cy="372.43" r="1.5" fill="#000"/>
<circle cx="666.35" cy="370.87" r="1.5" fill="#000"/>
<circle cx="664.39" cy="373.8" r="1.5" fill="#000"/>
<circle cx="658.53" cy="386.13" r="1.5" fill="#000"/>
<circle cx="561.3" cy="393.36" r="1.5" fill="#000"/>
<circle cx="609.03" cy="393.36" r="1.5" fill="#000"/>
<circle cx="566.58" cy="397.28" r="1.5" fill="#000"/>
<circle cx="669.87" cy="397.67" r="1.5" fill="#000"/>
<circle cx="599.25" cy="399.82" r="1.5" fill="#000"/>
<circle cx="567.17" cy="403.15" r="1.5" fill="#000"/>
<circle cx="570.5" cy="405.1" r="1.5" fill="#000"/>
<circle cx="554.26" cy="407.06" r="1.5" fill="#000"/>
<circle cx="556.22" cy="408.43" r="1.5" fill="#000"/>
<circle cx="628.2" cy="402.56" r="1.5" fill="#000"/>
<circle cx="633.09" cy="400.6" r="1.5" fill="#000"/>
<circle cx="635.05" cy="403.15" r="1.5" fill="#000"/>
<circle cx="642.88" cy="400.21" r="1.5" fill="#000"/>
<circle cx="636.42" cy="407.06" r="1.5" fill="#000"/>
<circle cx="575.39" cy="409.01" r="1.5" fill="#000"/>
<circle cx="576.36" cy="409.99" r="1.5" fill="#000"/>
<circle cx="590.06" cy="409.01" r="1.5" fill="#000"/>
<circle cx="596.51" cy="411.56" r="1.5" fill="#000"/>
<circle cx="653.64" cy="405.1" r="1.5" fill="#000"/>
<circle cx="657.16" cy="406.08" r="1.5" fill="#000"/>
<circle cx="646.79" cy="407.65" r="1.5" fill="#000"/>
<circle cx="641.9" cy="408.43" r="1.5" fill="#000"/>
<circle cx="648.74" cy="410.38" r="1.5" fill="#000"/>
<circle cx="652.66" cy="410.38" r="1.5" fill="#000"/>
<circle cx="639.94" cy="412.93" r="1.5" fill="#000"/>
<circle cx="634.07" cy="412.93" r="1.5" fill="#000"/>
<circle cx="565.21" cy="412.93" r="1.5" fill="#000"/>
<circle cx="574.41" cy="413.91" r="1.5" fill="#000"/>
<circle cx="621.36" cy="413.51" r="1.5" fill="#000"/>
<circle cx="626.25" cy="413.51" r="1.5" fill="#000"/>
<circle cx="557.39" cy="489.81" r="1.5" fill="#000"/>
<circle cx="571.87" cy="462.22" r="1.5" fill="#000"/>
<circle cx="574.8" cy="457.33" r="1.5" fill="#000"/>
<circle cx="637.59" cy="459.48" r="1.5" fill="#000"/>
<circle cx="659.5" cy="463.2" r="1.5" fill="#000"/>
<circle cx="670.26" cy="444.23" r="1.5" fill="#000"/>
<circle cx="598.47" cy="442.86" r="1.5" fill="#000"/>
<circle cx="625.86" cy="440.31" r="1.5" fill="#000"/>
<circle cx="579.69" cy="440.9" r="1.5" fill="#000"/>
<circle cx="578.91" cy="437.77" r="1.5" fill="#000"/>
<circle cx="560.72" cy="437.77" r="1.5" fill="#000"/>
<circle cx="564.04" cy="435.03" r="1.5" fill="#000"/>
<circle cx="569.91" cy="431.51" r="1.5" fill="#000"/>
<circle cx="573.43" cy="425.64" r="1.5" fill="#000"/>
<circle cx="586.15" cy="427.21" r="1.5" fill="#000"/>
<circle cx="588.1" cy="427.6" r="1.5" fill="#000"/>
<circle cx="590.65" cy="428.58" r="1.5" fill="#000"/>
<circle cx="592.6" cy="423.69" r="1.5" fill="#000"/>
<circle cx="593.97" cy="422.71" r="1.5" fill="#000"/>
<circle cx="597.3" cy="428.58" r="1.5" fill="#000"/>
<circle cx="597.3" cy="433.86" r="1.5" fill="#000"/>
<circle cx="650.11" cy="438.94" r="1.5" fill="#000"/>
<circle cx="657.94" cy="434.45" r="1.5" fill="#000"/>
<circle cx="659.89" cy="427.21" r="1.5" fill="#000"/>
<circle cx="666.94" cy="423.29" r="1.5" fill="#000"/>
<circle cx="643.46" cy="425.64" r="1.5" fill="#000"/>
<circle cx="644.83" cy="423.29" r="1.5" fill="#000"/>
<circle cx="635.64" cy="425.64" r="1.5" fill="#000"/>
<circle cx="637.99" cy="422.71" r="1.5" fill="#000"/>
<circle cx="559.35" cy="423.69" r="1.5" fill="#000"/>
<circle cx="601.8" cy="422.71" r="1.5" fill="#000"/>
<circle cx="604.73" cy="422.32" r="1.5" fill="#000"/>
<circle cx="606.69" cy="422.12" r="1.5" fill="#000"/>
<circle cx="610.99" cy="420.36" r="1.5" fill="#000"/>
<circle cx="616.47" cy="420.75" r="1.5" fill="#000"/>
<circle cx="622.34" cy="420.75" r="1.5" fill="#000"/>
<circle cx="630.16" cy="421.73" r="1.5" fill="#000"/>
<line x1="548.4" y1="418.2" x2="681.3" y2="418.2" stroke="#E4232A" stroke-width="2.2" stroke-dasharray="10.5 10.5"/>
<path d="M553.87 415.47 L554.88 415.63 L556.19 415.87 L557.74 416.15 L559.49 416.45 L561.4 416.75 L563.41 417.03 L565.48 417.26 L567.56 417.43 L569.73 417.53 L572.04 417.59 L574.47 417.62 L576.98 417.62 L579.53 417.6 L582.1 417.55 L584.64 417.5 L587.12 417.43 L589.57 417.34 L592.01 417.22 L594.46 417.08 L596.91 416.92 L599.35 416.76 L601.8 416.59 L604.24 416.42 L606.69 416.25 L609.13 416.09 L611.58 415.91 L614.02 415.74 L616.47 415.56 L618.91 415.38 L621.36 415.2 L623.8 415.04 L626.25 414.88 L628.69 414.75 L631.14 414.63 L633.58 414.53 L636.03 414.43 L638.47 414.33 L640.92 414.21 L643.36 414.07 L645.81 413.91 L648.32 413.72 L650.93 413.52 L653.58 413.31 L656.2 413.09 L658.75 412.84 L661.17 412.57 L663.4 412.28 L665.37 411.95 L667.13 411.56 L668.73 411.1 L670.19 410.59 L671.49 410.07 L672.63 409.56 L673.63 409.1 L674.47 408.71 L675.15 408.43 L675.15 422.12 L674.47 421.93 L673.63 421.65 L672.63 421.33 L671.49 420.97 L670.19 420.61 L668.73 420.28 L667.13 419.99 L665.37 419.77 L663.4 419.63 L661.17 419.52 L658.75 419.45 L656.2 419.41 L653.58 419.39 L650.93 419.38 L648.32 419.38 L645.81 419.38 L643.36 419.39 L640.92 419.41 L638.47 419.45 L636.03 419.49 L633.58 419.55 L631.14 419.62 L628.69 419.69 L626.25 419.77 L623.8 419.86 L621.36 419.95 L618.91 420.05 L616.47 420.16 L614.02 420.29 L611.58 420.42 L609.13 420.58 L606.69 420.75 L604.24 420.94 L601.8 421.15 L599.35 421.37 L596.91 421.61 L594.46 421.86 L592.01 422.13 L589.57 422.41 L587.12 422.71 L584.64 423.03 L582.1 423.37 L579.53 423.74 L576.98 424.11 L574.47 424.5 L572.04 424.89 L569.73 425.27 L567.56 425.64 L565.48 426.03 L563.41 426.44 L561.4 426.87 L559.49 427.29 L557.74 427.69 L556.19 428.05 L554.88 428.35 L553.87 428.58 Z" fill="#999" fill-opacity="0.3"/>
<path d="M554.85 421.34 L555.67 421.38 L556.76 421.43 L558.05 421.5 L559.49 421.57 L561.03 421.64 L562.6 421.69 L564.14 421.73 L565.61 421.73 L567.04 421.71 L568.52 421.66 L570.02 421.6 L571.54 421.52 L573.04 421.43 L574.52 421.34 L575.96 421.24 L577.34 421.14 L578.66 421.04 L579.93 420.92 L581.15 420.8 L582.36 420.67 L583.54 420.53 L584.72 420.4 L585.91 420.28 L587.12 420.16 L588.35 420.06 L589.57 419.95 L590.79 419.85 L592.01 419.75 L593.24 419.65 L594.46 419.56 L595.68 419.47 L596.91 419.38 L598.13 419.3 L599.35 419.23 L600.57 419.17 L601.8 419.1 L603.02 419.04 L604.24 418.97 L605.46 418.89 L606.69 418.8 L607.91 418.69 L609.13 418.57 L610.35 418.44 L611.58 418.31 L612.8 418.17 L614.02 418.04 L615.24 417.92 L616.47 417.82 L617.69 417.72 L618.91 417.64 L620.14 417.56 L621.36 417.49 L622.58 417.42 L623.8 417.35 L625.03 417.29 L626.25 417.23 L627.47 417.17 L628.69 417.11 L629.92 417.05 L631.14 417 L632.36 416.95 L633.58 416.91 L634.81 416.87 L636.03 416.84 L637.24 416.82 L638.43 416.83 L639.61 416.84 L640.8 416.85 L642 416.87 L643.23 416.87 L644.49 416.86 L645.81 416.84 L647.17 416.8 L648.56 416.74 L649.98 416.67 L651.43 416.59 L652.92 416.51 L654.43 416.43 L655.97 416.34 L657.55 416.25 L659.26 416.16 L661.15 416.05 L663.14 415.94 L665.13 415.82 L667.02 415.71 L668.73 415.62 L670.17 415.53 L671.24 415.47" fill="none" stroke="#1F4AA8" stroke-width="2.5" stroke-dasharray="11 10.5"/>
<rect x="548.4" y="365.2" width="132.9" height="130" fill="none" stroke="#333" stroke-width="1"/>
<rect x="548.4" y="354.4" width="132.9" height="10" fill="#D9D9D9" stroke="#333" stroke-width="1"/>
<text x="615.7" y="361.5" font-size="6.3" text-anchor="middle" fill="#1A1A1A" stroke="#1A1A1A" stroke-width="0.15">Smoking status (Current or past)</text>
<line x1="553.7" y1="495.2" x2="553.7" y2="497.3" stroke="#333" stroke-width="0.9"/>
<text x="553.7" y="504.8" font-size="6.3" text-anchor="middle" fill="#333" stroke="#333" stroke-width="0.15">0</text>
<line x1="588.84" y1="495.2" x2="588.84" y2="497.3" stroke="#333" stroke-width="0.9"/>
<text x="588.84" y="504.8" font-size="6.3" text-anchor="middle" fill="#333" stroke="#333" stroke-width="0.15">50</text>
<line x1="623.97" y1="495.2" x2="623.97" y2="497.3" stroke="#333" stroke-width="0.9"/>
<text x="623.97" y="504.8" font-size="6.3" text-anchor="middle" fill="#333" stroke="#333" stroke-width="0.15">100</text>
<line x1="659.11" y1="495.2" x2="659.11" y2="497.3" stroke="#333" stroke-width="0.9"/>
<text x="659.11" y="504.8" font-size="6.3" text-anchor="middle" fill="#333" stroke="#333" stroke-width="0.15">150</text>
<line x1="546.3" y1="367.2" x2="548.4" y2="367.2" stroke="#333" stroke-width="0.9"/>
<text x="544.3" y="369.7" font-size="6.3" text-anchor="end" fill="#333" stroke="#333" stroke-width="0.15">0.10</text>
<line x1="546.3" y1="392.7" x2="548.4" y2="392.7" stroke="#333" stroke-width="0.9"/>
<text x="544.3" y="395.2" font-size="6.3" text-anchor="end" fill="#333" stroke="#333" stroke-width="0.15">0.05</text>
<line x1="546.3" y1="418.2" x2="548.4" y2="418.2" stroke="#333" stroke-width="0.9"/>
<text x="544.3" y="420.7" font-size="6.3" text-anchor="end" fill="#333" stroke="#333" stroke-width="0.15">0.00</text>
<line x1="546.3" y1="443.7" x2="548.4" y2="443.7" stroke="#333" stroke-width="0.9"/>
<text x="544.3" y="446.2" font-size="6.3" text-anchor="end" fill="#333" stroke="#333" stroke-width="0.15">−0.05</text>
<line x1="546.3" y1="469.2" x2="548.4" y2="469.2" stroke="#333" stroke-width="0.9"/>
<text x="544.3" y="471.7" font-size="6.3" text-anchor="end" fill="#333" stroke="#333" stroke-width="0.15">−0.10</text>
<line x1="546.3" y1="494.7" x2="548.4" y2="494.7" stroke="#333" stroke-width="0.9"/>
<text x="544.3" y="497.2" font-size="6.3" text-anchor="end" fill="#333" stroke="#333" stroke-width="0.15">−0.15</text>
<text x="611" y="511.1" font-size="6.3" text-anchor="middle" stroke="#000" stroke-width="0.15">Observation Id</text>
<text x="525.7" y="435.7" font-size="6.3" text-anchor="middle" transform="rotate(-90 525.7 435.7)" stroke="#000" stroke-width="0.15">Residuals (type = dfbeta)</text>
<rect x="31.6" y="560.3" width="132.9" height="126.3" fill="#fff" stroke="none" stroke-width="1"/>
<line x1="37" y1="560.3" x2="37" y2="686.6" stroke="#EBEBEB" stroke-width="0.9"/>
<line x1="54.55" y1="560.3" x2="54.55" y2="686.6" stroke="#EBEBEB" stroke-width="0.6"/>
<line x1="72.1" y1="560.3" x2="72.1" y2="686.6" stroke="#EBEBEB" stroke-width="0.9"/>
<line x1="89.65" y1="560.3" x2="89.65" y2="686.6" stroke="#EBEBEB" stroke-width="0.6"/>
<line x1="107.2" y1="560.3" x2="107.2" y2="686.6" stroke="#EBEBEB" stroke-width="0.9"/>
<line x1="124.75" y1="560.3" x2="124.75" y2="686.6" stroke="#EBEBEB" stroke-width="0.6"/>
<line x1="142.3" y1="560.3" x2="142.3" y2="686.6" stroke="#EBEBEB" stroke-width="0.9"/>
<line x1="159.85" y1="560.3" x2="159.85" y2="686.6" stroke="#EBEBEB" stroke-width="0.6"/>
<line x1="31.6" y1="681.2" x2="164.5" y2="681.2" stroke="#EBEBEB" stroke-width="0.9"/>
<line x1="31.6" y1="670.6" x2="164.5" y2="670.6" stroke="#EBEBEB" stroke-width="0.6"/>
<line x1="31.6" y1="660" x2="164.5" y2="660" stroke="#EBEBEB" stroke-width="0.9"/>
<line x1="31.6" y1="649.4" x2="164.5" y2="649.4" stroke="#EBEBEB" stroke-width="0.6"/>
<line x1="31.6" y1="638.8" x2="164.5" y2="638.8" stroke="#EBEBEB" stroke-width="0.9"/>
<line x1="31.6" y1="628.2" x2="164.5" y2="628.2" stroke="#EBEBEB" stroke-width="0.6"/>
<line x1="31.6" y1="617.6" x2="164.5" y2="617.6" stroke="#EBEBEB" stroke-width="0.9"/>
<line x1="31.6" y1="607" x2="164.5" y2="607" stroke="#EBEBEB" stroke-width="0.6"/>
<line x1="31.6" y1="596.4" x2="164.5" y2="596.4" stroke="#EBEBEB" stroke-width="0.9"/>
<line x1="31.6" y1="585.8" x2="164.5" y2="585.8" stroke="#EBEBEB" stroke-width="0.6"/>
<line x1="31.6" y1="575.2" x2="164.5" y2="575.2" stroke="#EBEBEB" stroke-width="0.9"/>
<line x1="31.6" y1="564.6" x2="164.5" y2="564.6" stroke="#EBEBEB" stroke-width="0.6"/>
<circle cx="38.4" cy="617.6" r="1.5" fill="#000"/>
<circle cx="39.81" cy="617.43" r="1.5" fill="#000"/>
<circle cx="41.21" cy="620.83" r="1.5" fill="#000"/>
<circle cx="41.91" cy="614.79" r="1.5" fill="#000"/>
<circle cx="42.62" cy="618.97" r="1.5" fill="#000"/>
<circle cx="44.72" cy="614.4" r="1.5" fill="#000"/>
<circle cx="46.13" cy="620.88" r="1.5" fill="#000"/>
<circle cx="46.83" cy="618.98" r="1.5" fill="#000"/>
<circle cx="51.04" cy="620.99" r="1.5" fill="#000"/>
<circle cx="51.74" cy="617.22" r="1.5" fill="#000"/>
<circle cx="52.44" cy="618.97" r="1.5" fill="#000"/>
<circle cx="53.85" cy="617.5" r="1.5" fill="#000"/>
<circle cx="54.55" cy="616.55" r="1.5" fill="#000"/>
<circle cx="55.95" cy="618.21" r="1.5" fill="#000"/>
<circle cx="57.36" cy="615.31" r="1.5" fill="#000"/>
<circle cx="58.76" cy="617.01" r="1.5" fill="#000"/>
<circle cx="60.17" cy="619.02" r="1.5" fill="#000"/>
<circle cx="60.87" cy="617.71" r="1.5" fill="#000"/>
<circle cx="62.27" cy="616.75" r="1.5" fill="#000"/>
<circle cx="63.68" cy="621.92" r="1.5" fill="#000"/>
<circle cx="64.38" cy="617.65" r="1.5" fill="#000"/>
<circle cx="65.08" cy="616.34" r="1.5" fill="#000"/>
<circle cx="65.78" cy="617.82" r="1.5" fill="#000"/>
<circle cx="66.48" cy="616.44" r="1.5" fill="#000"/>
<circle cx="67.19" cy="616.7" r="1.5" fill="#000"/>
<circle cx="68.59" cy="616.74" r="1.5" fill="#000"/>
<circle cx="69.29" cy="621.48" r="1.5" fill="#000"/>
<circle cx="69.99" cy="617.46" r="1.5" fill="#000"/>
<circle cx="70.7" cy="617.79" r="1.5" fill="#000"/>
<circle cx="71.4" cy="618.83" r="1.5" fill="#000"/>
<circle cx="72.1" cy="621.55" r="1.5" fill="#000"/>
<circle cx="73.5" cy="617.14" r="1.5" fill="#000"/>
<circle cx="74.21" cy="616.37" r="1.5" fill="#000"/>
<circle cx="74.91" cy="622.6" r="1.5" fill="#000"/>
<circle cx="75.61" cy="614.77" r="1.5" fill="#000"/>
<circle cx="76.31" cy="616.99" r="1.5" fill="#000"/>
<circle cx="77.01" cy="619.09" r="1.5" fill="#000"/>
<circle cx="77.72" cy="622.36" r="1.5" fill="#000"/>
<circle cx="78.42" cy="615.93" r="1.5" fill="#000"/>
<circle cx="79.12" cy="613.01" r="1.5" fill="#000"/>
<circle cx="83.33" cy="619.23" r="1.5" fill="#000"/>
<circle cx="84.03" cy="616.86" r="1.5" fill="#000"/>
<circle cx="85.44" cy="617.13" r="1.5" fill="#000"/>
<circle cx="86.14" cy="618.83" r="1.5" fill="#000"/>
<circle cx="86.84" cy="618.35" r="1.5" fill="#000"/>
<circle cx="88.25" cy="618.49" r="1.5" fill="#000"/>
<circle cx="89.65" cy="617.04" r="1.5" fill="#000"/>
<circle cx="90.35" cy="620.47" r="1.5" fill="#000"/>
<circle cx="91.05" cy="620.89" r="1.5" fill="#000"/>
<circle cx="92.46" cy="617.91" r="1.5" fill="#000"/>
<circle cx="93.16" cy="616.93" r="1.5" fill="#000"/>
<circle cx="94.56" cy="619.27" r="1.5" fill="#000"/>
<circle cx="95.97" cy="618.73" r="1.5" fill="#000"/>
<circle cx="96.67" cy="615.68" r="1.5" fill="#000"/>
<circle cx="97.37" cy="616.83" r="1.5" fill="#000"/>
<circle cx="98.07" cy="619.83" r="1.5" fill="#000"/>
<circle cx="98.78" cy="617.53" r="1.5" fill="#000"/>
<circle cx="99.48" cy="617.05" r="1.5" fill="#000"/>
<circle cx="100.18" cy="618.11" r="1.5" fill="#000"/>
<circle cx="100.88" cy="617.6" r="1.5" fill="#000"/>
<circle cx="101.58" cy="617.64" r="1.5" fill="#000"/>
<circle cx="102.99" cy="613.74" r="1.5" fill="#000"/>
<circle cx="103.69" cy="621.08" r="1.5" fill="#000"/>
<circle cx="104.39" cy="617.96" r="1.5" fill="#000"/>
<circle cx="105.8" cy="615.76" r="1.5" fill="#000"/>
<circle cx="106.5" cy="619.46" r="1.5" fill="#000"/>
<circle cx="107.2" cy="618.09" r="1.5" fill="#000"/>
<circle cx="107.9" cy="617.49" r="1.5" fill="#000"/>
<circle cx="110.01" cy="619.49" r="1.5" fill="#000"/>
<circle cx="110.71" cy="621.89" r="1.5" fill="#000"/>
<circle cx="112.11" cy="618.44" r="1.5" fill="#000"/>
<circle cx="112.82" cy="620.48" r="1.5" fill="#000"/>
<circle cx="113.52" cy="621.6" r="1.5" fill="#000"/>
<circle cx="114.22" cy="615.22" r="1.5" fill="#000"/>
<circle cx="114.92" cy="616.2" r="1.5" fill="#000"/>
<circle cx="116.33" cy="618.75" r="1.5" fill="#000"/>
<circle cx="119.84" cy="613.71" r="1.5" fill="#000"/>
<circle cx="121.94" cy="616.59" r="1.5" fill="#000"/>
<circle cx="123.35" cy="619.71" r="1.5" fill="#000"/>
<circle cx="124.05" cy="619.21" r="1.5" fill="#000"/>
<circle cx="125.45" cy="618.28" r="1.5" fill="#000"/>
<circle cx="126.86" cy="613.33" r="1.5" fill="#000"/>
<circle cx="128.26" cy="621.82" r="1.5" fill="#000"/>
<circle cx="130.37" cy="618.22" r="1.5" fill="#000"/>
<circle cx="131.77" cy="618.66" r="1.5" fill="#000"/>
<circle cx="132.47" cy="618.11" r="1.5" fill="#000"/>
<circle cx="133.17" cy="613.69" r="1.5" fill="#000"/>
<circle cx="134.58" cy="614.25" r="1.5" fill="#000"/>
<circle cx="135.28" cy="614.69" r="1.5" fill="#000"/>
<circle cx="135.98" cy="620.96" r="1.5" fill="#000"/>
<circle cx="137.39" cy="615.46" r="1.5" fill="#000"/>
<circle cx="138.09" cy="616.64" r="1.5" fill="#000"/>
<circle cx="138.79" cy="616.61" r="1.5" fill="#000"/>
<circle cx="139.49" cy="618.26" r="1.5" fill="#000"/>
<circle cx="143" cy="618.09" r="1.5" fill="#000"/>
<circle cx="143.7" cy="617.62" r="1.5" fill="#000"/>
<circle cx="144.41" cy="614.55" r="1.5" fill="#000"/>
<circle cx="145.11" cy="612.06" r="1.5" fill="#000"/>
<circle cx="146.51" cy="617.38" r="1.5" fill="#000"/>
<circle cx="147.92" cy="617.57" r="1.5" fill="#000"/>
<circle cx="148.62" cy="619.48" r="1.5" fill="#000"/>
<circle cx="150.72" cy="616.79" r="1.5" fill="#000"/>
<circle cx="151.43" cy="615.76" r="1.5" fill="#000"/>
<circle cx="152.13" cy="617.8" r="1.5" fill="#000"/>
<circle cx="154.23" cy="613.84" r="1.5" fill="#000"/>
<circle cx="155.64" cy="614.85" r="1.5" fill="#000"/>
<circle cx="156.34" cy="614.91" r="1.5" fill="#000"/>
<circle cx="157.04" cy="617.5" r="1.5" fill="#000"/>
<circle cx="157.74" cy="621.11" r="1.5" fill="#000"/>
<circle cx="158.45" cy="618.45" r="1.5" fill="#000"/>
<circle cx="153.85" cy="562.26" r="1.5" fill="#000"/>
<circle cx="57.8" cy="579.08" r="1.5" fill="#000"/>
<circle cx="55.06" cy="586.32" r="1.5" fill="#000"/>
<circle cx="62.69" cy="593.56" r="1.5" fill="#000"/>
<circle cx="44.3" cy="598.65" r="1.5" fill="#000"/>
<circle cx="82.25" cy="598.65" r="1.5" fill="#000"/>
<circle cx="118.05" cy="587.69" r="1.5" fill="#000"/>
<circle cx="120.99" cy="583" r="1.5" fill="#000"/>
<circle cx="142.5" cy="588.28" r="1.5" fill="#000"/>
<circle cx="153.26" cy="601.38" r="1.5" fill="#000"/>
<circle cx="53.5" cy="606.86" r="1.5" fill="#000"/>
<circle cx="92.03" cy="605.3" r="1.5" fill="#000"/>
<circle cx="95.55" cy="608.43" r="1.5" fill="#000"/>
<circle cx="102.4" cy="608.43" r="1.5" fill="#000"/>
<circle cx="115.51" cy="607.84" r="1.5" fill="#000"/>
<circle cx="119.42" cy="607.25" r="1.5" fill="#000"/>
<circle cx="124.9" cy="604.91" r="1.5" fill="#000"/>
<circle cx="39.22" cy="611.75" r="1.5" fill="#000"/>
<circle cx="45.67" cy="612.14" r="1.5" fill="#000"/>
<circle cx="48.21" cy="612.73" r="1.5" fill="#000"/>
<circle cx="73.06" cy="612.73" r="1.5" fill="#000"/>
<circle cx="79.91" cy="611.16" r="1.5" fill="#000"/>
<circle cx="81.47" cy="611.16" r="1.5" fill="#000"/>
<circle cx="129.79" cy="612.34" r="1.5" fill="#000"/>
<circle cx="136.64" cy="611.75" r="1.5" fill="#000"/>
<circle cx="140.16" cy="610.38" r="1.5" fill="#000"/>
<circle cx="120.99" cy="614.29" r="1.5" fill="#000"/>
<circle cx="122.55" cy="614.29" r="1.5" fill="#000"/>
<circle cx="37.85" cy="614.69" r="1.5" fill="#000"/>
<circle cx="40.39" cy="680.81" r="1.5" fill="#000"/>
<circle cx="93.6" cy="665.55" r="1.5" fill="#000"/>
<circle cx="149.35" cy="645.59" r="1.5" fill="#000"/>
<circle cx="141.53" cy="638.16" r="1.5" fill="#000"/>
<circle cx="61.91" cy="636.6" r="1.5" fill="#000"/>
<circle cx="47.24" cy="639.14" r="1.5" fill="#000"/>
<circle cx="49.58" cy="635.81" r="1.5" fill="#000"/>
<circle cx="50.17" cy="632.29" r="1.5" fill="#000"/>
<circle cx="43.72" cy="632.88" r="1.5" fill="#000"/>
<circle cx="80.3" cy="631.31" r="1.5" fill="#000"/>
<circle cx="81.47" cy="628.38" r="1.5" fill="#000"/>
<circle cx="68.17" cy="626.42" r="1.5" fill="#000"/>
<circle cx="56.43" cy="625.45" r="1.5" fill="#000"/>
<circle cx="59.36" cy="624.86" r="1.5" fill="#000"/>
<circle cx="108.86" cy="632.29" r="1.5" fill="#000"/>
<circle cx="111.6" cy="632.88" r="1.5" fill="#000"/>
<circle cx="118.64" cy="627.99" r="1.5" fill="#000"/>
<circle cx="125.88" cy="628.38" r="1.5" fill="#000"/>
<circle cx="127.83" cy="627.4" r="1.5" fill="#000"/>
<circle cx="131.16" cy="628.77" r="1.5" fill="#000"/>
<circle cx="133.7" cy="631.31" r="1.5" fill="#000"/>
<circle cx="147.39" cy="633.27" r="1.5" fill="#000"/>
<circle cx="140.94" cy="626.03" r="1.5" fill="#000"/>
<circle cx="149.94" cy="624.08" r="1.5" fill="#000"/>
<circle cx="155.22" cy="622.51" r="1.5" fill="#000"/>
<circle cx="146.02" cy="622.12" r="1.5" fill="#000"/>
<circle cx="128.81" cy="622.12" r="1.5" fill="#000"/>
<circle cx="117.46" cy="620.55" r="1.5" fill="#000"/>
<circle cx="109.64" cy="622.12" r="1.5" fill="#000"/>
<circle cx="105.34" cy="620.55" r="1.5" fill="#000"/>
<circle cx="87.73" cy="622.51" r="1.5" fill="#000"/>
<circle cx="89.29" cy="622.9" r="1.5" fill="#000"/>
<circle cx="84.8" cy="620.95" r="1.5" fill="#000"/>
<circle cx="48.61" cy="620.95" r="1.5" fill="#000"/>
<line x1="31.6" y1="617.6" x2="164.5" y2="617.6" stroke="#E4232A" stroke-width="2.2" stroke-dasharray="10.5 10.5"/>
<path d="M36.87 617.62 L37.6 617.46 L38.53 617.25 L39.65 616.99 L40.9 616.7 L42.27 616.41 L43.7 616.13 L45.17 615.88 L46.65 615.66 L48.07 615.48 L49.43 615.31 L50.81 615.14 L52.27 614.99 L53.89 614.87 L55.73 614.77 L57.86 614.71 L60.34 614.69 L63.26 614.73 L66.58 614.84 L70.2 615 L74.04 615.18 L77.99 615.35 L81.98 615.51 L85.91 615.62 L89.69 615.66 L93.41 615.64 L97.21 615.57 L101.03 615.47 L104.85 615.33 L108.6 615.18 L112.24 615.02 L115.74 614.85 L119.03 614.69 L122.12 614.53 L125.05 614.38 L127.84 614.22 L130.52 614.05 L133.11 613.86 L135.63 613.65 L138.1 613.41 L140.55 613.12 L143.06 612.77 L145.64 612.34 L148.21 611.86 L150.7 611.36 L153.01 610.88 L155.08 610.43 L156.82 610.06 L158.15 609.8 L158.15 620.55 L156.82 620.47 L155.08 620.36 L153.01 620.22 L150.7 620.07 L148.21 619.91 L145.64 619.78 L143.06 619.66 L140.55 619.58 L138.1 619.52 L135.63 619.48 L133.11 619.46 L130.52 619.45 L127.84 619.46 L125.05 619.48 L122.12 619.52 L119.03 619.58 L115.74 619.66 L112.24 619.78 L108.6 619.91 L104.85 620.07 L101.03 620.22 L97.21 620.36 L93.41 620.47 L89.69 620.55 L85.91 620.58 L81.98 620.55 L77.99 620.5 L74.04 620.43 L70.2 620.38 L66.58 620.37 L63.26 620.42 L60.34 620.55 L57.86 620.77 L55.73 621.04 L53.89 621.35 L52.27 621.72 L50.81 622.12 L49.43 622.55 L48.07 623.01 L46.65 623.49 L45.17 624.04 L43.7 624.69 L42.27 625.39 L40.9 626.12 L39.65 626.82 L38.53 627.45 L37.6 627.99 L36.87 628.38 Z" fill="#999" fill-opacity="0.3"/>
<path d="M37.85 622.51 L38.49 622.28 L39.31 621.96 L40.29 621.58 L41.39 621.17 L42.6 620.73 L43.9 620.31 L45.26 619.92 L46.65 619.58 L48.15 619.27 L49.82 618.98 L51.6 618.7 L53.44 618.44 L55.28 618.2 L57.08 617.98 L58.79 617.78 L60.34 617.62 L61.75 617.49 L63.06 617.38 L64.3 617.3 L65.48 617.24 L66.63 617.21 L67.77 617.19 L68.93 617.2 L70.12 617.23 L71.35 617.29 L72.57 617.4 L73.79 617.54 L75.01 617.69 L76.24 617.85 L77.46 618 L78.68 618.12 L79.91 618.21 L81.13 618.26 L82.35 618.29 L83.57 618.3 L84.8 618.29 L86.02 618.28 L87.24 618.26 L88.46 618.23 L89.69 618.21 L90.91 618.18 L92.13 618.14 L93.35 618.1 L94.58 618.05 L95.8 617.99 L97.02 617.94 L98.24 617.88 L99.47 617.82 L100.69 617.75 L101.91 617.68 L103.14 617.61 L104.36 617.53 L105.58 617.46 L106.8 617.38 L108.03 617.3 L109.25 617.23 L110.47 617.15 L111.69 617.07 L112.92 616.98 L114.14 616.9 L115.36 616.82 L116.58 616.75 L117.81 616.69 L119.03 616.64 L120.24 616.61 L121.43 616.6 L122.61 616.6 L123.8 616.61 L125 616.62 L126.23 616.63 L127.49 616.64 L128.81 616.64 L130.16 616.65 L131.52 616.65 L132.9 616.66 L134.31 616.67 L135.77 616.67 L137.29 616.67 L138.88 616.66 L140.55 616.64 L142.42 616.61 L144.55 616.56 L146.82 616.51 L149.11 616.45 L151.3 616.39 L153.29 616.33 L154.96 616.28 L156.2 616.25" fill="none" stroke="#1F4AA8" stroke-width="2.5" stroke-dasharray="11 10.5"/>
<rect x="31.6" y="560.3" width="132.9" height="126.3" fill="none" stroke="#333" stroke-width="1"/>
<rect x="31.6" y="545.6" width="132.9" height="14" fill="#D9D9D9" stroke="#333" stroke-width="1"/>
<text x="98" y="551.8" font-size="5.7" text-anchor="middle" fill="#1A1A1A" stroke="#1A1A1A" stroke-width="0.15">Alcohol consumption (Occasional, frequent or</text>
<text x="98.9" y="557.9" font-size="5.7" text-anchor="middle" fill="#1A1A1A" stroke="#1A1A1A" stroke-width="0.15">even daily)</text>
<line x1="37" y1="686.6" x2="37" y2="688.7" stroke="#333" stroke-width="0.9"/>
<text x="37" y="696.1" font-size="6.3" text-anchor="middle" fill="#333" stroke="#333" stroke-width="0.15">0</text>
<line x1="72.1" y1="686.6" x2="72.1" y2="688.7" stroke="#333" stroke-width="0.9"/>
<text x="72.1" y="696.1" font-size="6.3" text-anchor="middle" fill="#333" stroke="#333" stroke-width="0.15">50</text>
<line x1="107.2" y1="686.6" x2="107.2" y2="688.7" stroke="#333" stroke-width="0.9"/>
<text x="107.2" y="696.1" font-size="6.3" text-anchor="middle" fill="#333" stroke="#333" stroke-width="0.15">100</text>
<line x1="142.3" y1="686.6" x2="142.3" y2="688.7" stroke="#333" stroke-width="0.9"/>
<text x="142.3" y="696.1" font-size="6.3" text-anchor="middle" fill="#333" stroke="#333" stroke-width="0.15">150</text>
<line x1="29.5" y1="575.2" x2="31.6" y2="575.2" stroke="#333" stroke-width="0.9"/>
<text x="27.5" y="577.7" font-size="6.3" text-anchor="end" fill="#333" stroke="#333" stroke-width="0.15">0.10</text>
<line x1="29.5" y1="596.4" x2="31.6" y2="596.4" stroke="#333" stroke-width="0.9"/>
<text x="27.5" y="598.9" font-size="6.3" text-anchor="end" fill="#333" stroke="#333" stroke-width="0.15">0.05</text>
<line x1="29.5" y1="617.6" x2="31.6" y2="617.6" stroke="#333" stroke-width="0.9"/>
<text x="27.5" y="620.1" font-size="6.3" text-anchor="end" fill="#333" stroke="#333" stroke-width="0.15">0.00</text>
<line x1="29.5" y1="638.8" x2="31.6" y2="638.8" stroke="#333" stroke-width="0.9"/>
<text x="27.5" y="641.3" font-size="6.3" text-anchor="end" fill="#333" stroke="#333" stroke-width="0.15">−0.05</text>
<line x1="29.5" y1="660" x2="31.6" y2="660" stroke="#333" stroke-width="0.9"/>
<text x="27.5" y="662.5" font-size="6.3" text-anchor="end" fill="#333" stroke="#333" stroke-width="0.15">−0.10</text>
<line x1="29.5" y1="681.2" x2="31.6" y2="681.2" stroke="#333" stroke-width="0.9"/>
<text x="27.5" y="683.7" font-size="6.3" text-anchor="end" fill="#333" stroke="#333" stroke-width="0.15">−0.15</text>
<text x="94.3" y="702.9" font-size="6.3" text-anchor="middle" stroke="#000" stroke-width="0.15">Observation Id</text>
<text x="11.3" y="626" font-size="6.3" text-anchor="middle" transform="rotate(-90 11.3 626)" stroke="#000" stroke-width="0.15">Residuals (type = dfbeta)</text>
<rect x="205.3" y="556.6" width="132.5" height="130" fill="#fff" stroke="none" stroke-width="1"/>
<line x1="210.2" y1="556.6" x2="210.2" y2="686.6" stroke="#EBEBEB" stroke-width="0.9"/>
<line x1="227.83" y1="556.6" x2="227.83" y2="686.6" stroke="#EBEBEB" stroke-width="0.6"/>
<line x1="245.46" y1="556.6" x2="245.46" y2="686.6" stroke="#EBEBEB" stroke-width="0.9"/>
<line x1="263.1" y1="556.6" x2="263.1" y2="686.6" stroke="#EBEBEB" stroke-width="0.6"/>
<line x1="280.73" y1="556.6" x2="280.73" y2="686.6" stroke="#EBEBEB" stroke-width="0.9"/>
<line x1="298.36" y1="556.6" x2="298.36" y2="686.6" stroke="#EBEBEB" stroke-width="0.6"/>
<line x1="316" y1="556.6" x2="316" y2="686.6" stroke="#EBEBEB" stroke-width="0.9"/>
<line x1="333.63" y1="556.6" x2="333.63" y2="686.6" stroke="#EBEBEB" stroke-width="0.6"/>
<line x1="205.3" y1="680.5" x2="337.8" y2="680.5" stroke="#EBEBEB" stroke-width="0.9"/>
<line x1="205.3" y1="657.65" x2="337.8" y2="657.65" stroke="#EBEBEB" stroke-width="0.6"/>
<line x1="205.3" y1="634.8" x2="337.8" y2="634.8" stroke="#EBEBEB" stroke-width="0.9"/>
<line x1="205.3" y1="611.95" x2="337.8" y2="611.95" stroke="#EBEBEB" stroke-width="0.6"/>
<line x1="205.3" y1="589.1" x2="337.8" y2="589.1" stroke="#EBEBEB" stroke-width="0.9"/>
<line x1="205.3" y1="566.25" x2="337.8" y2="566.25" stroke="#EBEBEB" stroke-width="0.6"/>
<circle cx="213.73" cy="641.17" r="1.5" fill="#000"/>
<circle cx="214.43" cy="632.98" r="1.5" fill="#000"/>
<circle cx="217.25" cy="635.81" r="1.5" fill="#000"/>
<circle cx="220.78" cy="637.89" r="1.5" fill="#000"/>
<circle cx="222.19" cy="642.55" r="1.5" fill="#000"/>
<circle cx="225.72" cy="636.81" r="1.5" fill="#000"/>
<circle cx="231.36" cy="630.09" r="1.5" fill="#000"/>
<circle cx="232.77" cy="636.86" r="1.5" fill="#000"/>
<circle cx="233.47" cy="631.49" r="1.5" fill="#000"/>
<circle cx="237.71" cy="639.56" r="1.5" fill="#000"/>
<circle cx="238.41" cy="634.3" r="1.5" fill="#000"/>
<circle cx="239.82" cy="641.29" r="1.5" fill="#000"/>
<circle cx="240.53" cy="634.55" r="1.5" fill="#000"/>
<circle cx="242.64" cy="631.38" r="1.5" fill="#000"/>
<circle cx="244.05" cy="629.8" r="1.5" fill="#000"/>
<circle cx="245.46" cy="633.66" r="1.5" fill="#000"/>
<circle cx="246.88" cy="636.46" r="1.5" fill="#000"/>
<circle cx="248.99" cy="639.03" r="1.5" fill="#000"/>
<circle cx="251.81" cy="635.75" r="1.5" fill="#000"/>
<circle cx="256.04" cy="632.13" r="1.5" fill="#000"/>
<circle cx="256.75" cy="636.45" r="1.5" fill="#000"/>
<circle cx="257.46" cy="629.65" r="1.5" fill="#000"/>
<circle cx="259.57" cy="636.39" r="1.5" fill="#000"/>
<circle cx="260.28" cy="631.98" r="1.5" fill="#000"/>
<circle cx="263.1" cy="639.78" r="1.5" fill="#000"/>
<circle cx="267.33" cy="637.7" r="1.5" fill="#000"/>
<circle cx="268.03" cy="635.46" r="1.5" fill="#000"/>
<circle cx="270.15" cy="630.43" r="1.5" fill="#000"/>
<circle cx="270.86" cy="635.88" r="1.5" fill="#000"/>
<circle cx="272.97" cy="635.07" r="1.5" fill="#000"/>
<circle cx="273.68" cy="631.8" r="1.5" fill="#000"/>
<circle cx="274.38" cy="631.47" r="1.5" fill="#000"/>
<circle cx="275.09" cy="638.03" r="1.5" fill="#000"/>
<circle cx="276.5" cy="632.04" r="1.5" fill="#000"/>
<circle cx="279.32" cy="634.71" r="1.5" fill="#000"/>
<circle cx="283.55" cy="637.63" r="1.5" fill="#000"/>
<circle cx="285.67" cy="627.57" r="1.5" fill="#000"/>
<circle cx="289.9" cy="639.02" r="1.5" fill="#000"/>
<circle cx="291.31" cy="636.33" r="1.5" fill="#000"/>
<circle cx="298.36" cy="631.04" r="1.5" fill="#000"/>
<circle cx="300.48" cy="630.16" r="1.5" fill="#000"/>
<circle cx="306.12" cy="629.71" r="1.5" fill="#000"/>
<circle cx="309.65" cy="637.45" r="1.5" fill="#000"/>
<circle cx="311.06" cy="625.5" r="1.5" fill="#000"/>
<circle cx="312.47" cy="637.58" r="1.5" fill="#000"/>
<circle cx="313.17" cy="634.95" r="1.5" fill="#000"/>
<circle cx="314.58" cy="632.04" r="1.5" fill="#000"/>
<circle cx="316" cy="632.72" r="1.5" fill="#000"/>
<circle cx="319.52" cy="633.57" r="1.5" fill="#000"/>
<circle cx="323.75" cy="634.51" r="1.5" fill="#000"/>
<circle cx="325.16" cy="638.58" r="1.5" fill="#000"/>
<circle cx="330.81" cy="632.77" r="1.5" fill="#000"/>
<circle cx="331.51" cy="639.53" r="1.5" fill="#000"/>
<circle cx="210.87" cy="681.2" r="1.5" fill="#000"/>
<circle cx="213.22" cy="674.35" r="1.5" fill="#000"/>
<circle cx="211.85" cy="649.51" r="1.5" fill="#000"/>
<circle cx="216.74" cy="596.69" r="1.5" fill="#000"/>
<circle cx="230.82" cy="590.23" r="1.5" fill="#000"/>
<circle cx="242.17" cy="581.04" r="1.5" fill="#000"/>
<circle cx="327.26" cy="562.26" r="1.5" fill="#000"/>
<circle cx="299.88" cy="587.69" r="1.5" fill="#000"/>
<circle cx="306.72" cy="583.78" r="1.5" fill="#000"/>
<circle cx="316.5" cy="583" r="1.5" fill="#000"/>
<circle cx="282.27" cy="592.19" r="1.5" fill="#000"/>
<circle cx="255.47" cy="601.97" r="1.5" fill="#000"/>
<circle cx="249.6" cy="605.88" r="1.5" fill="#000"/>
<circle cx="278.94" cy="603.93" r="1.5" fill="#000"/>
<circle cx="294.59" cy="598.06" r="1.5" fill="#000"/>
<circle cx="294.99" cy="603.93" r="1.5" fill="#000"/>
<circle cx="264.66" cy="607.25" r="1.5" fill="#000"/>
<circle cx="264.08" cy="609.21" r="1.5" fill="#000"/>
<circle cx="253.51" cy="613.12" r="1.5" fill="#000"/>
<circle cx="262.71" cy="616.64" r="1.5" fill="#000"/>
<circle cx="279.73" cy="613.71" r="1.5" fill="#000"/>
<circle cx="289.51" cy="609.21" r="1.5" fill="#000"/>
<circle cx="287.16" cy="616.25" r="1.5" fill="#000"/>
<circle cx="323.35" cy="605.88" r="1.5" fill="#000"/>
<circle cx="326.28" cy="605.88" r="1.5" fill="#000"/>
<circle cx="216.35" cy="621.53" r="1.5" fill="#000"/>
<circle cx="222.61" cy="620.95" r="1.5" fill="#000"/>
<circle cx="226.13" cy="620.16" r="1.5" fill="#000"/>
<circle cx="223.58" cy="623.49" r="1.5" fill="#000"/>
<circle cx="234.73" cy="618.21" r="1.5" fill="#000"/>
<circle cx="248.04" cy="621.53" r="1.5" fill="#000"/>
<circle cx="254.88" cy="624.08" r="1.5" fill="#000"/>
<circle cx="232.39" cy="626.81" r="1.5" fill="#000"/>
<circle cx="212.82" cy="627.4" r="1.5" fill="#000"/>
<circle cx="221.63" cy="629.36" r="1.5" fill="#000"/>
<circle cx="224.56" cy="631.31" r="1.5" fill="#000"/>
<circle cx="228.08" cy="631.9" r="1.5" fill="#000"/>
<circle cx="253.91" cy="630.34" r="1.5" fill="#000"/>
<circle cx="252.93" cy="631.31" r="1.5" fill="#000"/>
<circle cx="266.62" cy="627.99" r="1.5" fill="#000"/>
<circle cx="272.49" cy="624.86" r="1.5" fill="#000"/>
<circle cx="282.86" cy="620.55" r="1.5" fill="#000"/>
<circle cx="285.2" cy="625.45" r="1.5" fill="#000"/>
<circle cx="280.31" cy="628.38" r="1.5" fill="#000"/>
<circle cx="292.64" cy="621.53" r="1.5" fill="#000"/>
<circle cx="294.01" cy="622.12" r="1.5" fill="#000"/>
<circle cx="301.25" cy="619.58" r="1.5" fill="#000"/>
<circle cx="302.42" cy="620.95" r="1.5" fill="#000"/>
<circle cx="310.64" cy="623.49" r="1.5" fill="#000"/>
<circle cx="308.68" cy="627.99" r="1.5" fill="#000"/>
<circle cx="320.02" cy="626.81" r="1.5" fill="#000"/>
<circle cx="324.72" cy="631.9" r="1.5" fill="#000"/>
<circle cx="215.76" cy="633.27" r="1.5" fill="#000"/>
<circle cx="219.67" cy="635.81" r="1.5" fill="#000"/>
<circle cx="237.28" cy="633.27" r="1.5" fill="#000"/>
<circle cx="243.15" cy="631.9" r="1.5" fill="#000"/>
<circle cx="245.1" cy="633.27" r="1.5" fill="#000"/>
<circle cx="250.97" cy="636.2" r="1.5" fill="#000"/>
<circle cx="257.82" cy="635.23" r="1.5" fill="#000"/>
<circle cx="261.73" cy="636.6" r="1.5" fill="#000"/>
<circle cx="269.55" cy="633.86" r="1.5" fill="#000"/>
<circle cx="271.51" cy="636.2" r="1.5" fill="#000"/>
<circle cx="276.99" cy="634.25" r="1.5" fill="#000"/>
<circle cx="287.16" cy="632.68" r="1.5" fill="#000"/>
<circle cx="289.12" cy="636.2" r="1.5" fill="#000"/>
<circle cx="292.05" cy="635.23" r="1.5" fill="#000"/>
<circle cx="296.94" cy="637.18" r="1.5" fill="#000"/>
<circle cx="301.83" cy="636.6" r="1.5" fill="#000"/>
<circle cx="303.79" cy="636.2" r="1.5" fill="#000"/>
<circle cx="307.7" cy="633.86" r="1.5" fill="#000"/>
<circle cx="313.57" cy="634.25" r="1.5" fill="#000"/>
<circle cx="318.85" cy="637.18" r="1.5" fill="#000"/>
<circle cx="322.37" cy="636.2" r="1.5" fill="#000"/>
<circle cx="330.2" cy="634.25" r="1.5" fill="#000"/>
<circle cx="332.15" cy="635.23" r="1.5" fill="#000"/>
<circle cx="229.45" cy="647.94" r="1.5" fill="#000"/>
<circle cx="241.19" cy="648.33" r="1.5" fill="#000"/>
<circle cx="218.69" cy="652.83" r="1.5" fill="#000"/>
<circle cx="217.72" cy="661.64" r="1.5" fill="#000"/>
<circle cx="220.26" cy="667.5" r="1.5" fill="#000"/>
<circle cx="226.91" cy="667.5" r="1.5" fill="#000"/>
<circle cx="228.08" cy="660.66" r="1.5" fill="#000"/>
<circle cx="235.32" cy="667.5" r="1.5" fill="#000"/>
<circle cx="235.91" cy="656.74" r="1.5" fill="#000"/>
<circle cx="246.47" cy="657.72" r="1.5" fill="#000"/>
<circle cx="247.65" cy="659.68" r="1.5" fill="#000"/>
<circle cx="250.38" cy="645.01" r="1.5" fill="#000"/>
<circle cx="258.21" cy="652.83" r="1.5" fill="#000"/>
<circle cx="261.34" cy="660.66" r="1.5" fill="#000"/>
<circle cx="265.25" cy="671.81" r="1.5" fill="#000"/>
<circle cx="266.62" cy="663.59" r="1.5" fill="#000"/>
<circle cx="268.58" cy="643.05" r="1.5" fill="#000"/>
<circle cx="275.81" cy="649.51" r="1.5" fill="#000"/>
<circle cx="277.77" cy="645.01" r="1.5" fill="#000"/>
<circle cx="280.9" cy="645.01" r="1.5" fill="#000"/>
<circle cx="284.23" cy="641.09" r="1.5" fill="#000"/>
<circle cx="286.18" cy="645.59" r="1.5" fill="#000"/>
<circle cx="290.68" cy="645.59" r="1.5" fill="#000"/>
<circle cx="292.64" cy="656.16" r="1.5" fill="#000"/>
<circle cx="295.38" cy="643.64" r="1.5" fill="#000"/>
<circle cx="296.94" cy="645.59" r="1.5" fill="#000"/>
<circle cx="299.29" cy="652.83" r="1.5" fill="#000"/>
<circle cx="303.2" cy="652.25" r="1.5" fill="#000"/>
<circle cx="305.74" cy="658.11" r="1.5" fill="#000"/>
<circle cx="304.77" cy="641.09" r="1.5" fill="#000"/>
<circle cx="307.7" cy="639.14" r="1.5" fill="#000"/>
<circle cx="311.61" cy="641.68" r="1.5" fill="#000"/>
<circle cx="315.53" cy="654.79" r="1.5" fill="#000"/>
<circle cx="316.89" cy="642.07" r="1.5" fill="#000"/>
<circle cx="318.07" cy="645.59" r="1.5" fill="#000"/>
<circle cx="322.37" cy="657.72" r="1.5" fill="#000"/>
<circle cx="320.42" cy="674.35" r="1.5" fill="#000"/>
<circle cx="328.24" cy="673.96" r="1.5" fill="#000"/>
<circle cx="329.22" cy="666.53" r="1.5" fill="#000"/>
<circle cx="326.28" cy="641.09" r="1.5" fill="#000"/>
<circle cx="327.26" cy="639.73" r="1.5" fill="#000"/>
<circle cx="230.04" cy="639.14" r="1.5" fill="#000"/>
<circle cx="234.34" cy="640.51" r="1.5" fill="#000"/>
<circle cx="239.23" cy="639.73" r="1.5" fill="#000"/>
<circle cx="224.56" cy="638.55" r="1.5" fill="#000"/>
<line x1="205.3" y1="634.8" x2="337.8" y2="634.8" stroke="#E4232A" stroke-width="2.2" stroke-dasharray="10.5 10.5"/>
<path d="M210.87 637.77 L211.6 637.49 L212.53 637.11 L213.65 636.66 L214.9 636.16 L216.27 635.64 L217.7 635.13 L219.17 634.66 L220.65 634.25 L222.13 633.89 L223.66 633.54 L225.24 633.2 L226.89 632.89 L228.61 632.6 L230.42 632.34 L232.32 632.1 L234.34 631.9 L236.51 631.76 L238.82 631.68 L241.25 631.64 L243.76 631.62 L246.31 631.6 L248.88 631.56 L251.42 631.47 L253.91 631.31 L256.39 631.09 L258.93 630.81 L261.5 630.49 L264.05 630.15 L266.56 629.8 L268.99 629.44 L271.3 629.09 L273.47 628.77 L275.45 628.44 L277.26 628.07 L278.95 627.69 L280.56 627.32 L282.14 626.98 L283.74 626.7 L285.4 626.51 L287.16 626.42 L289.02 626.47 L290.94 626.63 L292.89 626.88 L294.86 627.19 L296.86 627.53 L298.85 627.86 L300.84 628.15 L302.81 628.38 L304.78 628.57 L306.77 628.76 L308.76 628.95 L310.76 629.11 L312.73 629.25 L314.68 629.34 L316.6 629.38 L318.46 629.36 L320.36 629.24 L322.34 629.03 L324.34 628.75 L326.28 628.44 L328.11 628.12 L329.74 627.82 L331.11 627.57 L332.15 627.4 L332.15 646.96 L331.11 646.32 L329.74 645.43 L328.11 644.37 L326.28 643.21 L324.34 642.03 L322.34 640.91 L320.36 639.92 L318.46 639.14 L316.6 638.56 L314.68 638.1 L312.73 637.75 L310.76 637.46 L308.76 637.23 L306.77 637.03 L304.78 636.82 L302.81 636.6 L300.84 636.35 L298.85 636.09 L296.86 635.85 L294.86 635.63 L292.89 635.44 L290.94 635.31 L289.02 635.23 L287.16 635.23 L285.4 635.32 L283.74 635.5 L282.14 635.76 L280.56 636.06 L278.95 636.37 L277.26 636.68 L275.45 636.96 L273.47 637.18 L271.3 637.35 L268.99 637.48 L266.56 637.6 L264.05 637.7 L261.5 637.79 L258.93 637.9 L256.39 638.02 L253.91 638.16 L251.42 638.29 L248.88 638.38 L246.31 638.46 L243.76 638.55 L241.25 638.7 L238.82 638.92 L236.51 639.25 L234.34 639.73 L232.32 640.35 L230.42 641.12 L228.61 642 L226.89 642.95 L225.24 643.96 L223.66 644.98 L222.13 645.99 L220.65 646.96 L219.17 647.97 L217.7 649.06 L216.27 650.2 L214.9 651.33 L213.65 652.4 L212.53 653.37 L211.6 654.18 L210.87 654.79 Z" fill="#999" fill-opacity="0.3"/>
<path d="M211.85 645.01 L212.52 644.65 L213.41 644.17 L214.46 643.6 L215.64 642.97 L216.89 642.31 L218.17 641.66 L219.44 641.05 L220.65 640.51 L221.83 640.03 L223.03 639.56 L224.25 639.11 L225.48 638.69 L226.72 638.28 L227.96 637.89 L229.2 637.52 L230.43 637.18 L231.64 636.86 L232.83 636.56 L234.01 636.28 L235.2 636.02 L236.4 635.79 L237.63 635.57 L238.9 635.39 L240.21 635.23 L241.59 635.1 L243.01 635.02 L244.47 634.97 L245.96 634.95 L247.46 634.93 L248.97 634.91 L250.47 634.88 L251.95 634.84 L253.43 634.78 L254.93 634.73 L256.44 634.67 L257.94 634.61 L259.43 634.55 L260.89 634.47 L262.31 634.37 L263.69 634.25 L265 634.1 L266.27 633.93 L267.5 633.75 L268.7 633.55 L269.89 633.34 L271.07 633.12 L272.26 632.9 L273.47 632.68 L274.7 632.44 L275.96 632.18 L277.22 631.89 L278.48 631.61 L279.72 631.33 L280.94 631.09 L282.12 630.88 L283.25 630.73 L284.32 630.63 L285.34 630.56 L286.33 630.53 L287.28 630.53 L288.22 630.56 L289.16 630.6 L290.11 630.66 L291.07 630.73 L292.05 630.82 L293.03 630.93 L294.01 631.07 L294.99 631.23 L295.96 631.39 L296.94 631.57 L297.92 631.74 L298.9 631.9 L299.86 632.07 L300.81 632.24 L301.75 632.42 L302.69 632.6 L303.65 632.78 L304.63 632.95 L305.65 633.12 L306.72 633.27 L307.84 633.4 L309.01 633.51 L310.2 633.61 L311.43 633.7 L312.68 633.8 L313.94 633.92 L315.22 634.06 L316.5 634.25 L317.88 634.49 L319.38 634.79 L320.94 635.13 L322.49 635.48 L323.97 635.83 L325.31 636.14 L326.43 636.41 L327.26 636.6" fill="none" stroke="#1F4AA8" stroke-width="2.5" stroke-dasharray="11 10.5"/>
<rect x="205.3" y="556.6" width="132.5" height="130" fill="none" stroke="#333" stroke-width="1"/>
<rect x="205.3" y="545.6" width="132.5" height="10.2" fill="#D9D9D9" stroke="#333" stroke-width="1"/>
<text x="270.55" y="552.9" font-size="6.3" text-anchor="middle" fill="#1A1A1A" stroke="#1A1A1A" stroke-width="0.15">Physical activity (Regular activity)</text>
<line x1="210.2" y1="686.6" x2="210.2" y2="688.7" stroke="#333" stroke-width="0.9"/>
<text x="210.2" y="696.1" font-size="6.3" text-anchor="middle" fill="#333" stroke="#333" stroke-width="0.15">0</text>
<line x1="245.46" y1="686.6" x2="245.46" y2="688.7" stroke="#333" stroke-width="0.9"/>
<text x="245.46" y="696.1" font-size="6.3" text-anchor="middle" fill="#333" stroke="#333" stroke-width="0.15">50</text>
<line x1="280.73" y1="686.6" x2="280.73" y2="688.7" stroke="#333" stroke-width="0.9"/>
<text x="280.73" y="696.1" font-size="6.3" text-anchor="middle" fill="#333" stroke="#333" stroke-width="0.15">100</text>
<line x1="316" y1="686.6" x2="316" y2="688.7" stroke="#333" stroke-width="0.9"/>
<text x="316" y="696.1" font-size="6.3" text-anchor="middle" fill="#333" stroke="#333" stroke-width="0.15">150</text>
<line x1="203.2" y1="589.1" x2="205.3" y2="589.1" stroke="#333" stroke-width="0.9"/>
<text x="201.2" y="591.6" font-size="6.3" text-anchor="end" fill="#333" stroke="#333" stroke-width="0.15">0.05</text>
<line x1="203.2" y1="634.8" x2="205.3" y2="634.8" stroke="#333" stroke-width="0.9"/>
<text x="201.2" y="637.3" font-size="6.3" text-anchor="end" fill="#333" stroke="#333" stroke-width="0.15">0.00</text>
<line x1="203.2" y1="680.5" x2="205.3" y2="680.5" stroke="#333" stroke-width="0.9"/>
<text x="201.2" y="683" font-size="6.3" text-anchor="end" fill="#333" stroke="#333" stroke-width="0.15">−0.05</text>
<text x="267.5" y="702.9" font-size="6.3" text-anchor="middle" stroke="#000" stroke-width="0.15">Observation Id</text>
<text x="182.7" y="626" font-size="6.3" text-anchor="middle" transform="rotate(-90 182.7 626)" stroke="#000" stroke-width="0.15">Residuals (type = dfbeta)</text>
<rect x="377.5" y="556.6" width="132.5" height="130" fill="#fff" stroke="none" stroke-width="1"/>
<line x1="382.9" y1="556.6" x2="382.9" y2="686.6" stroke="#EBEBEB" stroke-width="0.9"/>
<line x1="400.53" y1="556.6" x2="400.53" y2="686.6" stroke="#EBEBEB" stroke-width="0.6"/>
<line x1="418.16" y1="556.6" x2="418.16" y2="686.6" stroke="#EBEBEB" stroke-width="0.9"/>
<line x1="435.8" y1="556.6" x2="435.8" y2="686.6" stroke="#EBEBEB" stroke-width="0.6"/>
<line x1="453.43" y1="556.6" x2="453.43" y2="686.6" stroke="#EBEBEB" stroke-width="0.9"/>
<line x1="471.06" y1="556.6" x2="471.06" y2="686.6" stroke="#EBEBEB" stroke-width="0.6"/>
<line x1="488.69" y1="556.6" x2="488.69" y2="686.6" stroke="#EBEBEB" stroke-width="0.9"/>
<line x1="506.33" y1="556.6" x2="506.33" y2="686.6" stroke="#EBEBEB" stroke-width="0.6"/>
<line x1="377.5" y1="681.05" x2="510" y2="681.05" stroke="#EBEBEB" stroke-width="0.9"/>
<line x1="377.5" y1="670.52" x2="510" y2="670.52" stroke="#EBEBEB" stroke-width="0.6"/>
<line x1="377.5" y1="660" x2="510" y2="660" stroke="#EBEBEB" stroke-width="0.9"/>
<line x1="377.5" y1="649.48" x2="510" y2="649.48" stroke="#EBEBEB" stroke-width="0.6"/>
<line x1="377.5" y1="638.95" x2="510" y2="638.95" stroke="#EBEBEB" stroke-width="0.9"/>
<line x1="377.5" y1="628.42" x2="510" y2="628.42" stroke="#EBEBEB" stroke-width="0.6"/>
<line x1="377.5" y1="617.9" x2="510" y2="617.9" stroke="#EBEBEB" stroke-width="0.9"/>
<line x1="377.5" y1="607.38" x2="510" y2="607.38" stroke="#EBEBEB" stroke-width="0.6"/>
<line x1="377.5" y1="596.85" x2="510" y2="596.85" stroke="#EBEBEB" stroke-width="0.9"/>
<line x1="377.5" y1="586.32" x2="510" y2="586.32" stroke="#EBEBEB" stroke-width="0.6"/>
<line x1="377.5" y1="575.8" x2="510" y2="575.8" stroke="#EBEBEB" stroke-width="0.9"/>
<line x1="377.5" y1="565.27" x2="510" y2="565.27" stroke="#EBEBEB" stroke-width="0.6"/>
<circle cx="386.43" cy="617.25" r="1.5" fill="#000"/>
<circle cx="387.84" cy="618.78" r="1.5" fill="#000"/>
<circle cx="390.66" cy="617.31" r="1.5" fill="#000"/>
<circle cx="392.07" cy="617.13" r="1.5" fill="#000"/>
<circle cx="393.48" cy="615.9" r="1.5" fill="#000"/>
<circle cx="394.18" cy="617.33" r="1.5" fill="#000"/>
<circle cx="395.6" cy="619.98" r="1.5" fill="#000"/>
<circle cx="396.3" cy="618.61" r="1.5" fill="#000"/>
<circle cx="397.01" cy="619.83" r="1.5" fill="#000"/>
<circle cx="397.71" cy="618.26" r="1.5" fill="#000"/>
<circle cx="398.42" cy="618.55" r="1.5" fill="#000"/>
<circle cx="399.12" cy="618.13" r="1.5" fill="#000"/>
<circle cx="401.94" cy="614.43" r="1.5" fill="#000"/>
<circle cx="404.06" cy="619.47" r="1.5" fill="#000"/>
<circle cx="404.76" cy="618.77" r="1.5" fill="#000"/>
<circle cx="405.47" cy="618.76" r="1.5" fill="#000"/>
<circle cx="406.17" cy="614.38" r="1.5" fill="#000"/>
<circle cx="409" cy="614.27" r="1.5" fill="#000"/>
<circle cx="409.7" cy="615.98" r="1.5" fill="#000"/>
<circle cx="410.41" cy="616.82" r="1.5" fill="#000"/>
<circle cx="411.11" cy="618.37" r="1.5" fill="#000"/>
<circle cx="411.82" cy="617.67" r="1.5" fill="#000"/>
<circle cx="412.52" cy="618.8" r="1.5" fill="#000"/>
<circle cx="413.23" cy="616.48" r="1.5" fill="#000"/>
<circle cx="413.93" cy="618.38" r="1.5" fill="#000"/>
<circle cx="415.34" cy="618.55" r="1.5" fill="#000"/>
<circle cx="416.05" cy="616.44" r="1.5" fill="#000"/>
<circle cx="416.75" cy="621.2" r="1.5" fill="#000"/>
<circle cx="418.87" cy="618.87" r="1.5" fill="#000"/>
<circle cx="419.58" cy="620.15" r="1.5" fill="#000"/>
<circle cx="420.28" cy="616.52" r="1.5" fill="#000"/>
<circle cx="421.69" cy="616.28" r="1.5" fill="#000"/>
<circle cx="423.81" cy="617.07" r="1.5" fill="#000"/>
<circle cx="424.51" cy="617.55" r="1.5" fill="#000"/>
<circle cx="426.63" cy="619.02" r="1.5" fill="#000"/>
<circle cx="428.04" cy="618.26" r="1.5" fill="#000"/>
<circle cx="429.45" cy="616.87" r="1.5" fill="#000"/>
<circle cx="430.16" cy="615.85" r="1.5" fill="#000"/>
<circle cx="431.57" cy="616.72" r="1.5" fill="#000"/>
<circle cx="432.27" cy="620.2" r="1.5" fill="#000"/>
<circle cx="432.98" cy="616.14" r="1.5" fill="#000"/>
<circle cx="435.09" cy="618.25" r="1.5" fill="#000"/>
<circle cx="435.8" cy="618.61" r="1.5" fill="#000"/>
<circle cx="436.5" cy="614.79" r="1.5" fill="#000"/>
<circle cx="437.21" cy="617.88" r="1.5" fill="#000"/>
<circle cx="439.32" cy="620.43" r="1.5" fill="#000"/>
<circle cx="440.03" cy="613.8" r="1.5" fill="#000"/>
<circle cx="440.73" cy="617.19" r="1.5" fill="#000"/>
<circle cx="442.15" cy="617.64" r="1.5" fill="#000"/>
<circle cx="442.85" cy="616.23" r="1.5" fill="#000"/>
<circle cx="444.97" cy="618.89" r="1.5" fill="#000"/>
<circle cx="445.67" cy="617.79" r="1.5" fill="#000"/>
<circle cx="447.08" cy="615" r="1.5" fill="#000"/>
<circle cx="447.79" cy="619.6" r="1.5" fill="#000"/>
<circle cx="449.2" cy="619.3" r="1.5" fill="#000"/>
<circle cx="449.9" cy="619.87" r="1.5" fill="#000"/>
<circle cx="453.43" cy="620.91" r="1.5" fill="#000"/>
<circle cx="454.14" cy="618.76" r="1.5" fill="#000"/>
<circle cx="456.25" cy="618.29" r="1.5" fill="#000"/>
<circle cx="457.66" cy="615.46" r="1.5" fill="#000"/>
<circle cx="458.37" cy="619.28" r="1.5" fill="#000"/>
<circle cx="459.78" cy="616.83" r="1.5" fill="#000"/>
<circle cx="460.48" cy="617.15" r="1.5" fill="#000"/>
<circle cx="461.89" cy="615.52" r="1.5" fill="#000"/>
<circle cx="462.6" cy="616.12" r="1.5" fill="#000"/>
<circle cx="464.01" cy="616.99" r="1.5" fill="#000"/>
<circle cx="465.42" cy="620.63" r="1.5" fill="#000"/>
<circle cx="468.24" cy="613.99" r="1.5" fill="#000"/>
<circle cx="469.65" cy="615.14" r="1.5" fill="#000"/>
<circle cx="471.06" cy="618.53" r="1.5" fill="#000"/>
<circle cx="471.77" cy="620.94" r="1.5" fill="#000"/>
<circle cx="475.29" cy="619.22" r="1.5" fill="#000"/>
<circle cx="476" cy="614.27" r="1.5" fill="#000"/>
<circle cx="477.41" cy="613.1" r="1.5" fill="#000"/>
<circle cx="480.23" cy="618.86" r="1.5" fill="#000"/>
<circle cx="480.94" cy="616.68" r="1.5" fill="#000"/>
<circle cx="481.64" cy="615.93" r="1.5" fill="#000"/>
<circle cx="483.05" cy="620.15" r="1.5" fill="#000"/>
<circle cx="483.76" cy="620.41" r="1.5" fill="#000"/>
<circle cx="484.46" cy="618.53" r="1.5" fill="#000"/>
<circle cx="485.17" cy="618.72" r="1.5" fill="#000"/>
<circle cx="486.58" cy="619.12" r="1.5" fill="#000"/>
<circle cx="487.28" cy="621.51" r="1.5" fill="#000"/>
<circle cx="487.99" cy="619.62" r="1.5" fill="#000"/>
<circle cx="490.11" cy="619.62" r="1.5" fill="#000"/>
<circle cx="491.52" cy="619.81" r="1.5" fill="#000"/>
<circle cx="492.22" cy="615.64" r="1.5" fill="#000"/>
<circle cx="492.93" cy="621.41" r="1.5" fill="#000"/>
<circle cx="493.63" cy="620.82" r="1.5" fill="#000"/>
<circle cx="496.45" cy="620.23" r="1.5" fill="#000"/>
<circle cx="497.16" cy="615.29" r="1.5" fill="#000"/>
<circle cx="497.86" cy="618.03" r="1.5" fill="#000"/>
<circle cx="500.69" cy="621.21" r="1.5" fill="#000"/>
<circle cx="502.8" cy="615.9" r="1.5" fill="#000"/>
<circle cx="503.51" cy="619.15" r="1.5" fill="#000"/>
<circle cx="504.21" cy="621.56" r="1.5" fill="#000"/>
<circle cx="504.92" cy="616.9" r="1.5" fill="#000"/>
<circle cx="425.91" cy="562.26" r="1.5" fill="#000"/>
<circle cx="450.36" cy="562.26" r="1.5" fill="#000"/>
<circle cx="474.81" cy="564.41" r="1.5" fill="#000"/>
<circle cx="466.01" cy="581.82" r="1.5" fill="#000"/>
<circle cx="430.8" cy="585.34" r="1.5" fill="#000"/>
<circle cx="383.26" cy="595.52" r="1.5" fill="#000"/>
<circle cx="399.5" cy="601.38" r="1.5" fill="#000"/>
<circle cx="402.43" cy="602.56" r="1.5" fill="#000"/>
<circle cx="383.85" cy="609.21" r="1.5" fill="#000"/>
<circle cx="395" cy="609.8" r="1.5" fill="#000"/>
<circle cx="391.08" cy="611.16" r="1.5" fill="#000"/>
<circle cx="384.82" cy="612.34" r="1.5" fill="#000"/>
<circle cx="386.78" cy="613.12" r="1.5" fill="#000"/>
<circle cx="418.47" cy="608.82" r="1.5" fill="#000"/>
<circle cx="422.97" cy="610.38" r="1.5" fill="#000"/>
<circle cx="424.93" cy="609.8" r="1.5" fill="#000"/>
<circle cx="421.01" cy="612.73" r="1.5" fill="#000"/>
<circle cx="437.64" cy="610.77" r="1.5" fill="#000"/>
<circle cx="444.49" cy="608.82" r="1.5" fill="#000"/>
<circle cx="438.62" cy="612.73" r="1.5" fill="#000"/>
<circle cx="452.9" cy="612.34" r="1.5" fill="#000"/>
<circle cx="457.2" cy="609.21" r="1.5" fill="#000"/>
<circle cx="459.16" cy="608.43" r="1.5" fill="#000"/>
<circle cx="461.51" cy="605.88" r="1.5" fill="#000"/>
<circle cx="465.03" cy="609.8" r="1.5" fill="#000"/>
<circle cx="468.94" cy="610.77" r="1.5" fill="#000"/>
<circle cx="479.7" cy="606.47" r="1.5" fill="#000"/>
<circle cx="486.16" cy="609.8" r="1.5" fill="#000"/>
<circle cx="488.89" cy="611.75" r="1.5" fill="#000"/>
<circle cx="490.46" cy="611.16" r="1.5" fill="#000"/>
<circle cx="482.64" cy="613.12" r="1.5" fill="#000"/>
<circle cx="494.37" cy="614.29" r="1.5" fill="#000"/>
<circle cx="498.28" cy="614.29" r="1.5" fill="#000"/>
<circle cx="502.2" cy="614.29" r="1.5" fill="#000"/>
<circle cx="406.73" cy="613.12" r="1.5" fill="#000"/>
<circle cx="400.47" cy="613.12" r="1.5" fill="#000"/>
<circle cx="473.83" cy="612.73" r="1.5" fill="#000"/>
<circle cx="476.77" cy="614.29" r="1.5" fill="#000"/>
<circle cx="428.84" cy="614.29" r="1.5" fill="#000"/>
<circle cx="433.73" cy="679.24" r="1.5" fill="#000"/>
<circle cx="470.51" cy="681.2" r="1.5" fill="#000"/>
<circle cx="450.94" cy="661.24" r="1.5" fill="#000"/>
<circle cx="499.26" cy="655.77" r="1.5" fill="#000"/>
<circle cx="488.89" cy="647.94" r="1.5" fill="#000"/>
<circle cx="388.74" cy="646.38" r="1.5" fill="#000"/>
<circle cx="385.8" cy="637.18" r="1.5" fill="#000"/>
<circle cx="389.13" cy="632.29" r="1.5" fill="#000"/>
<circle cx="403.41" cy="640.12" r="1.5" fill="#000"/>
<circle cx="407.32" cy="627.99" r="1.5" fill="#000"/>
<circle cx="414.56" cy="645.01" r="1.5" fill="#000"/>
<circle cx="427.47" cy="642.66" r="1.5" fill="#000"/>
<circle cx="434.71" cy="644.42" r="1.5" fill="#000"/>
<circle cx="441.16" cy="633.27" r="1.5" fill="#000"/>
<circle cx="448.4" cy="634.64" r="1.5" fill="#000"/>
<circle cx="454.66" cy="635.23" r="1.5" fill="#000"/>
<circle cx="466.59" cy="635.23" r="1.5" fill="#000"/>
<circle cx="467.38" cy="634.64" r="1.5" fill="#000"/>
<circle cx="472.27" cy="641.09" r="1.5" fill="#000"/>
<circle cx="479.11" cy="641.09" r="1.5" fill="#000"/>
<circle cx="494.76" cy="629.94" r="1.5" fill="#000"/>
<circle cx="495.94" cy="635.81" r="1.5" fill="#000"/>
<circle cx="501.22" cy="627.4" r="1.5" fill="#000"/>
<circle cx="499.26" cy="623.49" r="1.5" fill="#000"/>
<circle cx="478.33" cy="625.45" r="1.5" fill="#000"/>
<circle cx="473.25" cy="621.53" r="1.5" fill="#000"/>
<circle cx="463.46" cy="620.55" r="1.5" fill="#000"/>
<circle cx="455.25" cy="624.47" r="1.5" fill="#000"/>
<circle cx="443.51" cy="623.49" r="1.5" fill="#000"/>
<circle cx="417.69" cy="621.53" r="1.5" fill="#000"/>
<circle cx="422.38" cy="620.55" r="1.5" fill="#000"/>
<circle cx="392.65" cy="621.53" r="1.5" fill="#000"/>
<circle cx="390.3" cy="624.86" r="1.5" fill="#000"/>
<circle cx="401.45" cy="620.55" r="1.5" fill="#000"/>
<circle cx="408.3" cy="619.58" r="1.5" fill="#000"/>
<circle cx="446.45" cy="619.58" r="1.5" fill="#000"/>
<circle cx="451.73" cy="620.55" r="1.5" fill="#000"/>
<line x1="377.5" y1="617.9" x2="510" y2="617.9" stroke="#E4232A" stroke-width="2.2" stroke-dasharray="10.5 10.5"/>
<path d="M382.87 615.66 L384.64 615.67 L386.95 615.68 L389.69 615.69 L392.77 615.7 L396.08 615.71 L399.51 615.71 L402.97 615.69 L406.34 615.66 L409.73 615.61 L413.27 615.55 L416.92 615.46 L420.65 615.37 L424.42 615.28 L428.21 615.2 L431.98 615.13 L435.69 615.08 L439.41 615.05 L443.21 615.02 L447.03 615.01 L450.85 615 L454.6 615.01 L458.24 615.02 L461.74 615.05 L465.03 615.08 L468.12 615.12 L471.05 615.17 L473.84 615.24 L476.52 615.31 L479.11 615.39 L481.63 615.48 L484.1 615.57 L486.55 615.66 L489.06 615.77 L491.64 615.9 L494.21 616.05 L496.7 616.19 L499.01 616.33 L501.08 616.46 L502.82 616.56 L504.15 616.64 L504.15 628.38 L502.82 627.89 L501.08 627.21 L499.01 626.39 L496.7 625.51 L494.21 624.61 L491.64 623.77 L489.06 623.05 L486.55 622.51 L484.03 622.15 L481.4 621.91 L478.68 621.77 L475.91 621.69 L473.13 621.66 L470.36 621.64 L467.65 621.6 L465.03 621.53 L462.56 621.44 L460.23 621.35 L457.98 621.28 L455.74 621.2 L453.43 621.13 L451 621.07 L448.37 621.01 L445.47 620.95 L442.2 620.88 L438.59 620.8 L434.75 620.72 L430.8 620.65 L426.84 620.59 L423 620.55 L419.39 620.54 L416.12 620.55 L413.17 620.6 L410.41 620.66 L407.81 620.74 L405.36 620.84 L403.04 620.96 L400.81 621.12 L398.66 621.31 L396.56 621.53 L394.48 621.83 L392.41 622.2 L390.4 622.62 L388.49 623.06 L386.74 623.5 L385.19 623.89 L383.88 624.23 L382.87 624.47 Z" fill="#999" fill-opacity="0.3"/>
<path d="M383.85 617.62 L384.78 617.62 L385.97 617.62 L387.38 617.62 L388.98 617.62 L390.73 617.62 L392.6 617.62 L394.56 617.62 L396.56 617.62 L398.68 617.62 L400.97 617.62 L403.4 617.62 L405.92 617.62 L408.49 617.62 L411.07 617.62 L413.63 617.62 L416.12 617.62 L418.57 617.62 L421.01 617.61 L423.46 617.59 L425.91 617.58 L428.35 617.58 L430.8 617.58 L433.24 617.59 L435.69 617.62 L438.13 617.67 L440.58 617.74 L443.02 617.82 L445.47 617.91 L447.91 618 L450.36 618.09 L452.8 618.16 L455.25 618.21 L457.75 618.23 L460.32 618.24 L462.93 618.23 L465.52 618.22 L468.05 618.2 L470.47 618.19 L472.74 618.19 L474.81 618.21 L476.64 618.22 L478.25 618.23 L479.7 618.23 L481.05 618.24 L482.35 618.28 L483.66 618.34 L485.04 618.44 L486.55 618.6 L488.26 618.83 L490.15 619.14 L492.14 619.51 L494.13 619.89 L496.02 620.28 L497.73 620.63 L499.17 620.93 L500.24 621.14" fill="none" stroke="#1F4AA8" stroke-width="2.5" stroke-dasharray="11 10.5"/>
<rect x="377.5" y="556.6" width="132.5" height="130" fill="none" stroke="#333" stroke-width="1"/>
<rect x="377.5" y="545.6" width="132.5" height="10.2" fill="#D9D9D9" stroke="#333" stroke-width="1"/>
<text x="445.5" y="552.9" font-size="6.3" text-anchor="middle" fill="#1A1A1A" stroke="#1A1A1A" stroke-width="0.15">Family history of CRC in FDR (Yes)</text>
<line x1="382.9" y1="686.6" x2="382.9" y2="688.7" stroke="#333" stroke-width="0.9"/>
<text x="382.9" y="696.1" font-size="6.3" text-anchor="middle" fill="#333" stroke="#333" stroke-width="0.15">0</text>
<line x1="418.16" y1="686.6" x2="418.16" y2="688.7" stroke="#333" stroke-width="0.9"/>
<text x="418.16" y="696.1" font-size="6.3" text-anchor="middle" fill="#333" stroke="#333" stroke-width="0.15">50</text>
<line x1="453.43" y1="686.6" x2="453.43" y2="688.7" stroke="#333" stroke-width="0.9"/>
<text x="453.43" y="696.1" font-size="6.3" text-anchor="middle" fill="#333" stroke="#333" stroke-width="0.15">100</text>
<line x1="488.69" y1="686.6" x2="488.69" y2="688.7" stroke="#333" stroke-width="0.9"/>
<text x="488.69" y="696.1" font-size="6.3" text-anchor="middle" fill="#333" stroke="#333" stroke-width="0.15">150</text>
<line x1="375.4" y1="575.8" x2="377.5" y2="575.8" stroke="#333" stroke-width="0.9"/>
<text x="373.4" y="578.3" font-size="6.3" text-anchor="end" fill="#333" stroke="#333" stroke-width="0.15">0.10</text>
<line x1="375.4" y1="596.85" x2="377.5" y2="596.85" stroke="#333" stroke-width="0.9"/>
<text x="373.4" y="599.35" font-size="6.3" text-anchor="end" fill="#333" stroke="#333" stroke-width="0.15">0.05</text>
<line x1="375.4" y1="617.9" x2="377.5" y2="617.9" stroke="#333" stroke-width="0.9"/>
<text x="373.4" y="620.4" font-size="6.3" text-anchor="end" fill="#333" stroke="#333" stroke-width="0.15">0.00</text>
<line x1="375.4" y1="638.95" x2="377.5" y2="638.95" stroke="#333" stroke-width="0.9"/>
<text x="373.4" y="641.45" font-size="6.3" text-anchor="end" fill="#333" stroke="#333" stroke-width="0.15">−0.05</text>
<line x1="375.4" y1="660" x2="377.5" y2="660" stroke="#333" stroke-width="0.9"/>
<text x="373.4" y="662.5" font-size="6.3" text-anchor="end" fill="#333" stroke="#333" stroke-width="0.15">−0.10</text>
<line x1="375.4" y1="681.05" x2="377.5" y2="681.05" stroke="#333" stroke-width="0.9"/>
<text x="373.4" y="683.55" font-size="6.3" text-anchor="end" fill="#333" stroke="#333" stroke-width="0.15">−0.15</text>
<text x="439.9" y="702.9" font-size="6.3" text-anchor="middle" stroke="#000" stroke-width="0.15">Observation Id</text>
<text x="354.8" y="626" font-size="6.3" text-anchor="middle" transform="rotate(-90 354.8 626)" stroke="#000" stroke-width="0.15">Residuals (type = dfbeta)</text>
<rect x="548.6" y="556.6" width="132.4" height="130" fill="#fff" stroke="none" stroke-width="1"/>
<line x1="553.9" y1="556.6" x2="553.9" y2="686.6" stroke="#EBEBEB" stroke-width="0.9"/>
<line x1="571.45" y1="556.6" x2="571.45" y2="686.6" stroke="#EBEBEB" stroke-width="0.6"/>
<line x1="589" y1="556.6" x2="589" y2="686.6" stroke="#EBEBEB" stroke-width="0.9"/>
<line x1="606.55" y1="556.6" x2="606.55" y2="686.6" stroke="#EBEBEB" stroke-width="0.6"/>
<line x1="624.1" y1="556.6" x2="624.1" y2="686.6" stroke="#EBEBEB" stroke-width="0.9"/>
<line x1="641.65" y1="556.6" x2="641.65" y2="686.6" stroke="#EBEBEB" stroke-width="0.6"/>
<line x1="659.2" y1="556.6" x2="659.2" y2="686.6" stroke="#EBEBEB" stroke-width="0.9"/>
<line x1="676.75" y1="556.6" x2="676.75" y2="686.6" stroke="#EBEBEB" stroke-width="0.6"/>
<line x1="548.6" y1="675.9" x2="681" y2="675.9" stroke="#EBEBEB" stroke-width="0.9"/>
<line x1="548.6" y1="660" x2="681" y2="660" stroke="#EBEBEB" stroke-width="0.6"/>
<line x1="548.6" y1="644.1" x2="681" y2="644.1" stroke="#EBEBEB" stroke-width="0.9"/>
<line x1="548.6" y1="628.2" x2="681" y2="628.2" stroke="#EBEBEB" stroke-width="0.6"/>
<line x1="548.6" y1="612.3" x2="681" y2="612.3" stroke="#EBEBEB" stroke-width="0.9"/>
<line x1="548.6" y1="596.4" x2="681" y2="596.4" stroke="#EBEBEB" stroke-width="0.6"/>
<line x1="548.6" y1="580.5" x2="681" y2="580.5" stroke="#EBEBEB" stroke-width="0.9"/>
<line x1="548.6" y1="564.6" x2="681" y2="564.6" stroke="#EBEBEB" stroke-width="0.6"/>
<circle cx="557.41" cy="615.65" r="1.5" fill="#000"/>
<circle cx="558.11" cy="621.1" r="1.5" fill="#000"/>
<circle cx="559.52" cy="617.29" r="1.5" fill="#000"/>
<circle cx="560.92" cy="617.18" r="1.5" fill="#000"/>
<circle cx="561.62" cy="615.89" r="1.5" fill="#000"/>
<circle cx="565.13" cy="614.91" r="1.5" fill="#000"/>
<circle cx="567.94" cy="615.55" r="1.5" fill="#000"/>
<circle cx="568.64" cy="613.72" r="1.5" fill="#000"/>
<circle cx="570.05" cy="611.85" r="1.5" fill="#000"/>
<circle cx="571.45" cy="611.35" r="1.5" fill="#000"/>
<circle cx="572.15" cy="610.65" r="1.5" fill="#000"/>
<circle cx="572.85" cy="614.4" r="1.5" fill="#000"/>
<circle cx="575.66" cy="615.12" r="1.5" fill="#000"/>
<circle cx="576.36" cy="617.93" r="1.5" fill="#000"/>
<circle cx="577.77" cy="614.87" r="1.5" fill="#000"/>
<circle cx="578.47" cy="614.22" r="1.5" fill="#000"/>
<circle cx="580.58" cy="615.07" r="1.5" fill="#000"/>
<circle cx="581.28" cy="613.24" r="1.5" fill="#000"/>
<circle cx="582.68" cy="608.18" r="1.5" fill="#000"/>
<circle cx="583.38" cy="615.89" r="1.5" fill="#000"/>
<circle cx="584.09" cy="611.83" r="1.5" fill="#000"/>
<circle cx="584.79" cy="613.58" r="1.5" fill="#000"/>
<circle cx="587.6" cy="612.07" r="1.5" fill="#000"/>
<circle cx="589" cy="618.92" r="1.5" fill="#000"/>
<circle cx="589.7" cy="615.72" r="1.5" fill="#000"/>
<circle cx="591.11" cy="613.71" r="1.5" fill="#000"/>
<circle cx="594.62" cy="609.4" r="1.5" fill="#000"/>
<circle cx="595.32" cy="614.77" r="1.5" fill="#000"/>
<circle cx="596.02" cy="609.97" r="1.5" fill="#000"/>
<circle cx="598.13" cy="615.41" r="1.5" fill="#000"/>
<circle cx="598.83" cy="608.26" r="1.5" fill="#000"/>
<circle cx="600.93" cy="612.08" r="1.5" fill="#000"/>
<circle cx="601.64" cy="614.82" r="1.5" fill="#000"/>
<circle cx="603.04" cy="610.03" r="1.5" fill="#000"/>
<circle cx="603.74" cy="612.62" r="1.5" fill="#000"/>
<circle cx="604.44" cy="612.76" r="1.5" fill="#000"/>
<circle cx="605.85" cy="614.87" r="1.5" fill="#000"/>
<circle cx="607.25" cy="611.05" r="1.5" fill="#000"/>
<circle cx="608.66" cy="614.3" r="1.5" fill="#000"/>
<circle cx="611.46" cy="618.16" r="1.5" fill="#000"/>
<circle cx="612.17" cy="608.61" r="1.5" fill="#000"/>
<circle cx="613.57" cy="610.37" r="1.5" fill="#000"/>
<circle cx="614.27" cy="613.97" r="1.5" fill="#000"/>
<circle cx="614.97" cy="610.99" r="1.5" fill="#000"/>
<circle cx="615.68" cy="609.16" r="1.5" fill="#000"/>
<circle cx="617.08" cy="616.74" r="1.5" fill="#000"/>
<circle cx="617.78" cy="615.53" r="1.5" fill="#000"/>
<circle cx="618.48" cy="615.96" r="1.5" fill="#000"/>
<circle cx="619.19" cy="615.95" r="1.5" fill="#000"/>
<circle cx="620.59" cy="615.08" r="1.5" fill="#000"/>
<circle cx="623.4" cy="611.09" r="1.5" fill="#000"/>
<circle cx="625.5" cy="607.04" r="1.5" fill="#000"/>
<circle cx="628.31" cy="614.99" r="1.5" fill="#000"/>
<circle cx="629.01" cy="610.68" r="1.5" fill="#000"/>
<circle cx="631.12" cy="613.56" r="1.5" fill="#000"/>
<circle cx="631.82" cy="614.43" r="1.5" fill="#000"/>
<circle cx="633.23" cy="609.87" r="1.5" fill="#000"/>
<circle cx="633.93" cy="612.31" r="1.5" fill="#000"/>
<circle cx="639.54" cy="617.63" r="1.5" fill="#000"/>
<circle cx="640.25" cy="614.98" r="1.5" fill="#000"/>
<circle cx="640.95" cy="608.48" r="1.5" fill="#000"/>
<circle cx="642.35" cy="612.27" r="1.5" fill="#000"/>
<circle cx="643.05" cy="612.79" r="1.5" fill="#000"/>
<circle cx="644.46" cy="614.28" r="1.5" fill="#000"/>
<circle cx="645.16" cy="614.72" r="1.5" fill="#000"/>
<circle cx="646.56" cy="612.45" r="1.5" fill="#000"/>
<circle cx="647.27" cy="611.94" r="1.5" fill="#000"/>
<circle cx="650.78" cy="614.73" r="1.5" fill="#000"/>
<circle cx="651.48" cy="608.45" r="1.5" fill="#000"/>
<circle cx="652.18" cy="615.38" r="1.5" fill="#000"/>
<circle cx="654.29" cy="613.06" r="1.5" fill="#000"/>
<circle cx="655.69" cy="610.7" r="1.5" fill="#000"/>
<circle cx="656.39" cy="610.39" r="1.5" fill="#000"/>
<circle cx="657.09" cy="612.5" r="1.5" fill="#000"/>
<circle cx="660.6" cy="607.44" r="1.5" fill="#000"/>
<circle cx="662.01" cy="604.9" r="1.5" fill="#000"/>
<circle cx="664.82" cy="611.9" r="1.5" fill="#000"/>
<circle cx="665.52" cy="614.72" r="1.5" fill="#000"/>
<circle cx="667.62" cy="610.1" r="1.5" fill="#000"/>
<circle cx="668.33" cy="610.54" r="1.5" fill="#000"/>
<circle cx="669.73" cy="610.18" r="1.5" fill="#000"/>
<circle cx="673.24" cy="607.41" r="1.5" fill="#000"/>
<circle cx="673.94" cy="611.11" r="1.5" fill="#000"/>
<circle cx="674.64" cy="612.21" r="1.5" fill="#000"/>
<circle cx="574.41" cy="563.43" r="1.5" fill="#000"/>
<circle cx="670.85" cy="562.26" r="1.5" fill="#000"/>
<circle cx="666.35" cy="567.35" r="1.5" fill="#000"/>
<circle cx="650.11" cy="569.3" r="1.5" fill="#000"/>
<circle cx="609.03" cy="580.84" r="1.5" fill="#000"/>
<circle cx="649.72" cy="586.32" r="1.5" fill="#000"/>
<circle cx="562.67" cy="592.78" r="1.5" fill="#000"/>
<circle cx="605.12" cy="589.65" r="1.5" fill="#000"/>
<circle cx="659.5" cy="590.82" r="1.5" fill="#000"/>
<circle cx="635.05" cy="592.78" r="1.5" fill="#000"/>
<circle cx="602.38" cy="596.1" r="1.5" fill="#000"/>
<circle cx="607.66" cy="597.47" r="1.5" fill="#000"/>
<circle cx="619.99" cy="595.52" r="1.5" fill="#000"/>
<circle cx="622.34" cy="594.73" r="1.5" fill="#000"/>
<circle cx="637.01" cy="597.08" r="1.5" fill="#000"/>
<circle cx="664.39" cy="596.1" r="1.5" fill="#000"/>
<circle cx="672.81" cy="596.1" r="1.5" fill="#000"/>
<circle cx="592.99" cy="600.01" r="1.5" fill="#000"/>
<circle cx="610.6" cy="602.95" r="1.5" fill="#000"/>
<circle cx="616.08" cy="601.97" r="1.5" fill="#000"/>
<circle cx="599.25" cy="603.34" r="1.5" fill="#000"/>
<circle cx="653.64" cy="600.6" r="1.5" fill="#000"/>
<circle cx="655.2" cy="601.38" r="1.5" fill="#000"/>
<circle cx="648.74" cy="601.97" r="1.5" fill="#000"/>
<circle cx="663.42" cy="602.95" r="1.5" fill="#000"/>
<circle cx="670.26" cy="603.93" r="1.5" fill="#000"/>
<circle cx="556.8" cy="603.54" r="1.5" fill="#000"/>
<circle cx="556.22" cy="607.25" r="1.5" fill="#000"/>
<circle cx="560.13" cy="607.84" r="1.5" fill="#000"/>
<circle cx="574.41" cy="605.88" r="1.5" fill="#000"/>
<circle cx="624.68" cy="602.95" r="1.5" fill="#000"/>
<circle cx="627.23" cy="603.93" r="1.5" fill="#000"/>
<circle cx="629.77" cy="604.51" r="1.5" fill="#000"/>
<circle cx="636.42" cy="607.25" r="1.5" fill="#000"/>
<circle cx="638.96" cy="607.25" r="1.5" fill="#000"/>
<circle cx="657.55" cy="604.51" r="1.5" fill="#000"/>
<circle cx="661.46" cy="606.47" r="1.5" fill="#000"/>
<circle cx="567.56" cy="608.43" r="1.5" fill="#000"/>
<circle cx="569.52" cy="608.43" r="1.5" fill="#000"/>
<circle cx="563.65" cy="609.8" r="1.5" fill="#000"/>
<circle cx="565.61" cy="609.21" r="1.5" fill="#000"/>
<circle cx="596.91" cy="609.21" r="1.5" fill="#000"/>
<circle cx="592.99" cy="609.8" r="1.5" fill="#000"/>
<circle cx="587.12" cy="610.38" r="1.5" fill="#000"/>
<circle cx="582.23" cy="610.77" r="1.5" fill="#000"/>
<circle cx="570.5" cy="681.2" r="1.5" fill="#000"/>
<circle cx="554.26" cy="654.4" r="1.5" fill="#000"/>
<circle cx="621.36" cy="648.92" r="1.5" fill="#000"/>
<circle cx="632.51" cy="646.96" r="1.5" fill="#000"/>
<circle cx="641.9" cy="643.44" r="1.5" fill="#000"/>
<circle cx="672.22" cy="646.96" r="1.5" fill="#000"/>
<circle cx="612.55" cy="641.68" r="1.5" fill="#000"/>
<circle cx="630.55" cy="638.55" r="1.5" fill="#000"/>
<circle cx="643.46" cy="635.81" r="1.5" fill="#000"/>
<circle cx="646.2" cy="639.73" r="1.5" fill="#000"/>
<circle cx="659.89" cy="635.23" r="1.5" fill="#000"/>
<circle cx="666.94" cy="640.51" r="1.5" fill="#000"/>
<circle cx="578.91" cy="631.31" r="1.5" fill="#000"/>
<circle cx="586.15" cy="633.86" r="1.5" fill="#000"/>
<circle cx="573.43" cy="627.99" r="1.5" fill="#000"/>
<circle cx="564.04" cy="626.81" r="1.5" fill="#000"/>
<circle cx="609.62" cy="629.94" r="1.5" fill="#000"/>
<circle cx="625.86" cy="626.03" r="1.5" fill="#000"/>
<circle cx="623.9" cy="622.51" r="1.5" fill="#000"/>
<circle cx="638.38" cy="627.99" r="1.5" fill="#000"/>
<circle cx="658.53" cy="620.95" r="1.5" fill="#000"/>
<circle cx="675.15" cy="618.6" r="1.5" fill="#000"/>
<circle cx="648.16" cy="618.99" r="1.5" fill="#000"/>
<circle cx="637.59" cy="620.55" r="1.5" fill="#000"/>
<circle cx="635.64" cy="617.62" r="1.5" fill="#000"/>
<circle cx="627.23" cy="618.21" r="1.5" fill="#000"/>
<circle cx="622.73" cy="617.62" r="1.5" fill="#000"/>
<circle cx="606.29" cy="619.58" r="1.5" fill="#000"/>
<circle cx="600.43" cy="618.21" r="1.5" fill="#000"/>
<circle cx="596.91" cy="625.45" r="1.5" fill="#000"/>
<circle cx="588.1" cy="624.86" r="1.5" fill="#000"/>
<circle cx="585.17" cy="623.49" r="1.5" fill="#000"/>
<circle cx="592.01" cy="620.95" r="1.5" fill="#000"/>
<circle cx="593.38" cy="620.16" r="1.5" fill="#000"/>
<circle cx="590.06" cy="618.21" r="1.5" fill="#000"/>
<circle cx="579.69" cy="620.16" r="1.5" fill="#000"/>
<circle cx="577.34" cy="621.53" r="1.5" fill="#000"/>
<circle cx="566" cy="618.6" r="1.5" fill="#000"/>
<circle cx="562.67" cy="619.58" r="1.5" fill="#000"/>
<circle cx="558.76" cy="620.16" r="1.5" fill="#000"/>
<circle cx="555.43" cy="618.99" r="1.5" fill="#000"/>
<circle cx="669.28" cy="615.08" r="1.5" fill="#000"/>
<circle cx="663.42" cy="614.29" r="1.5" fill="#000"/>
<circle cx="652.66" cy="614.29" r="1.5" fill="#000"/>
<line x1="548.6" y1="612.3" x2="681" y2="612.3" stroke="#E4232A" stroke-width="2.2" stroke-dasharray="10.5 10.5"/>
<path d="M553.87 612.73 L554.88 612.67 L556.19 612.6 L557.74 612.52 L559.49 612.42 L561.4 612.3 L563.41 612.16 L565.48 611.97 L567.56 611.75 L569.73 611.46 L572.04 611.1 L574.47 610.68 L576.98 610.25 L579.53 609.82 L582.1 609.42 L584.64 609.08 L587.12 608.82 L589.57 608.64 L592.01 608.51 L594.46 608.43 L596.91 608.39 L599.35 608.38 L601.8 608.38 L604.24 608.4 L606.69 608.43 L609.13 608.47 L611.58 608.56 L614.02 608.67 L616.47 608.79 L618.91 608.92 L621.36 609.04 L623.8 609.14 L626.25 609.21 L628.69 609.28 L631.14 609.36 L633.58 609.46 L636.03 609.53 L638.47 609.56 L640.92 609.53 L643.36 609.42 L645.81 609.21 L648.32 608.89 L650.93 608.47 L653.58 607.98 L656.2 607.42 L658.75 606.82 L661.17 606.19 L663.4 605.55 L665.37 604.91 L667.13 604.21 L668.73 603.41 L670.19 602.56 L671.49 601.7 L672.63 600.88 L673.63 600.13 L674.47 599.5 L675.15 599.04 L675.15 612.73 L674.47 612.71 L673.63 612.66 L672.63 612.6 L671.49 612.55 L670.19 612.52 L668.73 612.52 L667.13 612.59 L665.37 612.73 L663.4 612.96 L661.17 613.28 L658.75 613.66 L656.2 614.07 L653.58 614.51 L650.93 614.93 L648.32 615.32 L645.81 615.66 L643.36 615.99 L640.92 616.34 L638.47 616.68 L636.03 617.01 L633.58 617.29 L631.14 617.5 L628.69 617.62 L626.25 617.62 L623.8 617.46 L621.36 617.14 L618.91 616.71 L616.47 616.21 L614.02 615.71 L611.58 615.26 L609.13 614.9 L606.69 614.69 L604.24 614.61 L601.8 614.61 L599.35 614.68 L596.91 614.81 L594.46 614.98 L592.01 615.19 L589.57 615.42 L587.12 615.66 L584.64 615.92 L582.1 616.21 L579.53 616.54 L576.98 616.89 L574.47 617.27 L572.04 617.68 L569.73 618.12 L567.56 618.6 L565.48 619.15 L563.41 619.8 L561.4 620.5 L559.49 621.23 L557.74 621.93 L556.19 622.56 L554.88 623.1 L553.87 623.49 Z" fill="#999" fill-opacity="0.3"/>
<path d="M554.85 617.62 L555.49 617.47 L556.31 617.26 L557.29 617 L558.39 616.73 L559.6 616.44 L560.9 616.16 L562.26 615.89 L563.65 615.66 L565.15 615.47 L566.82 615.29 L568.6 615.12 L570.44 614.96 L572.28 614.8 L574.08 614.64 L575.79 614.47 L577.34 614.29 L578.75 614.1 L580.06 613.9 L581.3 613.7 L582.48 613.49 L583.63 613.28 L584.77 613.08 L585.93 612.9 L587.12 612.73 L588.35 612.57 L589.57 612.42 L590.79 612.28 L592.01 612.14 L593.24 612.02 L594.46 611.91 L595.68 611.82 L596.91 611.75 L598.13 611.7 L599.35 611.66 L600.57 611.64 L601.8 611.63 L603.02 611.64 L604.24 611.66 L605.46 611.7 L606.69 611.75 L607.9 611.82 L609.09 611.91 L610.27 612.02 L611.45 612.14 L612.66 612.28 L613.88 612.42 L615.15 612.57 L616.47 612.73 L617.87 612.92 L619.36 613.14 L620.9 613.39 L622.46 613.65 L624 613.88 L625.5 614.08 L626.91 614.23 L628.2 614.29 L629.36 614.28 L630.39 614.18 L631.34 614.04 L632.24 613.85 L633.12 613.65 L634.03 613.45 L634.98 613.27 L636.03 613.12 L637.16 613.01 L638.34 612.91 L639.55 612.82 L640.8 612.73 L642.06 612.64 L643.32 612.55 L644.57 612.45 L645.81 612.34 L647.05 612.22 L648.3 612.09 L649.56 611.96 L650.82 611.83 L652.07 611.68 L653.28 611.52 L654.46 611.35 L655.59 611.16 L656.66 610.96 L657.68 610.73 L658.67 610.49 L659.63 610.24 L660.57 609.98 L661.51 609.72 L662.45 609.46 L663.42 609.21 L664.45 608.95 L665.56 608.67 L666.69 608.39 L667.82 608.11 L668.88 607.84 L669.83 607.6 L670.64 607.4 L671.24 607.25" fill="none" stroke="#1F4AA8" stroke-width="2.5" stroke-dasharray="11 10.5"/>
<rect x="548.6" y="556.6" width="132.4" height="130" fill="none" stroke="#333" stroke-width="1"/>
<rect x="548.6" y="545.6" width="132.4" height="10.2" fill="#D9D9D9" stroke="#333" stroke-width="1"/>
<text x="616.35" y="552.9" font-size="6.3" text-anchor="middle" fill="#1A1A1A" stroke="#1A1A1A" stroke-width="0.15">History of chronic constipation (Yes)</text>
<line x1="553.9" y1="686.6" x2="553.9" y2="688.7" stroke="#333" stroke-width="0.9"/>
<text x="553.9" y="696.1" font-size="6.3" text-anchor="middle" fill="#333" stroke="#333" stroke-width="0.15">0</text>
<line x1="589" y1="686.6" x2="589" y2="688.7" stroke="#333" stroke-width="0.9"/>
<text x="589" y="696.1" font-size="6.3" text-anchor="middle" fill="#333" stroke="#333" stroke-width="0.15">50</text>
<line x1="624.1" y1="686.6" x2="624.1" y2="688.7" stroke="#333" stroke-width="0.9"/>
<text x="624.1" y="696.1" font-size="6.3" text-anchor="middle" fill="#333" stroke="#333" stroke-width="0.15">100</text>
<line x1="659.2" y1="686.6" x2="659.2" y2="688.7" stroke="#333" stroke-width="0.9"/>
<text x="659.2" y="696.1" font-size="6.3" text-anchor="middle" fill="#333" stroke="#333" stroke-width="0.15">150</text>
<line x1="546.5" y1="580.5" x2="548.6" y2="580.5" stroke="#333" stroke-width="0.9"/>
<text x="544.5" y="583" font-size="6.3" text-anchor="end" fill="#333" stroke="#333" stroke-width="0.15">0.05</text>
<line x1="546.5" y1="612.3" x2="548.6" y2="612.3" stroke="#333" stroke-width="0.9"/>
<text x="544.5" y="614.8" font-size="6.3" text-anchor="end" fill="#333" stroke="#333" stroke-width="0.15">0.00</text>
<line x1="546.5" y1="644.1" x2="548.6" y2="644.1" stroke="#333" stroke-width="0.9"/>
<text x="544.5" y="646.6" font-size="6.3" text-anchor="end" fill="#333" stroke="#333" stroke-width="0.15">−0.05</text>
<line x1="546.5" y1="675.9" x2="548.6" y2="675.9" stroke="#333" stroke-width="0.9"/>
<text x="544.5" y="678.4" font-size="6.3" text-anchor="end" fill="#333" stroke="#333" stroke-width="0.15">−0.10</text>
<text x="611.35" y="702.9" font-size="6.3" text-anchor="middle" stroke="#000" stroke-width="0.15">Observation Id</text>
<text x="526.7" y="626" font-size="6.3" text-anchor="middle" transform="rotate(-90 526.7 626)" stroke="#000" stroke-width="0.15">Residuals (type = dfbeta)</text>
</svg></body></html>
